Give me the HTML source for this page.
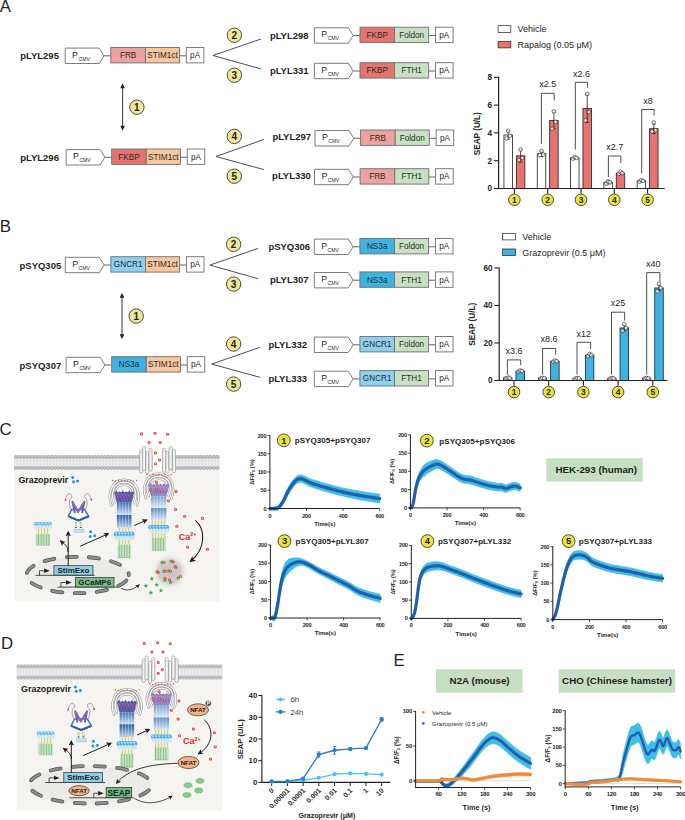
<!DOCTYPE html><html><head><meta charset="utf-8"><title>Figure</title><style>html,body{margin:0;padding:0;background:#fff;}svg{display:block;}text{font-family:"Liberation Sans", sans-serif;}</style></head><body>
<svg width="685" height="820" viewBox="0 0 685 820" font-family="&quot;Liberation Sans&quot;, sans-serif">
<defs>
<linearGradient id="gBlueA" x1="0" y1="0" x2="0" y2="1"><stop offset="0" stop-color="#3a70b4"/><stop offset="0.47" stop-color="#c9dbef"/><stop offset="0.5" stop-color="#2b5d9f"/><stop offset="1" stop-color="#bcd2eb"/></linearGradient>
<linearGradient id="gBlueB" x1="0" y1="0" x2="0" y2="1"><stop offset="0" stop-color="#7a9fcf"/><stop offset="0.47" stop-color="#dbe6f3"/><stop offset="0.5" stop-color="#5f8bc3"/><stop offset="1" stop-color="#d6e4f2"/></linearGradient>
<linearGradient id="gPurp" x1="0" y1="0" x2="0" y2="1"><stop offset="0" stop-color="#7a64ae"/><stop offset="0.6" stop-color="#5e4b96"/><stop offset="1" stop-color="#4d5f9f"/></linearGradient>
<linearGradient id="gPurpB" x1="0" y1="0" x2="0" y2="1"><stop offset="0" stop-color="#a898cc"/><stop offset="0.6" stop-color="#8a78b8"/><stop offset="1" stop-color="#8299c8"/></linearGradient>
<linearGradient id="gRing" x1="0" y1="0" x2="0" y2="1"><stop offset="0" stop-color="#b6dcf2"/><stop offset="0.5" stop-color="#4eaee3"/><stop offset="1" stop-color="#cfe7f6"/></linearGradient>
<pattern id="pStripe" x="0" y="0" width="2.6" height="10" patternUnits="userSpaceOnUse"><rect width="2.6" height="10" fill="#c4e2bd"/><rect x="2" width="0.6" height="10" fill="#6da875"/></pattern>
<pattern id="pYel" x="0" y="0" width="3" height="10" patternUnits="userSpaceOnUse"><rect width="3" height="10" fill="#f0efc6"/><rect x="2.4" width="0.6" height="10" fill="#b8b78e"/></pattern>
<radialGradient id="gGlow"><stop offset="0" stop-color="#cbbcbc" stop-opacity="0.9"/><stop offset="0.6" stop-color="#cfc3c2" stop-opacity="0.85"/><stop offset="1" stop-color="#f4f3f0" stop-opacity="0"/></radialGradient>
<marker id="ah" viewBox="0 0 10 10" refX="8" refY="5" markerWidth="5.6" markerHeight="5.6" orient="auto-start-reverse"><path d="M0 0L10 5L0 10L2.5 5Z" fill="#231f20"/></marker>
</defs>
<rect x="0" y="0" width="685" height="820" fill="#ffffff" stroke="none" stroke-width="1"/>
<text x="-0.3" y="12.4" font-size="16.8" fill="#231f20">A</text>
<text x="20.2" y="59.3" font-size="9.5" font-weight="bold" fill="#231f20">pLYL295</text>
<path d="M65.2 48.1H99.2L104 55.8L99.2 63.5H65.2Z" fill="#fff" stroke="#6d6e71" stroke-width="0.9"/>
<text x="72.1" y="57.7" font-size="8.8" fill="#2a2a2a">P</text>
<text x="78.5" y="60.6" font-size="5.1" fill="#2a2a2a">CMV</text>
<line x1="104" y1="55.8" x2="110.8" y2="55.8" stroke="#555" stroke-width="0.9"/>
<rect x="110.8" y="47.5" width="34.6" height="15.4" fill="#eda29d" stroke="#6d6e71" stroke-width="0.9"/>
<rect x="145.4" y="47.5" width="34.1" height="15.4" fill="#f8c7a0" stroke="#6d6e71" stroke-width="0.9"/>
<text x="128.1" y="58.1" font-size="8.2" text-anchor="middle" fill="#2a2a2a">FRB</text>
<text x="162.45" y="58.1" font-size="8.2" text-anchor="middle" fill="#2a2a2a">STIM1ct</text>
<line x1="179.5" y1="55.8" x2="186.3" y2="55.8" stroke="#555" stroke-width="0.9"/>
<rect x="186.3" y="47.5" width="17.6" height="15.4" fill="#fff" stroke="#6d6e71" stroke-width="0.9"/>
<text x="195.1" y="58.1" font-size="8.2" text-anchor="middle" fill="#2a2a2a">pA</text>
<text x="20.2" y="160.8" font-size="9.5" font-weight="bold" fill="#231f20">pLYL296</text>
<path d="M66.1 149.6H100.1L104.9 157.3L100.1 165H66.1Z" fill="#fff" stroke="#6d6e71" stroke-width="0.9"/>
<text x="73" y="159.2" font-size="8.8" fill="#2a2a2a">P</text>
<text x="79.4" y="162.1" font-size="5.1" fill="#2a2a2a">CMV</text>
<line x1="104.9" y1="157.3" x2="111.7" y2="157.3" stroke="#555" stroke-width="0.9"/>
<rect x="111.7" y="149" width="34.6" height="15.4" fill="#e6736f" stroke="#6d6e71" stroke-width="0.9"/>
<rect x="146.3" y="149" width="34.1" height="15.4" fill="#f8c7a0" stroke="#6d6e71" stroke-width="0.9"/>
<text x="129" y="159.6" font-size="8.2" text-anchor="middle" fill="#2a2a2a">FKBP</text>
<text x="163.35" y="159.6" font-size="8.2" text-anchor="middle" fill="#2a2a2a">STIM1ct</text>
<line x1="180.4" y1="157.3" x2="187.2" y2="157.3" stroke="#555" stroke-width="0.9"/>
<rect x="187.2" y="149" width="17.6" height="15.4" fill="#fff" stroke="#6d6e71" stroke-width="0.9"/>
<text x="196" y="159.6" font-size="8.2" text-anchor="middle" fill="#2a2a2a">pA</text>
<line x1="122.6" y1="86.3" x2="122.6" y2="127.8" stroke="#231f20" stroke-width="0.9"/>
<path d="M122.6 83.3L120.3 88.3L124.9 88.3Z" fill="#231f20" stroke="none" stroke-width="1"/>
<path d="M122.6 130.8L120.3 125.8L124.9 125.8Z" fill="#231f20" stroke="none" stroke-width="1"/>
<circle cx="136.9" cy="107.2" r="7.2" fill="#f1e798" stroke="#3a3a3a" stroke-width="0.9"/>
<text x="136.9" y="110.8" font-size="10" font-weight="bold" text-anchor="middle" fill="#231f20">1</text>
<path d="M261 39L213 55.5M213 55.5L261 68.9" fill="none" stroke="#3a3a3a" stroke-width="0.9"/>
<circle cx="234.4" cy="35.2" r="7.2" fill="#f1e798" stroke="#3a3a3a" stroke-width="0.9"/>
<text x="234.4" y="38.8" font-size="10" font-weight="bold" text-anchor="middle" fill="#231f20">2</text>
<circle cx="234.4" cy="75.2" r="7.2" fill="#f1e798" stroke="#3a3a3a" stroke-width="0.9"/>
<text x="234.4" y="78.8" font-size="10" font-weight="bold" text-anchor="middle" fill="#231f20">3</text>
<text x="269.9" y="39" font-size="9.5" font-weight="bold" fill="#231f20">pLYL298</text>
<path d="M314.4 27.8H348.4L353.2 35.5L348.4 43.2H314.4Z" fill="#fff" stroke="#6d6e71" stroke-width="0.9"/>
<text x="321.3" y="37.4" font-size="8.8" fill="#2a2a2a">P</text>
<text x="327.7" y="40.3" font-size="5.1" fill="#2a2a2a">CMV</text>
<line x1="353.2" y1="35.5" x2="360" y2="35.5" stroke="#555" stroke-width="0.9"/>
<rect x="360" y="27.2" width="34.6" height="15.4" fill="#e6736f" stroke="#6d6e71" stroke-width="0.9"/>
<rect x="394.6" y="27.2" width="34.1" height="15.4" fill="#c9e1c3" stroke="#6d6e71" stroke-width="0.9"/>
<text x="377.3" y="37.8" font-size="8.2" text-anchor="middle" fill="#2a2a2a">FKBP</text>
<text x="411.65" y="37.8" font-size="8.2" text-anchor="middle" fill="#2a2a2a">Foldon</text>
<line x1="428.7" y1="35.5" x2="435.5" y2="35.5" stroke="#555" stroke-width="0.9"/>
<rect x="435.5" y="27.2" width="17.6" height="15.4" fill="#fff" stroke="#6d6e71" stroke-width="0.9"/>
<text x="444.3" y="37.8" font-size="8.2" text-anchor="middle" fill="#2a2a2a">pA</text>
<text x="269.9" y="73.6" font-size="9.5" font-weight="bold" fill="#231f20">pLYL331</text>
<path d="M314.4 63.3H348.4L353.2 71L348.4 78.7H314.4Z" fill="#fff" stroke="#6d6e71" stroke-width="0.9"/>
<text x="321.3" y="72.9" font-size="8.8" fill="#2a2a2a">P</text>
<text x="327.7" y="75.8" font-size="5.1" fill="#2a2a2a">CMV</text>
<line x1="353.2" y1="71" x2="360" y2="71" stroke="#555" stroke-width="0.9"/>
<rect x="360" y="62.7" width="34.6" height="15.4" fill="#e6736f" stroke="#6d6e71" stroke-width="0.9"/>
<rect x="394.6" y="62.7" width="34.1" height="15.4" fill="#c9e1c3" stroke="#6d6e71" stroke-width="0.9"/>
<text x="377.3" y="73.3" font-size="8.2" text-anchor="middle" fill="#2a2a2a">FKBP</text>
<text x="411.65" y="73.3" font-size="8.2" text-anchor="middle" fill="#2a2a2a">FTH1</text>
<line x1="428.7" y1="71" x2="435.5" y2="71" stroke="#555" stroke-width="0.9"/>
<rect x="435.5" y="62.7" width="17.6" height="15.4" fill="#fff" stroke="#6d6e71" stroke-width="0.9"/>
<text x="444.3" y="73.3" font-size="8.2" text-anchor="middle" fill="#2a2a2a">pA</text>
<path d="M264 139.4L216 156.5M216 156.5L264 169.6" fill="none" stroke="#3a3a3a" stroke-width="0.9"/>
<circle cx="234.3" cy="136.4" r="7.2" fill="#f1e798" stroke="#3a3a3a" stroke-width="0.9"/>
<text x="234.3" y="140" font-size="10" font-weight="bold" text-anchor="middle" fill="#231f20">4</text>
<circle cx="234.3" cy="176.2" r="7.2" fill="#f1e798" stroke="#3a3a3a" stroke-width="0.9"/>
<text x="234.3" y="179.8" font-size="10" font-weight="bold" text-anchor="middle" fill="#231f20">5</text>
<text x="272.4" y="140" font-size="9.5" font-weight="bold" fill="#231f20">pLYL297</text>
<path d="M315 130.6H349L353.8 138.3L349 146H315Z" fill="#fff" stroke="#6d6e71" stroke-width="0.9"/>
<text x="321.9" y="140.2" font-size="8.8" fill="#2a2a2a">P</text>
<text x="328.3" y="143.1" font-size="5.1" fill="#2a2a2a">CMV</text>
<line x1="353.8" y1="138.3" x2="360.6" y2="138.3" stroke="#555" stroke-width="0.9"/>
<rect x="360.6" y="130" width="34.6" height="15.4" fill="#eda29d" stroke="#6d6e71" stroke-width="0.9"/>
<rect x="395.2" y="130" width="34.1" height="15.4" fill="#c9e1c3" stroke="#6d6e71" stroke-width="0.9"/>
<text x="377.9" y="140.6" font-size="8.2" text-anchor="middle" fill="#2a2a2a">FRB</text>
<text x="412.25" y="140.6" font-size="8.2" text-anchor="middle" fill="#2a2a2a">Foldon</text>
<line x1="429.3" y1="138.3" x2="436.1" y2="138.3" stroke="#555" stroke-width="0.9"/>
<rect x="436.1" y="130" width="17.6" height="15.4" fill="#fff" stroke="#6d6e71" stroke-width="0.9"/>
<text x="444.9" y="140.6" font-size="8.2" text-anchor="middle" fill="#2a2a2a">pA</text>
<text x="272.1" y="178.7" font-size="9.5" font-weight="bold" fill="#231f20">pLYL330</text>
<path d="M314.5 169.3H348.5L353.3 177L348.5 184.7H314.5Z" fill="#fff" stroke="#6d6e71" stroke-width="0.9"/>
<text x="321.4" y="178.9" font-size="8.8" fill="#2a2a2a">P</text>
<text x="327.8" y="181.8" font-size="5.1" fill="#2a2a2a">CMV</text>
<line x1="353.3" y1="177" x2="360.1" y2="177" stroke="#555" stroke-width="0.9"/>
<rect x="360.1" y="168.7" width="34.6" height="15.4" fill="#eda29d" stroke="#6d6e71" stroke-width="0.9"/>
<rect x="394.7" y="168.7" width="34.1" height="15.4" fill="#c9e1c3" stroke="#6d6e71" stroke-width="0.9"/>
<text x="377.4" y="179.3" font-size="8.2" text-anchor="middle" fill="#2a2a2a">FRB</text>
<text x="411.75" y="179.3" font-size="8.2" text-anchor="middle" fill="#2a2a2a">FTH1</text>
<line x1="428.8" y1="177" x2="435.6" y2="177" stroke="#555" stroke-width="0.9"/>
<rect x="435.6" y="168.7" width="17.6" height="15.4" fill="#fff" stroke="#6d6e71" stroke-width="0.9"/>
<text x="444.4" y="179.3" font-size="8.2" text-anchor="middle" fill="#2a2a2a">pA</text>
<rect x="498.1" y="25.7" width="12.7" height="6.7" fill="#fff" stroke="#231f20" stroke-width="0.7"/>
<text x="517.4" y="32.3" font-size="9" fill="#231f20">Vehicle</text>
<rect x="498.1" y="41.3" width="12.7" height="6.6" fill="#e6736f" stroke="#231f20" stroke-width="0.7"/>
<text x="517.4" y="47.9" font-size="9" fill="#231f20">Rapalog (0.05 μM)</text>
<line x1="493.8" y1="188.5" x2="498.6" y2="188.5" stroke="#231f20" stroke-width="1.1"/>
<text x="492" y="191.4" font-size="8.2" font-weight="bold" text-anchor="end" fill="#231f20">0</text>
<line x1="493.8" y1="160.7" x2="498.6" y2="160.7" stroke="#231f20" stroke-width="1.1"/>
<text x="492" y="163.6" font-size="8.2" font-weight="bold" text-anchor="end" fill="#231f20">2</text>
<line x1="493.8" y1="132.9" x2="498.6" y2="132.9" stroke="#231f20" stroke-width="1.1"/>
<text x="492" y="135.8" font-size="8.2" font-weight="bold" text-anchor="end" fill="#231f20">4</text>
<line x1="493.8" y1="105.1" x2="498.6" y2="105.1" stroke="#231f20" stroke-width="1.1"/>
<text x="492" y="108" font-size="8.2" font-weight="bold" text-anchor="end" fill="#231f20">6</text>
<line x1="493.8" y1="77.3" x2="498.6" y2="77.3" stroke="#231f20" stroke-width="1.1"/>
<text x="492" y="80.2" font-size="8.2" font-weight="bold" text-anchor="end" fill="#231f20">8</text>
<rect x="503.95" y="134.99" width="8.5" height="53.51" fill="#fff" stroke="#231f20" stroke-width="0.8"/>
<rect x="516.35" y="155.84" width="8.5" height="32.66" fill="#e6736f" stroke="#231f20" stroke-width="0.8"/>
<line x1="514.4" y1="188.5" x2="514.4" y2="193.7" stroke="#231f20" stroke-width="1.1"/>
<circle cx="514.4" cy="199.8" r="5.8" fill="#ebe53a" stroke="#3a3a3a" stroke-width="0.9"/>
<text x="514.4" y="202.82" font-size="8.4" font-weight="bold" text-anchor="middle" fill="#231f20">1</text>
<rect x="537.25" y="153.75" width="8.5" height="34.75" fill="#fff" stroke="#231f20" stroke-width="0.8"/>
<rect x="549.65" y="120.39" width="8.5" height="68.11" fill="#e6736f" stroke="#231f20" stroke-width="0.8"/>
<line x1="547.7" y1="188.5" x2="547.7" y2="193.7" stroke="#231f20" stroke-width="1.1"/>
<circle cx="547.7" cy="199.8" r="5.8" fill="#ebe53a" stroke="#3a3a3a" stroke-width="0.9"/>
<text x="547.7" y="202.82" font-size="8.4" font-weight="bold" text-anchor="middle" fill="#231f20">2</text>
<rect x="570.55" y="157.92" width="8.5" height="30.58" fill="#fff" stroke="#231f20" stroke-width="0.8"/>
<rect x="582.95" y="108.58" width="8.5" height="79.92" fill="#e6736f" stroke="#231f20" stroke-width="0.8"/>
<line x1="581" y1="188.5" x2="581" y2="193.7" stroke="#231f20" stroke-width="1.1"/>
<circle cx="581" cy="199.8" r="5.8" fill="#ebe53a" stroke="#3a3a3a" stroke-width="0.9"/>
<text x="581" y="202.82" font-size="8.4" font-weight="bold" text-anchor="middle" fill="#231f20">3</text>
<rect x="603.85" y="182.25" width="8.5" height="6.25" fill="#fff" stroke="#231f20" stroke-width="0.8"/>
<rect x="616.25" y="173.21" width="8.5" height="15.29" fill="#e6736f" stroke="#231f20" stroke-width="0.8"/>
<line x1="614.3" y1="188.5" x2="614.3" y2="193.7" stroke="#231f20" stroke-width="1.1"/>
<circle cx="614.3" cy="199.8" r="5.8" fill="#ebe53a" stroke="#3a3a3a" stroke-width="0.9"/>
<text x="614.3" y="202.82" font-size="8.4" font-weight="bold" text-anchor="middle" fill="#231f20">4</text>
<rect x="637.15" y="180.85" width="8.5" height="7.65" fill="#fff" stroke="#231f20" stroke-width="0.8"/>
<rect x="649.55" y="128.73" width="8.5" height="59.77" fill="#e6736f" stroke="#231f20" stroke-width="0.8"/>
<line x1="647.6" y1="188.5" x2="647.6" y2="193.7" stroke="#231f20" stroke-width="1.1"/>
<circle cx="647.6" cy="199.8" r="5.8" fill="#ebe53a" stroke="#3a3a3a" stroke-width="0.9"/>
<text x="647.6" y="202.82" font-size="8.4" font-weight="bold" text-anchor="middle" fill="#231f20">5</text>
<line x1="498.6" y1="76.8" x2="498.6" y2="189.05" stroke="#231f20" stroke-width="1.2"/>
<line x1="498" y1="188.5" x2="664.7" y2="188.5" stroke="#231f20" stroke-width="1.2"/>
<path d="M541.4 143.8V93.3H554.2V100.5" fill="none" stroke="#231f20" stroke-width="0.8"/>
<text x="547.8" y="87.4" font-size="9" text-anchor="middle" fill="#231f20">x2.5</text>
<path d="M575.3 149.6V82.3H587.6V87.7" fill="none" stroke="#231f20" stroke-width="0.8"/>
<text x="581.45" y="76.6" font-size="9" text-anchor="middle" fill="#231f20">x2.6</text>
<path d="M608.4 176.9V156H620.9V163.2" fill="none" stroke="#231f20" stroke-width="0.8"/>
<text x="614.65" y="150.1" font-size="9" text-anchor="middle" fill="#231f20">x2.7</text>
<path d="M641.7 173.5V109.5H654.1V115.5" fill="none" stroke="#231f20" stroke-width="0.8"/>
<text x="647.9" y="103.9" font-size="9" text-anchor="middle" fill="#231f20">x8</text>
<text transform="translate(480.2 133.7) rotate(-90)" font-size="8.2" font-weight="bold" text-anchor="middle" fill="#231f20">SEAP (U/L)</text>
<line x1="508.2" y1="130.81" x2="508.2" y2="139.16" stroke="#231f20" stroke-width="0.8"/>
<line x1="506.4" y1="130.81" x2="510" y2="130.81" stroke="#231f20" stroke-width="0.8"/>
<line x1="506.4" y1="139.16" x2="510" y2="139.16" stroke="#231f20" stroke-width="0.8"/>
<circle cx="506.5" cy="138.46" r="1.85" fill="#fff" stroke="#231f20" stroke-width="0.6" fill-opacity="0.75"/>
<circle cx="508.2" cy="130.81" r="1.85" fill="#fff" stroke="#231f20" stroke-width="0.6" fill-opacity="0.75"/>
<circle cx="509.9" cy="135.68" r="1.85" fill="#fff" stroke="#231f20" stroke-width="0.6" fill-opacity="0.75"/>
<line x1="520.6" y1="149.58" x2="520.6" y2="162.09" stroke="#231f20" stroke-width="0.8"/>
<line x1="518.8" y1="149.58" x2="522.4" y2="149.58" stroke="#231f20" stroke-width="0.8"/>
<line x1="518.8" y1="162.09" x2="522.4" y2="162.09" stroke="#231f20" stroke-width="0.8"/>
<circle cx="518.9" cy="160" r="1.85" fill="#fff" stroke="#231f20" stroke-width="0.6" fill-opacity="0.75"/>
<circle cx="520.6" cy="149.58" r="1.85" fill="#fff" stroke="#231f20" stroke-width="0.6" fill-opacity="0.75"/>
<circle cx="522.3" cy="157.92" r="1.85" fill="#fff" stroke="#231f20" stroke-width="0.6" fill-opacity="0.75"/>
<line x1="541.5" y1="150.97" x2="541.5" y2="156.53" stroke="#231f20" stroke-width="0.8"/>
<line x1="539.7" y1="150.97" x2="543.3" y2="150.97" stroke="#231f20" stroke-width="0.8"/>
<line x1="539.7" y1="156.53" x2="543.3" y2="156.53" stroke="#231f20" stroke-width="0.8"/>
<circle cx="539.8" cy="155.14" r="1.85" fill="#fff" stroke="#231f20" stroke-width="0.6" fill-opacity="0.75"/>
<circle cx="541.5" cy="150.97" r="1.85" fill="#fff" stroke="#231f20" stroke-width="0.6" fill-opacity="0.75"/>
<circle cx="543.2" cy="154.44" r="1.85" fill="#fff" stroke="#231f20" stroke-width="0.6" fill-opacity="0.75"/>
<line x1="553.9" y1="112.05" x2="553.9" y2="128.73" stroke="#231f20" stroke-width="0.8"/>
<line x1="552.1" y1="112.05" x2="555.7" y2="112.05" stroke="#231f20" stroke-width="0.8"/>
<line x1="552.1" y1="128.73" x2="555.7" y2="128.73" stroke="#231f20" stroke-width="0.8"/>
<circle cx="552.2" cy="128.73" r="1.85" fill="#fff" stroke="#231f20" stroke-width="0.6" fill-opacity="0.75"/>
<circle cx="553.9" cy="111.36" r="1.85" fill="#fff" stroke="#231f20" stroke-width="0.6" fill-opacity="0.75"/>
<circle cx="555.6" cy="121.78" r="1.85" fill="#fff" stroke="#231f20" stroke-width="0.6" fill-opacity="0.75"/>
<line x1="574.8" y1="157.22" x2="574.8" y2="158.62" stroke="#231f20" stroke-width="0.8"/>
<line x1="573" y1="157.22" x2="576.6" y2="157.22" stroke="#231f20" stroke-width="0.8"/>
<line x1="573" y1="158.62" x2="576.6" y2="158.62" stroke="#231f20" stroke-width="0.8"/>
<circle cx="573.1" cy="158.62" r="1.85" fill="#fff" stroke="#231f20" stroke-width="0.6" fill-opacity="0.75"/>
<circle cx="574.8" cy="157.22" r="1.85" fill="#fff" stroke="#231f20" stroke-width="0.6" fill-opacity="0.75"/>
<circle cx="576.5" cy="157.92" r="1.85" fill="#fff" stroke="#231f20" stroke-width="0.6" fill-opacity="0.75"/>
<line x1="587.2" y1="94.67" x2="587.2" y2="122.47" stroke="#231f20" stroke-width="0.8"/>
<line x1="585.4" y1="94.67" x2="589" y2="94.67" stroke="#231f20" stroke-width="0.8"/>
<line x1="585.4" y1="122.47" x2="589" y2="122.47" stroke="#231f20" stroke-width="0.8"/>
<circle cx="585.5" cy="120.39" r="1.85" fill="#fff" stroke="#231f20" stroke-width="0.6" fill-opacity="0.75"/>
<circle cx="587.2" cy="93.98" r="1.85" fill="#fff" stroke="#231f20" stroke-width="0.6" fill-opacity="0.75"/>
<circle cx="588.9" cy="112.05" r="1.85" fill="#fff" stroke="#231f20" stroke-width="0.6" fill-opacity="0.75"/>
<line x1="608.1" y1="180.58" x2="608.1" y2="183.91" stroke="#231f20" stroke-width="0.8"/>
<line x1="606.3" y1="180.58" x2="609.9" y2="180.58" stroke="#231f20" stroke-width="0.8"/>
<line x1="606.3" y1="183.91" x2="609.9" y2="183.91" stroke="#231f20" stroke-width="0.8"/>
<circle cx="606.4" cy="183.63" r="1.85" fill="#fff" stroke="#231f20" stroke-width="0.6" fill-opacity="0.75"/>
<circle cx="608.1" cy="181.55" r="1.85" fill="#fff" stroke="#231f20" stroke-width="0.6" fill-opacity="0.75"/>
<circle cx="609.8" cy="182.25" r="1.85" fill="#fff" stroke="#231f20" stroke-width="0.6" fill-opacity="0.75"/>
<line x1="620.5" y1="172.1" x2="620.5" y2="174.32" stroke="#231f20" stroke-width="0.8"/>
<line x1="618.7" y1="172.1" x2="622.3" y2="172.1" stroke="#231f20" stroke-width="0.8"/>
<line x1="618.7" y1="174.32" x2="622.3" y2="174.32" stroke="#231f20" stroke-width="0.8"/>
<circle cx="618.8" cy="173.91" r="1.85" fill="#fff" stroke="#231f20" stroke-width="0.6" fill-opacity="0.75"/>
<circle cx="620.5" cy="171.82" r="1.85" fill="#fff" stroke="#231f20" stroke-width="0.6" fill-opacity="0.75"/>
<circle cx="622.2" cy="173.21" r="1.85" fill="#fff" stroke="#231f20" stroke-width="0.6" fill-opacity="0.75"/>
<line x1="641.4" y1="180.16" x2="641.4" y2="181.55" stroke="#231f20" stroke-width="0.8"/>
<line x1="639.6" y1="180.16" x2="643.2" y2="180.16" stroke="#231f20" stroke-width="0.8"/>
<line x1="639.6" y1="181.55" x2="643.2" y2="181.55" stroke="#231f20" stroke-width="0.8"/>
<circle cx="639.7" cy="181.55" r="1.85" fill="#fff" stroke="#231f20" stroke-width="0.6" fill-opacity="0.75"/>
<circle cx="641.4" cy="180.16" r="1.85" fill="#fff" stroke="#231f20" stroke-width="0.6" fill-opacity="0.75"/>
<circle cx="643.1" cy="180.85" r="1.85" fill="#fff" stroke="#231f20" stroke-width="0.6" fill-opacity="0.75"/>
<line x1="653.8" y1="123.87" x2="653.8" y2="133.59" stroke="#231f20" stroke-width="0.8"/>
<line x1="652" y1="123.87" x2="655.6" y2="123.87" stroke="#231f20" stroke-width="0.8"/>
<line x1="652" y1="133.59" x2="655.6" y2="133.59" stroke="#231f20" stroke-width="0.8"/>
<circle cx="652.1" cy="131.51" r="1.85" fill="#fff" stroke="#231f20" stroke-width="0.6" fill-opacity="0.75"/>
<circle cx="653.8" cy="122.47" r="1.85" fill="#fff" stroke="#231f20" stroke-width="0.6" fill-opacity="0.75"/>
<circle cx="655.5" cy="130.12" r="1.85" fill="#fff" stroke="#231f20" stroke-width="0.6" fill-opacity="0.75"/>
<text x="-0.3" y="232.1" font-size="16.8" fill="#231f20">B</text>
<text x="19.5" y="268.5" font-size="9.5" font-weight="bold" fill="#231f20">pSYQ305</text>
<path d="M65.3 257.3H99.3L104.1 265L99.3 272.7H65.3Z" fill="#fff" stroke="#6d6e71" stroke-width="0.9"/>
<text x="72.2" y="266.9" font-size="8.8" fill="#2a2a2a">P</text>
<text x="78.6" y="269.8" font-size="5.1" fill="#2a2a2a">CMV</text>
<line x1="104.1" y1="265" x2="110.9" y2="265" stroke="#555" stroke-width="0.9"/>
<rect x="110.9" y="256.7" width="34.6" height="15.4" fill="#8dd0ef" stroke="#6d6e71" stroke-width="0.9"/>
<rect x="145.5" y="256.7" width="34.1" height="15.4" fill="#f8c7a0" stroke="#6d6e71" stroke-width="0.9"/>
<text x="128.2" y="267.3" font-size="8.2" text-anchor="middle" fill="#2a2a2a">GNCR1</text>
<text x="162.55" y="267.3" font-size="8.2" text-anchor="middle" fill="#2a2a2a">STIM1ct</text>
<line x1="179.6" y1="265" x2="186.4" y2="265" stroke="#555" stroke-width="0.9"/>
<rect x="186.4" y="256.7" width="17.6" height="15.4" fill="#fff" stroke="#6d6e71" stroke-width="0.9"/>
<text x="195.2" y="267.3" font-size="8.2" text-anchor="middle" fill="#2a2a2a">pA</text>
<text x="19.5" y="368.5" font-size="9.5" font-weight="bold" fill="#231f20">pSYQ307</text>
<path d="M66.1 357.3H100.1L104.9 365L100.1 372.7H66.1Z" fill="#fff" stroke="#6d6e71" stroke-width="0.9"/>
<text x="73" y="366.9" font-size="8.8" fill="#2a2a2a">P</text>
<text x="79.4" y="369.8" font-size="5.1" fill="#2a2a2a">CMV</text>
<line x1="104.9" y1="365" x2="111.7" y2="365" stroke="#555" stroke-width="0.9"/>
<rect x="111.7" y="356.7" width="34.6" height="15.4" fill="#3db3e3" stroke="#6d6e71" stroke-width="0.9"/>
<rect x="146.3" y="356.7" width="34.1" height="15.4" fill="#f8c7a0" stroke="#6d6e71" stroke-width="0.9"/>
<text x="129" y="367.3" font-size="8.2" text-anchor="middle" fill="#2a2a2a">NS3a</text>
<text x="163.35" y="367.3" font-size="8.2" text-anchor="middle" fill="#2a2a2a">STIM1ct</text>
<line x1="180.4" y1="365" x2="187.2" y2="365" stroke="#555" stroke-width="0.9"/>
<rect x="187.2" y="356.7" width="17.6" height="15.4" fill="#fff" stroke="#6d6e71" stroke-width="0.9"/>
<text x="196" y="367.3" font-size="8.2" text-anchor="middle" fill="#2a2a2a">pA</text>
<line x1="122" y1="295.7" x2="122" y2="336.3" stroke="#231f20" stroke-width="0.9"/>
<path d="M122 292.7L119.7 297.7L124.3 297.7Z" fill="#231f20" stroke="none" stroke-width="1"/>
<path d="M122 339.3L119.7 334.3L124.3 334.3Z" fill="#231f20" stroke="none" stroke-width="1"/>
<circle cx="136.2" cy="316.1" r="7.2" fill="#f1e798" stroke="#3a3a3a" stroke-width="0.9"/>
<text x="136.2" y="319.7" font-size="10" font-weight="bold" text-anchor="middle" fill="#231f20">1</text>
<path d="M258.1 248.4L209.9 265.1M209.9 265.1L258.1 278.7" fill="none" stroke="#3a3a3a" stroke-width="0.9"/>
<circle cx="233.6" cy="244.3" r="7.2" fill="#f1e798" stroke="#3a3a3a" stroke-width="0.9"/>
<text x="233.6" y="247.9" font-size="10" font-weight="bold" text-anchor="middle" fill="#231f20">2</text>
<circle cx="233.6" cy="284.1" r="7.2" fill="#f1e798" stroke="#3a3a3a" stroke-width="0.9"/>
<text x="233.6" y="287.7" font-size="10" font-weight="bold" text-anchor="middle" fill="#231f20">3</text>
<text x="268.4" y="250.3" font-size="9.5" font-weight="bold" fill="#231f20">pSYQ306</text>
<path d="M314.3 239.1H348.3L353.1 246.8L348.3 254.5H314.3Z" fill="#fff" stroke="#6d6e71" stroke-width="0.9"/>
<text x="321.2" y="248.7" font-size="8.8" fill="#2a2a2a">P</text>
<text x="327.6" y="251.6" font-size="5.1" fill="#2a2a2a">CMV</text>
<line x1="353.1" y1="246.8" x2="359.9" y2="246.8" stroke="#555" stroke-width="0.9"/>
<rect x="359.9" y="238.5" width="34.6" height="15.4" fill="#3db3e3" stroke="#6d6e71" stroke-width="0.9"/>
<rect x="394.5" y="238.5" width="34.1" height="15.4" fill="#c9e1c3" stroke="#6d6e71" stroke-width="0.9"/>
<text x="377.2" y="249.1" font-size="8.2" text-anchor="middle" fill="#2a2a2a">NS3a</text>
<text x="411.55" y="249.1" font-size="8.2" text-anchor="middle" fill="#2a2a2a">Foldon</text>
<line x1="428.6" y1="246.8" x2="435.4" y2="246.8" stroke="#555" stroke-width="0.9"/>
<rect x="435.4" y="238.5" width="17.6" height="15.4" fill="#fff" stroke="#6d6e71" stroke-width="0.9"/>
<text x="444.2" y="249.1" font-size="8.2" text-anchor="middle" fill="#2a2a2a">pA</text>
<text x="269.9" y="282.7" font-size="9.5" font-weight="bold" fill="#231f20">pLYL307</text>
<path d="M314.3 272.5H348.3L353.1 280.2L348.3 287.9H314.3Z" fill="#fff" stroke="#6d6e71" stroke-width="0.9"/>
<text x="321.2" y="282.1" font-size="8.8" fill="#2a2a2a">P</text>
<text x="327.6" y="285" font-size="5.1" fill="#2a2a2a">CMV</text>
<line x1="353.1" y1="280.2" x2="359.9" y2="280.2" stroke="#555" stroke-width="0.9"/>
<rect x="359.9" y="271.9" width="34.6" height="15.4" fill="#3db3e3" stroke="#6d6e71" stroke-width="0.9"/>
<rect x="394.5" y="271.9" width="34.1" height="15.4" fill="#c9e1c3" stroke="#6d6e71" stroke-width="0.9"/>
<text x="377.2" y="282.5" font-size="8.2" text-anchor="middle" fill="#2a2a2a">NS3a</text>
<text x="411.55" y="282.5" font-size="8.2" text-anchor="middle" fill="#2a2a2a">FTH1</text>
<line x1="428.6" y1="280.2" x2="435.4" y2="280.2" stroke="#555" stroke-width="0.9"/>
<rect x="435.4" y="271.9" width="17.6" height="15.4" fill="#fff" stroke="#6d6e71" stroke-width="0.9"/>
<text x="444.2" y="282.5" font-size="8.2" text-anchor="middle" fill="#2a2a2a">pA</text>
<path d="M259.9 347.3L211.7 364.1M211.7 364.1L259.9 377.3" fill="none" stroke="#3a3a3a" stroke-width="0.9"/>
<circle cx="233.6" cy="344" r="7.2" fill="#f1e798" stroke="#3a3a3a" stroke-width="0.9"/>
<text x="233.6" y="347.6" font-size="10" font-weight="bold" text-anchor="middle" fill="#231f20">4</text>
<circle cx="233.6" cy="384.1" r="7.2" fill="#f1e798" stroke="#3a3a3a" stroke-width="0.9"/>
<text x="233.6" y="387.7" font-size="10" font-weight="bold" text-anchor="middle" fill="#231f20">5</text>
<text x="268.4" y="348.3" font-size="9.5" font-weight="bold" fill="#231f20">pLYL332</text>
<path d="M314.3 337.1H348.3L353.1 344.8L348.3 352.5H314.3Z" fill="#fff" stroke="#6d6e71" stroke-width="0.9"/>
<text x="321.2" y="346.7" font-size="8.8" fill="#2a2a2a">P</text>
<text x="327.6" y="349.6" font-size="5.1" fill="#2a2a2a">CMV</text>
<line x1="353.1" y1="344.8" x2="359.9" y2="344.8" stroke="#555" stroke-width="0.9"/>
<rect x="359.9" y="336.5" width="34.6" height="15.4" fill="#8dd0ef" stroke="#6d6e71" stroke-width="0.9"/>
<rect x="394.5" y="336.5" width="34.1" height="15.4" fill="#c9e1c3" stroke="#6d6e71" stroke-width="0.9"/>
<text x="377.2" y="347.1" font-size="8.2" text-anchor="middle" fill="#2a2a2a">GNCR1</text>
<text x="411.55" y="347.1" font-size="8.2" text-anchor="middle" fill="#2a2a2a">Foldon</text>
<line x1="428.6" y1="344.8" x2="435.4" y2="344.8" stroke="#555" stroke-width="0.9"/>
<rect x="435.4" y="336.5" width="17.6" height="15.4" fill="#fff" stroke="#6d6e71" stroke-width="0.9"/>
<text x="444.2" y="347.1" font-size="8.2" text-anchor="middle" fill="#2a2a2a">pA</text>
<text x="268.4" y="382.4" font-size="9.5" font-weight="bold" fill="#231f20">pLYL333</text>
<path d="M314.3 371.2H348.3L353.1 378.9L348.3 386.6H314.3Z" fill="#fff" stroke="#6d6e71" stroke-width="0.9"/>
<text x="321.2" y="380.8" font-size="8.8" fill="#2a2a2a">P</text>
<text x="327.6" y="383.7" font-size="5.1" fill="#2a2a2a">CMV</text>
<line x1="353.1" y1="378.9" x2="359.9" y2="378.9" stroke="#555" stroke-width="0.9"/>
<rect x="359.9" y="370.6" width="34.6" height="15.4" fill="#8dd0ef" stroke="#6d6e71" stroke-width="0.9"/>
<rect x="394.5" y="370.6" width="34.1" height="15.4" fill="#c9e1c3" stroke="#6d6e71" stroke-width="0.9"/>
<text x="377.2" y="381.2" font-size="8.2" text-anchor="middle" fill="#2a2a2a">GNCR1</text>
<text x="411.55" y="381.2" font-size="8.2" text-anchor="middle" fill="#2a2a2a">FTH1</text>
<line x1="428.6" y1="378.9" x2="435.4" y2="378.9" stroke="#555" stroke-width="0.9"/>
<rect x="435.4" y="370.6" width="17.6" height="15.4" fill="#fff" stroke="#6d6e71" stroke-width="0.9"/>
<text x="444.2" y="381.2" font-size="8.2" text-anchor="middle" fill="#2a2a2a">pA</text>
<rect x="502.6" y="233.3" width="12.9" height="6.6" fill="#fff" stroke="#231f20" stroke-width="0.7"/>
<text x="522.2" y="240" font-size="9" fill="#231f20">Vehicle</text>
<rect x="502.6" y="249" width="12.9" height="6.5" fill="#3db3e3" stroke="#231f20" stroke-width="0.7"/>
<text x="522.2" y="256" font-size="9" fill="#231f20">Grazoprevir (0.5 μM)</text>
<line x1="494.4" y1="380.5" x2="499.2" y2="380.5" stroke="#231f20" stroke-width="1.1"/>
<text x="492.6" y="383.4" font-size="8.2" font-weight="bold" text-anchor="end" fill="#231f20">0</text>
<line x1="494.4" y1="342.96" x2="499.2" y2="342.96" stroke="#231f20" stroke-width="1.1"/>
<text x="492.6" y="345.86" font-size="8.2" font-weight="bold" text-anchor="end" fill="#231f20">20</text>
<line x1="494.4" y1="305.42" x2="499.2" y2="305.42" stroke="#231f20" stroke-width="1.1"/>
<text x="492.6" y="308.32" font-size="8.2" font-weight="bold" text-anchor="end" fill="#231f20">40</text>
<line x1="494.4" y1="267.88" x2="499.2" y2="267.88" stroke="#231f20" stroke-width="1.1"/>
<text x="492.6" y="270.78" font-size="8.2" font-weight="bold" text-anchor="end" fill="#231f20">60</text>
<rect x="503.55" y="377.87" width="8.5" height="2.63" fill="#fff" stroke="#231f20" stroke-width="0.8"/>
<rect x="515.95" y="371.12" width="8.5" height="9.38" fill="#3db3e3" stroke="#231f20" stroke-width="0.8"/>
<line x1="514" y1="380.5" x2="514" y2="385.7" stroke="#231f20" stroke-width="1.1"/>
<circle cx="514" cy="392.1" r="5.8" fill="#ebe53a" stroke="#3a3a3a" stroke-width="0.9"/>
<text x="514" y="395.12" font-size="8.4" font-weight="bold" text-anchor="middle" fill="#231f20">1</text>
<rect x="538.25" y="378.15" width="8.5" height="2.35" fill="#fff" stroke="#231f20" stroke-width="0.8"/>
<rect x="550.65" y="361.17" width="8.5" height="19.33" fill="#3db3e3" stroke="#231f20" stroke-width="0.8"/>
<line x1="548.7" y1="380.5" x2="548.7" y2="385.7" stroke="#231f20" stroke-width="1.1"/>
<circle cx="548.7" cy="392.1" r="5.8" fill="#ebe53a" stroke="#3a3a3a" stroke-width="0.9"/>
<text x="548.7" y="395.12" font-size="8.4" font-weight="bold" text-anchor="middle" fill="#231f20">2</text>
<rect x="572.95" y="378.34" width="8.5" height="2.16" fill="#fff" stroke="#231f20" stroke-width="0.8"/>
<rect x="585.35" y="355.16" width="8.5" height="25.34" fill="#3db3e3" stroke="#231f20" stroke-width="0.8"/>
<line x1="583.4" y1="380.5" x2="583.4" y2="385.7" stroke="#231f20" stroke-width="1.1"/>
<circle cx="583.4" cy="392.1" r="5.8" fill="#ebe53a" stroke="#3a3a3a" stroke-width="0.9"/>
<text x="583.4" y="395.12" font-size="8.4" font-weight="bold" text-anchor="middle" fill="#231f20">3</text>
<rect x="607.65" y="378.44" width="8.5" height="2.06" fill="#fff" stroke="#231f20" stroke-width="0.8"/>
<rect x="620.05" y="327.94" width="8.5" height="52.56" fill="#3db3e3" stroke="#231f20" stroke-width="0.8"/>
<line x1="618.1" y1="380.5" x2="618.1" y2="385.7" stroke="#231f20" stroke-width="1.1"/>
<circle cx="618.1" cy="392.1" r="5.8" fill="#ebe53a" stroke="#3a3a3a" stroke-width="0.9"/>
<text x="618.1" y="395.12" font-size="8.4" font-weight="bold" text-anchor="middle" fill="#231f20">4</text>
<rect x="642.35" y="378.25" width="8.5" height="2.25" fill="#fff" stroke="#231f20" stroke-width="0.8"/>
<rect x="654.75" y="287.96" width="8.5" height="92.54" fill="#3db3e3" stroke="#231f20" stroke-width="0.8"/>
<line x1="652.8" y1="380.5" x2="652.8" y2="385.7" stroke="#231f20" stroke-width="1.1"/>
<circle cx="652.8" cy="392.1" r="5.8" fill="#ebe53a" stroke="#3a3a3a" stroke-width="0.9"/>
<text x="652.8" y="395.12" font-size="8.4" font-weight="bold" text-anchor="middle" fill="#231f20">5</text>
<line x1="499.2" y1="267.38" x2="499.2" y2="381.05" stroke="#231f20" stroke-width="1.2"/>
<line x1="498.6" y1="380.5" x2="667.5" y2="380.5" stroke="#231f20" stroke-width="1.2"/>
<path d="M507.4 374.8V359.9H520.7V365.1" fill="none" stroke="#231f20" stroke-width="0.8"/>
<text x="514.05" y="353.7" font-size="9" text-anchor="middle" fill="#231f20">x3.6</text>
<path d="M542.6 374.8V348.5H555.6V354.6" fill="none" stroke="#231f20" stroke-width="0.8"/>
<text x="549.1" y="342.3" font-size="9" text-anchor="middle" fill="#231f20">x8.6</text>
<path d="M577 374.6V342.3H590.6V349" fill="none" stroke="#231f20" stroke-width="0.8"/>
<text x="583.8" y="336.6" font-size="9" text-anchor="middle" fill="#231f20">x12</text>
<path d="M611.5 374.6V312.2H624.7V320.7" fill="none" stroke="#231f20" stroke-width="0.8"/>
<text x="618.1" y="306.2" font-size="9" text-anchor="middle" fill="#231f20">x25</text>
<path d="M646.7 374.6V272.6H659.9V281.8" fill="none" stroke="#231f20" stroke-width="0.8"/>
<text x="653.3" y="266.8" font-size="9" text-anchor="middle" fill="#231f20">x40</text>
<text transform="translate(475 324.3) rotate(-90)" font-size="8.2" font-weight="bold" text-anchor="middle" fill="#231f20">SEAP (U/L)</text>
<line x1="507.8" y1="377.68" x2="507.8" y2="378.06" stroke="#231f20" stroke-width="0.8"/>
<line x1="506" y1="377.68" x2="509.6" y2="377.68" stroke="#231f20" stroke-width="0.8"/>
<line x1="506" y1="378.06" x2="509.6" y2="378.06" stroke="#231f20" stroke-width="0.8"/>
<circle cx="506.1" cy="378.25" r="1.85" fill="#fff" stroke="#231f20" stroke-width="0.6" fill-opacity="0.75"/>
<circle cx="507.8" cy="377.68" r="1.85" fill="#fff" stroke="#231f20" stroke-width="0.6" fill-opacity="0.75"/>
<circle cx="509.5" cy="377.87" r="1.85" fill="#fff" stroke="#231f20" stroke-width="0.6" fill-opacity="0.75"/>
<line x1="520.2" y1="370.55" x2="520.2" y2="371.68" stroke="#231f20" stroke-width="0.8"/>
<line x1="518.4" y1="370.55" x2="522" y2="370.55" stroke="#231f20" stroke-width="0.8"/>
<line x1="518.4" y1="371.68" x2="522" y2="371.68" stroke="#231f20" stroke-width="0.8"/>
<circle cx="518.5" cy="371.87" r="1.85" fill="#fff" stroke="#231f20" stroke-width="0.6" fill-opacity="0.75"/>
<circle cx="520.2" cy="370.55" r="1.85" fill="#fff" stroke="#231f20" stroke-width="0.6" fill-opacity="0.75"/>
<circle cx="521.9" cy="371.12" r="1.85" fill="#fff" stroke="#231f20" stroke-width="0.6" fill-opacity="0.75"/>
<line x1="542.5" y1="377.97" x2="542.5" y2="378.34" stroke="#231f20" stroke-width="0.8"/>
<line x1="540.7" y1="377.97" x2="544.3" y2="377.97" stroke="#231f20" stroke-width="0.8"/>
<line x1="540.7" y1="378.34" x2="544.3" y2="378.34" stroke="#231f20" stroke-width="0.8"/>
<circle cx="540.8" cy="378.44" r="1.85" fill="#fff" stroke="#231f20" stroke-width="0.6" fill-opacity="0.75"/>
<circle cx="542.5" cy="378.06" r="1.85" fill="#fff" stroke="#231f20" stroke-width="0.6" fill-opacity="0.75"/>
<circle cx="544.2" cy="378.15" r="1.85" fill="#fff" stroke="#231f20" stroke-width="0.6" fill-opacity="0.75"/>
<line x1="554.9" y1="360.6" x2="554.9" y2="361.73" stroke="#231f20" stroke-width="0.8"/>
<line x1="553.1" y1="360.6" x2="556.7" y2="360.6" stroke="#231f20" stroke-width="0.8"/>
<line x1="553.1" y1="361.73" x2="556.7" y2="361.73" stroke="#231f20" stroke-width="0.8"/>
<circle cx="553.2" cy="361.73" r="1.85" fill="#fff" stroke="#231f20" stroke-width="0.6" fill-opacity="0.75"/>
<circle cx="554.9" cy="360.6" r="1.85" fill="#fff" stroke="#231f20" stroke-width="0.6" fill-opacity="0.75"/>
<circle cx="556.6" cy="361.17" r="1.85" fill="#fff" stroke="#231f20" stroke-width="0.6" fill-opacity="0.75"/>
<line x1="577.2" y1="378.15" x2="577.2" y2="378.53" stroke="#231f20" stroke-width="0.8"/>
<line x1="575.4" y1="378.15" x2="579" y2="378.15" stroke="#231f20" stroke-width="0.8"/>
<line x1="575.4" y1="378.53" x2="579" y2="378.53" stroke="#231f20" stroke-width="0.8"/>
<circle cx="575.5" cy="378.62" r="1.85" fill="#fff" stroke="#231f20" stroke-width="0.6" fill-opacity="0.75"/>
<circle cx="577.2" cy="378.25" r="1.85" fill="#fff" stroke="#231f20" stroke-width="0.6" fill-opacity="0.75"/>
<circle cx="578.9" cy="378.34" r="1.85" fill="#fff" stroke="#231f20" stroke-width="0.6" fill-opacity="0.75"/>
<line x1="589.6" y1="354.22" x2="589.6" y2="356.1" stroke="#231f20" stroke-width="0.8"/>
<line x1="587.8" y1="354.22" x2="591.4" y2="354.22" stroke="#231f20" stroke-width="0.8"/>
<line x1="587.8" y1="356.1" x2="591.4" y2="356.1" stroke="#231f20" stroke-width="0.8"/>
<circle cx="587.9" cy="356.1" r="1.85" fill="#fff" stroke="#231f20" stroke-width="0.6" fill-opacity="0.75"/>
<circle cx="589.6" cy="354.03" r="1.85" fill="#fff" stroke="#231f20" stroke-width="0.6" fill-opacity="0.75"/>
<circle cx="591.3" cy="355.16" r="1.85" fill="#fff" stroke="#231f20" stroke-width="0.6" fill-opacity="0.75"/>
<line x1="611.9" y1="378.25" x2="611.9" y2="378.62" stroke="#231f20" stroke-width="0.8"/>
<line x1="610.1" y1="378.25" x2="613.7" y2="378.25" stroke="#231f20" stroke-width="0.8"/>
<line x1="610.1" y1="378.62" x2="613.7" y2="378.62" stroke="#231f20" stroke-width="0.8"/>
<circle cx="610.2" cy="378.62" r="1.85" fill="#fff" stroke="#231f20" stroke-width="0.6" fill-opacity="0.75"/>
<circle cx="611.9" cy="378.25" r="1.85" fill="#fff" stroke="#231f20" stroke-width="0.6" fill-opacity="0.75"/>
<circle cx="613.6" cy="378.44" r="1.85" fill="#fff" stroke="#231f20" stroke-width="0.6" fill-opacity="0.75"/>
<line x1="624.3" y1="325.13" x2="624.3" y2="330.76" stroke="#231f20" stroke-width="0.8"/>
<line x1="622.5" y1="325.13" x2="626.1" y2="325.13" stroke="#231f20" stroke-width="0.8"/>
<line x1="622.5" y1="330.76" x2="626.1" y2="330.76" stroke="#231f20" stroke-width="0.8"/>
<circle cx="622.6" cy="330.76" r="1.85" fill="#fff" stroke="#231f20" stroke-width="0.6" fill-opacity="0.75"/>
<circle cx="624.3" cy="324.19" r="1.85" fill="#fff" stroke="#231f20" stroke-width="0.6" fill-opacity="0.75"/>
<circle cx="626" cy="327.94" r="1.85" fill="#fff" stroke="#231f20" stroke-width="0.6" fill-opacity="0.75"/>
<line x1="646.6" y1="378.06" x2="646.6" y2="378.44" stroke="#231f20" stroke-width="0.8"/>
<line x1="644.8" y1="378.06" x2="648.4" y2="378.06" stroke="#231f20" stroke-width="0.8"/>
<line x1="644.8" y1="378.44" x2="648.4" y2="378.44" stroke="#231f20" stroke-width="0.8"/>
<circle cx="644.9" cy="378.44" r="1.85" fill="#fff" stroke="#231f20" stroke-width="0.6" fill-opacity="0.75"/>
<circle cx="646.6" cy="378.06" r="1.85" fill="#fff" stroke="#231f20" stroke-width="0.6" fill-opacity="0.75"/>
<circle cx="648.3" cy="378.25" r="1.85" fill="#fff" stroke="#231f20" stroke-width="0.6" fill-opacity="0.75"/>
<line x1="659" y1="285.15" x2="659" y2="290.78" stroke="#231f20" stroke-width="0.8"/>
<line x1="657.2" y1="285.15" x2="660.8" y2="285.15" stroke="#231f20" stroke-width="0.8"/>
<line x1="657.2" y1="290.78" x2="660.8" y2="290.78" stroke="#231f20" stroke-width="0.8"/>
<circle cx="657.3" cy="291.34" r="1.85" fill="#fff" stroke="#231f20" stroke-width="0.6" fill-opacity="0.75"/>
<circle cx="659" cy="283.83" r="1.85" fill="#fff" stroke="#231f20" stroke-width="0.6" fill-opacity="0.75"/>
<circle cx="660.7" cy="287.96" r="1.85" fill="#fff" stroke="#231f20" stroke-width="0.6" fill-opacity="0.75"/>
<text x="-0.6" y="435.4" font-size="16.8" fill="#231f20">C</text>
<rect x="14" y="468" width="205.5" height="133.2" fill="#f5f4f0" stroke="none" stroke-width="1"/>
<defs><pattern id="pMem1" x="14" y="455" width="3.3" height="15" patternUnits="userSpaceOnUse"><rect width="3.3" height="15" fill="#ffffff"/><rect x="0" y="2.2" width="3.3" height="1.1" fill="#a9aaac"/><rect x="0" y="11.7" width="3.3" height="1.1" fill="#a9aaac"/><circle cx="1.65" cy="1.8" r="1.45" fill="#c4c5c7" stroke="#8f9092" stroke-width="0.5"/><circle cx="1.65" cy="13.2" r="1.45" fill="#c4c5c7" stroke="#8f9092" stroke-width="0.5"/><rect x="0.45" y="3.3" width="0.6" height="8.4" fill="#bcbdbf"/><rect x="2.25" y="3.3" width="0.6" height="8.4" fill="#bcbdbf"/></pattern></defs>
<rect x="14" y="455" width="205.6" height="15" fill="url(#pMem1)" stroke="none" stroke-width="1"/>
<rect x="152.6" y="453" width="9.6" height="18" fill="#ffffff" stroke="none" stroke-width="1"/>
<rect x="139.45" y="449.9" width="3.1" height="23" fill="#fbfbfb" stroke="#7d7e80" stroke-width="0.55" rx="1.5"/>
<line x1="140.4" y1="451.9" x2="140.4" y2="470.9" stroke="#d0d1d3" stroke-width="0.5"/>
<line x1="139.7" y1="452.5" x2="142.2" y2="452.5" stroke="#b5b6b8" stroke-width="0.35"/>
<rect x="145.65" y="451.8" width="3.1" height="21.8" fill="#fbfbfb" stroke="#7d7e80" stroke-width="0.55" rx="1.5"/>
<line x1="146.6" y1="453.8" x2="146.6" y2="471.6" stroke="#d0d1d3" stroke-width="0.5"/>
<line x1="145.9" y1="454.4" x2="148.4" y2="454.4" stroke="#b5b6b8" stroke-width="0.35"/>
<rect x="142.35" y="446.3" width="3.1" height="24" fill="#fbfbfb" stroke="#7d7e80" stroke-width="0.55" rx="1.5"/>
<line x1="143.3" y1="448.3" x2="143.3" y2="468.3" stroke="#d0d1d3" stroke-width="0.5"/>
<line x1="142.6" y1="448.9" x2="145.1" y2="448.9" stroke="#b5b6b8" stroke-width="0.35"/>
<rect x="148.95" y="448.2" width="3.1" height="22.7" fill="#fbfbfb" stroke="#7d7e80" stroke-width="0.55" rx="1.5"/>
<line x1="149.9" y1="450.2" x2="149.9" y2="468.9" stroke="#d0d1d3" stroke-width="0.5"/>
<line x1="149.2" y1="450.8" x2="151.7" y2="450.8" stroke="#b5b6b8" stroke-width="0.35"/>
<rect x="172.35" y="449.2" width="3.1" height="23.7" fill="#fbfbfb" stroke="#7d7e80" stroke-width="0.55" rx="1.5"/>
<line x1="173.3" y1="451.2" x2="173.3" y2="470.9" stroke="#d0d1d3" stroke-width="0.5"/>
<line x1="172.6" y1="451.8" x2="175.1" y2="451.8" stroke="#b5b6b8" stroke-width="0.35"/>
<rect x="165.75" y="451.5" width="3.1" height="21.4" fill="#fbfbfb" stroke="#7d7e80" stroke-width="0.55" rx="1.5"/>
<line x1="166.7" y1="453.5" x2="166.7" y2="470.9" stroke="#d0d1d3" stroke-width="0.5"/>
<line x1="166" y1="454.1" x2="168.5" y2="454.1" stroke="#b5b6b8" stroke-width="0.35"/>
<rect x="169.05" y="446.3" width="3.1" height="23.3" fill="#fbfbfb" stroke="#7d7e80" stroke-width="0.55" rx="1.5"/>
<line x1="170" y1="448.3" x2="170" y2="467.6" stroke="#d0d1d3" stroke-width="0.5"/>
<line x1="169.3" y1="448.9" x2="171.8" y2="448.9" stroke="#b5b6b8" stroke-width="0.35"/>
<rect x="162.45" y="448.2" width="3.1" height="24" fill="#fbfbfb" stroke="#7d7e80" stroke-width="0.55" rx="1.5"/>
<line x1="163.4" y1="450.2" x2="163.4" y2="470.2" stroke="#d0d1d3" stroke-width="0.5"/>
<line x1="162.7" y1="450.8" x2="165.2" y2="450.8" stroke="#b5b6b8" stroke-width="0.35"/>
<text x="18.4" y="482.7" font-size="8.9" font-weight="bold" fill="#231f20">Grazoprevir</text>
<circle cx="72.7" cy="477.4" r="1.5" fill="#1f9ad7" stroke="none" stroke-width="1"/>
<circle cx="73.6" cy="481.8" r="1.5" fill="#1f9ad7" stroke="none" stroke-width="1"/>
<circle cx="77.6" cy="481" r="1.5" fill="#1f9ad7" stroke="none" stroke-width="1"/>
<rect x="34.6" y="523.9" width="16.7" height="4.5" fill="#bfe0f4" stroke="none" stroke-width="1"/>
<circle cx="36.1" cy="524" r="2.2" fill="#6dbde9" stroke="none" stroke-width="1"/>
<circle cx="36.9" cy="526.6" r="1.9" fill="#d4eaf7" stroke="none" stroke-width="1"/>
<circle cx="35.6" cy="523.3" r="0.7" fill="#ffffff" stroke="none" stroke-width="1" fill-opacity="0.8"/>
<circle cx="39.5" cy="524" r="2.2" fill="#6dbde9" stroke="none" stroke-width="1"/>
<circle cx="40.3" cy="526.6" r="1.9" fill="#d4eaf7" stroke="none" stroke-width="1"/>
<circle cx="39" cy="523.3" r="0.7" fill="#ffffff" stroke="none" stroke-width="1" fill-opacity="0.8"/>
<circle cx="42.9" cy="524" r="2.2" fill="#6dbde9" stroke="none" stroke-width="1"/>
<circle cx="43.7" cy="526.6" r="1.9" fill="#d4eaf7" stroke="none" stroke-width="1"/>
<circle cx="42.4" cy="523.3" r="0.7" fill="#ffffff" stroke="none" stroke-width="1" fill-opacity="0.8"/>
<circle cx="46.3" cy="524" r="2.2" fill="#6dbde9" stroke="none" stroke-width="1"/>
<circle cx="47.1" cy="526.6" r="1.9" fill="#d4eaf7" stroke="none" stroke-width="1"/>
<circle cx="45.8" cy="523.3" r="0.7" fill="#ffffff" stroke="none" stroke-width="1" fill-opacity="0.8"/>
<circle cx="49.7" cy="524" r="2.2" fill="#6dbde9" stroke="none" stroke-width="1"/>
<circle cx="50.5" cy="526.6" r="1.9" fill="#d4eaf7" stroke="none" stroke-width="1"/>
<circle cx="49.2" cy="523.3" r="0.7" fill="#ffffff" stroke="none" stroke-width="1" fill-opacity="0.8"/>
<rect x="35.9" y="528.6" width="14.1" height="5.6" fill="url(#pYel)" stroke="none" stroke-width="1"/>
<rect x="35.9" y="534.2" width="14.1" height="11.6" fill="url(#pStripe)" stroke="none" stroke-width="1"/>
<path d="M65.5 500.1 C66.3 494.5 69.3 492.5 71.1 494.5 C72.5 496 71.8 497.5 70.3 499 C68.8 500.5 69.3 506.5 71.3 509.5" fill="none" stroke="#555" stroke-width="0.5"/>
<path d="M91.1 499.7 C90.3 494 87.3 492.5 85.5 494.5 C84.1 496 84.8 497.5 86.3 499 C87.8 500.5 87.3 506.5 85.3 509.5" fill="none" stroke="#555" stroke-width="0.5"/>
<circle cx="65.5" cy="500.1" r="0.95" fill="#e4343b" stroke="none" stroke-width="1"/>
<circle cx="91.4" cy="499.7" r="0.95" fill="#e4343b" stroke="none" stroke-width="1"/>
<path d="M71.7 509.5 L84.9 509.5 L88.8 516.3 L78.5 520.5 L68.4 516.3Z" fill="#ffffff" stroke="none" stroke-width="1"/>
<path d="M71.7 509.5 L84.5 509.5 L88.8 516.3 L78.5 520.5 L68.4 516.3Z" fill="none" stroke="#3f76ba" stroke-width="1.5" stroke-linejoin="round"/>
<path d="M68.4 516.3 L78.5 520.5 L88.8 516.3" fill="none" stroke="#2e62a8" stroke-width="2" stroke-linejoin="round"/>
<path d="M74.9 513 L72.5 501.8 L78.1 512 L84.3 501.8 L82.1 513" fill="none" stroke="#7659ad" stroke-width="2" stroke-linejoin="round"/>
<path d="M72.5 501.8 L78.1 512 L84.3 501.8" fill="none" stroke="#9a83c8" stroke-width="0.7" stroke-linejoin="round"/>
<rect x="75.1" y="522.7" width="1.6" height="4.8" fill="#e4e6b6" stroke="#8f9070" stroke-width="0.25"/>
<rect x="80" y="522.7" width="1.6" height="4.8" fill="#e4e6b6" stroke="#8f9070" stroke-width="0.25"/>
<rect x="75" y="527.1" width="1.8" height="0.8" fill="#333" stroke="none" stroke-width="1"/>
<rect x="79.9" y="527.1" width="1.8" height="0.8" fill="#333" stroke="none" stroke-width="1"/>
<rect x="74" y="529.1" width="10" height="3.3" fill="#c6e0f3" stroke="#7aa9cf" stroke-width="0.35"/>
<circle cx="90.7" cy="531.7" r="1.5" fill="#1f9ad7" stroke="none" stroke-width="1"/>
<circle cx="90.2" cy="536.5" r="1.5" fill="#1f9ad7" stroke="none" stroke-width="1"/>
<circle cx="94.7" cy="535.7" r="1.5" fill="#1f9ad7" stroke="none" stroke-width="1"/>
<path d="M111.5 505.5 C107.5 496.5 110 479.6 124.2 479.6 C138.4 479.6 140.9 496.5 136.9 505.5 M114.4 503.3 C110.4 494.3 112.9 482.2 124.2 482.2 C135.5 482.2 138 494.3 134 503.3 M117.3 501.1 C113.3 492.1 115.8 484.8 124.2 484.8 C132.6 484.8 135.1 492.1 131.1 501.1" fill="none" stroke="#8e8e90" stroke-width="2.3" stroke-linecap="round"/>
<path d="M111.5 505.5 C107.5 496.5 110 479.6 124.2 479.6 C138.4 479.6 140.9 496.5 136.9 505.5 M114.4 503.3 C110.4 494.3 112.9 482.2 124.2 482.2 C135.5 482.2 138 494.3 134 503.3 M117.3 501.1 C113.3 492.1 115.8 484.8 124.2 484.8 C132.6 484.8 135.1 492.1 131.1 501.1" fill="none" stroke="#fbfbfa" stroke-width="1.3" stroke-linecap="round"/>
<path d="M114.34 491.9L134.06 491.9L131.5 502.8L116.9 502.8Z" fill="url(#gPurp)" stroke="none" stroke-width="1"/>
<path d="M114.29 493.9L117.69 493.9L116.29 489.7Z" fill="url(#gPurp)" stroke="none" stroke-width="1"/>
<path d="M117.57 493.9L120.97 493.9L119.57 490.9Z" fill="url(#gPurp)" stroke="none" stroke-width="1"/>
<path d="M120.86 493.9L124.26 493.9L122.86 489.7Z" fill="url(#gPurp)" stroke="none" stroke-width="1"/>
<path d="M124.14 493.9L127.54 493.9L126.14 490.9Z" fill="url(#gPurp)" stroke="none" stroke-width="1"/>
<path d="M127.43 493.9L130.83 493.9L129.43 489.7Z" fill="url(#gPurp)" stroke="none" stroke-width="1"/>
<path d="M130.71 493.9L134.11 493.9L132.71 490.9Z" fill="url(#gPurp)" stroke="none" stroke-width="1"/>
<line x1="115.86" y1="492.9" x2="119.86" y2="502.3" stroke="#b7a6da" stroke-width="0.5" stroke-opacity="0.6"/>
<line x1="118.78" y1="492.9" x2="122.78" y2="502.3" stroke="#b7a6da" stroke-width="0.5" stroke-opacity="0.6"/>
<line x1="121.7" y1="492.9" x2="125.7" y2="502.3" stroke="#b7a6da" stroke-width="0.5" stroke-opacity="0.6"/>
<line x1="124.62" y1="492.9" x2="128.62" y2="502.3" stroke="#b7a6da" stroke-width="0.5" stroke-opacity="0.6"/>
<line x1="127.54" y1="492.9" x2="131.54" y2="502.3" stroke="#b7a6da" stroke-width="0.5" stroke-opacity="0.6"/>
<rect x="116.9" y="502.8" width="14.6" height="24.9" fill="url(#gBlueA)" stroke="none" stroke-width="1"/>
<line x1="119.82" y1="502.8" x2="119.82" y2="527.7" stroke="#ffffff" stroke-width="0.6" stroke-opacity="0.7"/>
<line x1="122.74" y1="502.8" x2="122.74" y2="527.7" stroke="#ffffff" stroke-width="0.6" stroke-opacity="0.7"/>
<line x1="125.66" y1="502.8" x2="125.66" y2="527.7" stroke="#ffffff" stroke-width="0.6" stroke-opacity="0.7"/>
<line x1="128.58" y1="502.8" x2="128.58" y2="527.7" stroke="#ffffff" stroke-width="0.6" stroke-opacity="0.7"/>
<rect x="117.2" y="527.7" width="14" height="3.6" fill="url(#pYel)" stroke="none" stroke-width="1"/>
<rect x="115.58" y="532.1" width="17.25" height="7.1" fill="#a9d5f0" stroke="none" stroke-width="1"/>
<circle cx="116.6" cy="534.13" r="2.7" fill="#4fb0e4" stroke="none" stroke-width="1"/>
<circle cx="117.2" cy="537.61" r="2.39" fill="#cfe6f5" stroke="none" stroke-width="1"/>
<circle cx="116.2" cy="533.26" r="0.96" fill="#ffffff" stroke="none" stroke-width="1" fill-opacity="0.7"/>
<circle cx="119.64" cy="534.13" r="2.7" fill="#4fb0e4" stroke="none" stroke-width="1"/>
<circle cx="120.24" cy="537.61" r="2.39" fill="#cfe6f5" stroke="none" stroke-width="1"/>
<circle cx="119.24" cy="533.26" r="0.96" fill="#ffffff" stroke="none" stroke-width="1" fill-opacity="0.7"/>
<circle cx="122.68" cy="534.13" r="2.7" fill="#4fb0e4" stroke="none" stroke-width="1"/>
<circle cx="123.28" cy="537.61" r="2.39" fill="#cfe6f5" stroke="none" stroke-width="1"/>
<circle cx="122.28" cy="533.26" r="0.96" fill="#ffffff" stroke="none" stroke-width="1" fill-opacity="0.7"/>
<circle cx="125.72" cy="534.13" r="2.7" fill="#4fb0e4" stroke="none" stroke-width="1"/>
<circle cx="126.32" cy="537.61" r="2.39" fill="#cfe6f5" stroke="none" stroke-width="1"/>
<circle cx="125.32" cy="533.26" r="0.96" fill="#ffffff" stroke="none" stroke-width="1" fill-opacity="0.7"/>
<circle cx="128.76" cy="534.13" r="2.7" fill="#4fb0e4" stroke="none" stroke-width="1"/>
<circle cx="129.36" cy="537.61" r="2.39" fill="#cfe6f5" stroke="none" stroke-width="1"/>
<circle cx="128.36" cy="533.26" r="0.96" fill="#ffffff" stroke="none" stroke-width="1" fill-opacity="0.7"/>
<circle cx="131.8" cy="534.13" r="2.7" fill="#4fb0e4" stroke="none" stroke-width="1"/>
<circle cx="132.4" cy="537.61" r="2.39" fill="#cfe6f5" stroke="none" stroke-width="1"/>
<circle cx="131.4" cy="533.26" r="0.96" fill="#ffffff" stroke="none" stroke-width="1" fill-opacity="0.7"/>
<rect x="117.2" y="540" width="14" height="4.5" fill="url(#pYel)" stroke="none" stroke-width="1"/>
<rect x="117.63" y="544.5" width="13.14" height="13.1" fill="url(#pStripe)" stroke="none" stroke-width="1"/>
<line x1="117.63" y1="557.6" x2="130.77" y2="557.6" stroke="#7fae82" stroke-width="0.6"/>
<path d="M146 498.2 C142 489.2 144.5 473.7 158.7 473.7 C172.9 473.7 175.4 489.2 171.4 498.2 M148.9 496 C144.9 487 147.4 476.3 158.7 476.3 C170 476.3 172.5 487 168.5 496 M151.8 493.8 C147.8 484.8 150.3 478.9 158.7 478.9 C167.1 478.9 169.6 484.8 165.6 493.8" fill="none" stroke="#8e8e90" stroke-width="2.3" stroke-linecap="round"/>
<path d="M146 498.2 C142 489.2 144.5 473.7 158.7 473.7 C172.9 473.7 175.4 489.2 171.4 498.2 M148.9 496 C144.9 487 147.4 476.3 158.7 476.3 C170 476.3 172.5 487 168.5 496 M151.8 493.8 C147.8 484.8 150.3 478.9 158.7 478.9 C167.1 478.9 169.6 484.8 165.6 493.8" fill="none" stroke="#fbfbfa" stroke-width="1.3" stroke-linecap="round"/>
<path d="M148.37 484.6L169.03 484.6L166.35 496.3L151.05 496.3Z" fill="url(#gPurpB)" stroke="none" stroke-width="1"/>
<path d="M148.39 486.6L151.79 486.6L150.39 482.4Z" fill="url(#gPurpB)" stroke="none" stroke-width="1"/>
<path d="M151.84 486.6L155.24 486.6L153.84 483.6Z" fill="url(#gPurpB)" stroke="none" stroke-width="1"/>
<path d="M155.28 486.6L158.68 486.6L157.28 482.4Z" fill="url(#gPurpB)" stroke="none" stroke-width="1"/>
<path d="M158.72 486.6L162.12 486.6L160.72 483.6Z" fill="url(#gPurpB)" stroke="none" stroke-width="1"/>
<path d="M162.16 486.6L165.56 486.6L164.16 482.4Z" fill="url(#gPurpB)" stroke="none" stroke-width="1"/>
<path d="M165.61 486.6L169.01 486.6L167.61 483.6Z" fill="url(#gPurpB)" stroke="none" stroke-width="1"/>
<line x1="150.08" y1="485.6" x2="154.08" y2="495.8" stroke="#b7a6da" stroke-width="0.5" stroke-opacity="0.6"/>
<line x1="153.14" y1="485.6" x2="157.14" y2="495.8" stroke="#b7a6da" stroke-width="0.5" stroke-opacity="0.6"/>
<line x1="156.2" y1="485.6" x2="160.2" y2="495.8" stroke="#b7a6da" stroke-width="0.5" stroke-opacity="0.6"/>
<line x1="159.26" y1="485.6" x2="163.26" y2="495.8" stroke="#b7a6da" stroke-width="0.5" stroke-opacity="0.6"/>
<line x1="162.32" y1="485.6" x2="166.32" y2="495.8" stroke="#b7a6da" stroke-width="0.5" stroke-opacity="0.6"/>
<rect x="151.05" y="496.3" width="15.3" height="24.1" fill="url(#gBlueB)" stroke="none" stroke-width="1"/>
<line x1="154.11" y1="496.3" x2="154.11" y2="520.4" stroke="#ffffff" stroke-width="0.6" stroke-opacity="0.7"/>
<line x1="157.17" y1="496.3" x2="157.17" y2="520.4" stroke="#ffffff" stroke-width="0.6" stroke-opacity="0.7"/>
<line x1="160.23" y1="496.3" x2="160.23" y2="520.4" stroke="#ffffff" stroke-width="0.6" stroke-opacity="0.7"/>
<line x1="163.29" y1="496.3" x2="163.29" y2="520.4" stroke="#ffffff" stroke-width="0.6" stroke-opacity="0.7"/>
<rect x="151.35" y="520.4" width="14.7" height="4.3" fill="url(#pYel)" stroke="none" stroke-width="1"/>
<rect x="149.64" y="525.5" width="18.12" height="6.5" fill="#a9d5f0" stroke="none" stroke-width="1"/>
<circle cx="150.73" cy="527.33" r="2.51" fill="#4fb0e4" stroke="none" stroke-width="1"/>
<circle cx="151.33" cy="530.57" r="2.23" fill="#cfe6f5" stroke="none" stroke-width="1"/>
<circle cx="150.33" cy="526.52" r="0.89" fill="#ffffff" stroke="none" stroke-width="1" fill-opacity="0.7"/>
<circle cx="153.92" cy="527.33" r="2.51" fill="#4fb0e4" stroke="none" stroke-width="1"/>
<circle cx="154.52" cy="530.57" r="2.23" fill="#cfe6f5" stroke="none" stroke-width="1"/>
<circle cx="153.52" cy="526.52" r="0.89" fill="#ffffff" stroke="none" stroke-width="1" fill-opacity="0.7"/>
<circle cx="157.11" cy="527.33" r="2.51" fill="#4fb0e4" stroke="none" stroke-width="1"/>
<circle cx="157.71" cy="530.57" r="2.23" fill="#cfe6f5" stroke="none" stroke-width="1"/>
<circle cx="156.71" cy="526.52" r="0.89" fill="#ffffff" stroke="none" stroke-width="1" fill-opacity="0.7"/>
<circle cx="160.29" cy="527.33" r="2.51" fill="#4fb0e4" stroke="none" stroke-width="1"/>
<circle cx="160.89" cy="530.57" r="2.23" fill="#cfe6f5" stroke="none" stroke-width="1"/>
<circle cx="159.89" cy="526.52" r="0.89" fill="#ffffff" stroke="none" stroke-width="1" fill-opacity="0.7"/>
<circle cx="163.48" cy="527.33" r="2.51" fill="#4fb0e4" stroke="none" stroke-width="1"/>
<circle cx="164.08" cy="530.57" r="2.23" fill="#cfe6f5" stroke="none" stroke-width="1"/>
<circle cx="163.08" cy="526.52" r="0.89" fill="#ffffff" stroke="none" stroke-width="1" fill-opacity="0.7"/>
<circle cx="166.67" cy="527.33" r="2.51" fill="#4fb0e4" stroke="none" stroke-width="1"/>
<circle cx="167.27" cy="530.57" r="2.23" fill="#cfe6f5" stroke="none" stroke-width="1"/>
<circle cx="166.27" cy="526.52" r="0.89" fill="#ffffff" stroke="none" stroke-width="1" fill-opacity="0.7"/>
<rect x="151.35" y="532.8" width="14.7" height="5.1" fill="url(#pYel)" stroke="none" stroke-width="1"/>
<rect x="151.81" y="537.9" width="13.77" height="12.4" fill="url(#pStripe)" stroke="none" stroke-width="1"/>
<line x1="151.81" y1="550.3" x2="165.58" y2="550.3" stroke="#7fae82" stroke-width="0.6"/>
<circle cx="112.5" cy="480.3" r="0.65" fill="#d6393f" stroke="none" stroke-width="1"/>
<circle cx="115.5" cy="481.1" r="0.65" fill="#d6393f" stroke="none" stroke-width="1"/>
<circle cx="118.5" cy="480.3" r="0.65" fill="#d6393f" stroke="none" stroke-width="1"/>
<circle cx="121.5" cy="481.1" r="0.65" fill="#d6393f" stroke="none" stroke-width="1"/>
<circle cx="124.5" cy="480.3" r="0.65" fill="#d6393f" stroke="none" stroke-width="1"/>
<circle cx="127.5" cy="481.1" r="0.65" fill="#d6393f" stroke="none" stroke-width="1"/>
<circle cx="130.5" cy="480.3" r="0.65" fill="#d6393f" stroke="none" stroke-width="1"/>
<circle cx="133.5" cy="481.1" r="0.65" fill="#d6393f" stroke="none" stroke-width="1"/>
<circle cx="136.5" cy="480.3" r="0.65" fill="#d6393f" stroke="none" stroke-width="1"/>
<circle cx="147" cy="474.5" r="0.65" fill="#d6393f" stroke="none" stroke-width="1"/>
<circle cx="150" cy="475.3" r="0.65" fill="#d6393f" stroke="none" stroke-width="1"/>
<circle cx="153" cy="474.5" r="0.65" fill="#d6393f" stroke="none" stroke-width="1"/>
<circle cx="156" cy="475.3" r="0.65" fill="#d6393f" stroke="none" stroke-width="1"/>
<circle cx="159" cy="474.5" r="0.65" fill="#d6393f" stroke="none" stroke-width="1"/>
<circle cx="162" cy="475.3" r="0.65" fill="#d6393f" stroke="none" stroke-width="1"/>
<circle cx="165" cy="474.5" r="0.65" fill="#d6393f" stroke="none" stroke-width="1"/>
<circle cx="168" cy="475.3" r="0.65" fill="#d6393f" stroke="none" stroke-width="1"/>
<circle cx="171" cy="474.5" r="0.65" fill="#d6393f" stroke="none" stroke-width="1"/>
<path d="M80.2 546.2L108.3 533.8" fill="none" stroke="#231f20" stroke-width="1" marker-end="url(#ah)"/>
<path d="M134.3 525.5L146.7 519.9" fill="none" stroke="#231f20" stroke-width="1" marker-end="url(#ah)"/>
<circle cx="141.5" cy="433.9" r="1.55" fill="#e4343b" stroke="none" stroke-width="1"/>
<circle cx="141.5" cy="433.9" r="0.62" fill="#ffffff" stroke="none" stroke-width="1" fill-opacity="0.85"/>
<circle cx="155" cy="433.3" r="1.55" fill="#e4343b" stroke="none" stroke-width="1"/>
<circle cx="155" cy="433.3" r="0.62" fill="#ffffff" stroke="none" stroke-width="1" fill-opacity="0.85"/>
<circle cx="167.5" cy="434.3" r="1.55" fill="#e4343b" stroke="none" stroke-width="1"/>
<circle cx="167.5" cy="434.3" r="0.62" fill="#ffffff" stroke="none" stroke-width="1" fill-opacity="0.85"/>
<circle cx="149.1" cy="442.5" r="1.55" fill="#e4343b" stroke="none" stroke-width="1"/>
<circle cx="149.1" cy="442.5" r="0.62" fill="#ffffff" stroke="none" stroke-width="1" fill-opacity="0.85"/>
<circle cx="160.3" cy="442.5" r="1.55" fill="#e4343b" stroke="none" stroke-width="1"/>
<circle cx="160.3" cy="442.5" r="0.62" fill="#ffffff" stroke="none" stroke-width="1" fill-opacity="0.85"/>
<circle cx="155.5" cy="452.9" r="1.55" fill="#e4343b" stroke="none" stroke-width="1"/>
<circle cx="155.5" cy="452.9" r="0.62" fill="#ffffff" stroke="none" stroke-width="1" fill-opacity="0.85"/>
<circle cx="159.6" cy="460.1" r="1.55" fill="#e4343b" stroke="none" stroke-width="1"/>
<circle cx="159.6" cy="460.1" r="0.62" fill="#ffffff" stroke="none" stroke-width="1" fill-opacity="0.85"/>
<circle cx="155.5" cy="463.7" r="1.55" fill="#e4343b" stroke="none" stroke-width="1"/>
<circle cx="155.5" cy="463.7" r="0.62" fill="#ffffff" stroke="none" stroke-width="1" fill-opacity="0.85"/>
<circle cx="156.4" cy="482.3" r="1.55" fill="#e4343b" stroke="none" stroke-width="1"/>
<circle cx="156.4" cy="482.3" r="0.62" fill="#ffffff" stroke="none" stroke-width="1" fill-opacity="0.85"/>
<circle cx="150.3" cy="489.5" r="1.55" fill="#e4343b" stroke="none" stroke-width="1"/>
<circle cx="150.3" cy="489.5" r="0.62" fill="#ffffff" stroke="none" stroke-width="1" fill-opacity="0.85"/>
<circle cx="156.6" cy="489.6" r="1.55" fill="#e4343b" stroke="none" stroke-width="1"/>
<circle cx="156.6" cy="489.6" r="0.62" fill="#ffffff" stroke="none" stroke-width="1" fill-opacity="0.85"/>
<circle cx="161.8" cy="490.7" r="1.55" fill="#e4343b" stroke="none" stroke-width="1"/>
<circle cx="161.8" cy="490.7" r="0.62" fill="#ffffff" stroke="none" stroke-width="1" fill-opacity="0.85"/>
<circle cx="176.2" cy="491.5" r="1.55" fill="#e4343b" stroke="none" stroke-width="1"/>
<circle cx="176.2" cy="491.5" r="0.62" fill="#ffffff" stroke="none" stroke-width="1" fill-opacity="0.85"/>
<circle cx="168.6" cy="500.7" r="1.55" fill="#e4343b" stroke="none" stroke-width="1"/>
<circle cx="168.6" cy="500.7" r="0.62" fill="#ffffff" stroke="none" stroke-width="1" fill-opacity="0.85"/>
<circle cx="175.5" cy="509.5" r="1.55" fill="#e4343b" stroke="none" stroke-width="1"/>
<circle cx="175.5" cy="509.5" r="0.62" fill="#ffffff" stroke="none" stroke-width="1" fill-opacity="0.85"/>
<circle cx="176.8" cy="526.3" r="1.55" fill="#e4343b" stroke="none" stroke-width="1"/>
<circle cx="176.8" cy="526.3" r="0.62" fill="#ffffff" stroke="none" stroke-width="1" fill-opacity="0.85"/>
<ellipse cx="77.65" cy="575" rx="51.2" ry="18.2" fill="#ecebe8" stroke="#555658" stroke-width="3.8" stroke-dasharray="10 12.2" stroke-dashoffset="16" stroke-linecap="round"/>
<ellipse cx="77.65" cy="575" rx="51.2" ry="18.2" fill="none" stroke="#8c8d8f" stroke-width="2.3" stroke-dasharray="10 12.2" stroke-dashoffset="16" stroke-linecap="round"/>
<line x1="35.7" y1="575.3" x2="94.7" y2="575.3" stroke="#231f20" stroke-width="0.8"/>
<path d="M39.5 575.3V570.7H46" fill="none" stroke="#231f20" stroke-width="0.75"/>
<path d="M49.8 570.7L44.2 568.5L44.2 572.9Z" fill="#231f20" stroke="none" stroke-width="1"/>
<rect x="53.9" y="565.7" width="39.1" height="9.4" fill="#8fd0e8" stroke="#2d2d2d" stroke-width="0.7"/>
<text x="73.45" y="573.28" font-size="8" font-weight="bold" text-anchor="middle" fill="#231f20">StimExo</text>
<line x1="57.6" y1="587.1" x2="116.6" y2="587.1" stroke="#231f20" stroke-width="0.8"/>
<path d="M60.9 587.1V582.5H67.8" fill="none" stroke="#231f20" stroke-width="0.75"/>
<path d="M71.6 582.5L66 580.3L66 584.7Z" fill="#231f20" stroke="none" stroke-width="1"/>
<rect x="75.4" y="577.4" width="38.6" height="9.6" fill="#77bf8a" stroke="#2d2d2d" stroke-width="0.7"/>
<text x="94.7" y="585.08" font-size="8" font-weight="bold" text-anchor="middle" fill="#231f20">GCaMP6</text>
<path d="M68.2 565.7V531.9" fill="none" stroke="#231f20" stroke-width="1" marker-end="url(#ah)"/>
<path d="M68.2 552 C68.2 546 64 544 60.6 541" fill="none" stroke="#231f20" stroke-width="1" marker-end="url(#ah)"/>
<path d="M121 588.3 C127 591.5 133 590 139.2 584.8" fill="none" stroke="#231f20" stroke-width="0.8" marker-end="url(#ah)"/>
<path d="M195.2 520.4 C205 528 207 548 190.4 561.5" fill="none" stroke="#231f20" stroke-width="1.1" marker-end="url(#ah)"/>
<text x="178.8" y="539.7" font-size="9" font-weight="bold" fill="#e2262e">Ca<tspan font-size="5.4" dy="-3.4">2+</tspan></text>
<circle cx="184.7" cy="516.2" r="1.55" fill="#e4343b" stroke="none" stroke-width="1"/>
<circle cx="184.7" cy="516.2" r="0.62" fill="#ffffff" stroke="none" stroke-width="1" fill-opacity="0.85"/>
<circle cx="202.4" cy="518.4" r="1.55" fill="#e4343b" stroke="none" stroke-width="1"/>
<circle cx="202.4" cy="518.4" r="0.62" fill="#ffffff" stroke="none" stroke-width="1" fill-opacity="0.85"/>
<circle cx="187.6" cy="547.3" r="1.55" fill="#e4343b" stroke="none" stroke-width="1"/>
<circle cx="187.6" cy="547.3" r="0.62" fill="#ffffff" stroke="none" stroke-width="1" fill-opacity="0.85"/>
<circle cx="207.4" cy="549.3" r="1.55" fill="#e4343b" stroke="none" stroke-width="1"/>
<circle cx="207.4" cy="549.3" r="0.62" fill="#ffffff" stroke="none" stroke-width="1" fill-opacity="0.85"/>
<circle cx="169.6" cy="571.9" r="18.5" fill="url(#gGlow)" stroke="none" stroke-width="1"/>
<path d="M162 560.1 L162.66 561.69 L164.38 561.83 L163.07 562.95 L163.47 564.62 L162 563.73 L160.53 564.62 L160.93 562.95 L159.62 561.83 L161.34 561.69Z" fill="#39b54a" stroke="none" stroke-width="1"/>
<circle cx="164.2" cy="562.4" r="1.45" fill="#e4343b" stroke="none" stroke-width="1"/>
<circle cx="164.2" cy="562.4" r="0.58" fill="#ffffff" stroke="none" stroke-width="1" fill-opacity="0.85"/>
<path d="M171.2 558.7 L171.86 560.29 L173.58 560.43 L172.27 561.55 L172.67 563.22 L171.2 562.33 L169.73 563.22 L170.13 561.55 L168.82 560.43 L170.54 560.29Z" fill="#39b54a" stroke="none" stroke-width="1"/>
<circle cx="173.3" cy="562" r="1.45" fill="#e4343b" stroke="none" stroke-width="1"/>
<circle cx="173.3" cy="562" r="0.58" fill="#ffffff" stroke="none" stroke-width="1" fill-opacity="0.85"/>
<path d="M176 564.8 L176.66 566.39 L178.38 566.53 L177.07 567.65 L177.47 569.32 L176 568.42 L174.53 569.32 L174.93 567.65 L173.62 566.53 L175.34 566.39Z" fill="#39b54a" stroke="none" stroke-width="1"/>
<circle cx="175" cy="566.7" r="1.45" fill="#e4343b" stroke="none" stroke-width="1"/>
<circle cx="175" cy="566.7" r="0.58" fill="#ffffff" stroke="none" stroke-width="1" fill-opacity="0.85"/>
<path d="M157.2 569.2 L157.86 570.79 L159.58 570.93 L158.27 572.05 L158.67 573.72 L157.2 572.83 L155.73 573.72 L156.13 572.05 L154.82 570.93 L156.54 570.79Z" fill="#39b54a" stroke="none" stroke-width="1"/>
<circle cx="158.4" cy="572.8" r="1.45" fill="#e4343b" stroke="none" stroke-width="1"/>
<circle cx="158.4" cy="572.8" r="0.58" fill="#ffffff" stroke="none" stroke-width="1" fill-opacity="0.85"/>
<path d="M163.9 568.7 L164.56 570.29 L166.28 570.43 L164.97 571.55 L165.37 573.22 L163.9 572.33 L162.43 573.22 L162.83 571.55 L161.52 570.43 L163.24 570.29Z" fill="#39b54a" stroke="none" stroke-width="1"/>
<circle cx="165.4" cy="571.2" r="1.45" fill="#e4343b" stroke="none" stroke-width="1"/>
<circle cx="165.4" cy="571.2" r="0.58" fill="#ffffff" stroke="none" stroke-width="1" fill-opacity="0.85"/>
<path d="M168.9 568.5 L169.56 570.09 L171.28 570.23 L169.97 571.35 L170.37 573.02 L168.9 572.12 L167.43 573.02 L167.83 571.35 L166.52 570.23 L168.24 570.09Z" fill="#39b54a" stroke="none" stroke-width="1"/>
<circle cx="170.5" cy="571.2" r="1.45" fill="#e4343b" stroke="none" stroke-width="1"/>
<circle cx="170.5" cy="571.2" r="0.58" fill="#ffffff" stroke="none" stroke-width="1" fill-opacity="0.85"/>
<path d="M178.2 575.5 L178.86 577.09 L180.58 577.23 L179.27 578.35 L179.67 580.02 L178.2 579.12 L176.73 580.02 L177.13 578.35 L175.82 577.23 L177.54 577.09Z" fill="#39b54a" stroke="none" stroke-width="1"/>
<circle cx="180.5" cy="576.6" r="1.45" fill="#e4343b" stroke="none" stroke-width="1"/>
<circle cx="180.5" cy="576.6" r="0.58" fill="#ffffff" stroke="none" stroke-width="1" fill-opacity="0.85"/>
<path d="M164.9 577.7 L165.56 579.29 L167.28 579.43 L165.97 580.55 L166.37 582.22 L164.9 581.33 L163.43 582.22 L163.83 580.55 L162.52 579.43 L164.24 579.29Z" fill="#39b54a" stroke="none" stroke-width="1"/>
<circle cx="165" cy="578.5" r="1.45" fill="#e4343b" stroke="none" stroke-width="1"/>
<circle cx="165" cy="578.5" r="0.58" fill="#ffffff" stroke="none" stroke-width="1" fill-opacity="0.85"/>
<path d="M170.5 579.7 L171.16 581.29 L172.88 581.43 L171.57 582.55 L171.97 584.22 L170.5 583.33 L169.03 584.22 L169.43 582.55 L168.12 581.43 L169.84 581.29Z" fill="#39b54a" stroke="none" stroke-width="1"/>
<circle cx="169.5" cy="580" r="1.45" fill="#e4343b" stroke="none" stroke-width="1"/>
<circle cx="169.5" cy="580" r="0.58" fill="#ffffff" stroke="none" stroke-width="1" fill-opacity="0.85"/>
<path d="M151.8 576.3 L152.46 577.89 L154.18 578.03 L152.87 579.15 L153.27 580.82 L151.8 579.92 L150.33 580.82 L150.73 579.15 L149.42 578.03 L151.14 577.89Z" fill="#39b54a" stroke="none" stroke-width="1"/>
<path d="M145.9 583.3 L146.56 584.89 L148.28 585.03 L146.97 586.15 L147.37 587.82 L145.9 586.92 L144.43 587.82 L144.83 586.15 L143.52 585.03 L145.24 584.89Z" fill="#39b54a" stroke="none" stroke-width="1"/>
<path d="M156.7 582.5 L157.36 584.09 L159.08 584.23 L157.77 585.35 L158.17 587.02 L156.7 586.12 L155.23 587.02 L155.63 585.35 L154.32 584.23 L156.04 584.09Z" fill="#39b54a" stroke="none" stroke-width="1"/>
<path d="M150.8 590.2 L151.46 591.79 L153.18 591.93 L151.87 593.05 L152.27 594.72 L150.8 593.83 L149.33 594.72 L149.73 593.05 L148.42 591.93 L150.14 591.79Z" fill="#39b54a" stroke="none" stroke-width="1"/>
<path d="M160.9 588.1 L161.56 589.69 L163.28 589.83 L161.97 590.95 L162.37 592.62 L160.9 591.73 L159.43 592.62 L159.83 590.95 L158.52 589.83 L160.24 589.69Z" fill="#39b54a" stroke="none" stroke-width="1"/>
<path d="M269.9 507.4 L270.34 507.36 L270.93 507.3 L271.64 507.24 L272.42 507.16 L273.22 507.07 L274.02 506.96 L274.75 506.83 L275.39 506.68 L275.93 506.53 L276.41 506.4 L276.86 506.26 L277.28 506.1 L277.69 505.89 L278.11 505.61 L278.56 505.23 L279.05 504.73 L279.58 504.1 L280.13 503.37 L280.7 502.55 L281.28 501.64 L281.87 500.67 L282.46 499.65 L283.05 498.59 L283.62 497.5 L284.2 496.35 L284.77 495.11 L285.34 493.79 L285.91 492.44 L286.48 491.09 L287.06 489.76 L287.63 488.5 L288.2 487.33 L288.78 486.32 L289.37 485.34 L289.96 484.4 L290.54 483.5 L291.13 482.64 L291.7 481.83 L292.25 481.06 L292.77 480.35 L293.28 479.68 L293.77 479.07 L294.24 478.49 L294.7 477.97 L295.14 477.49 L295.58 477.05 L296.01 476.65 L296.44 476.3 L296.85 475.99 L297.26 475.74 L297.65 475.54 L298.04 475.38 L298.42 475.25 L298.79 475.15 L299.17 475.06 L299.55 474.99 L299.92 474.93 L300.29 474.89 L300.65 474.88 L301.01 474.89 L301.37 474.93 L301.73 474.98 L302.1 475.05 L302.47 475.14 L302.84 475.25 L303.18 475.39 L303.52 475.54 L303.87 475.71 L304.24 475.9 L304.64 476.11 L305.08 476.33 L305.58 476.57 L306.1 476.82 L306.6 477.08 L307.11 477.36 L307.67 477.65 L308.31 477.97 L309.07 478.31 L309.98 478.69 L311.07 479.09 L312.37 479.55 L313.82 480.04 L315.42 480.57 L317.14 481.12 L318.96 481.69 L320.85 482.26 L322.81 482.84 L324.8 483.41 L326.87 483.98 L329.05 484.57 L331.33 485.17 L333.66 485.78 L336.04 486.38 L338.42 486.97 L340.78 487.53 L343.1 488.06 L345.39 488.55 L347.67 489.02 L349.96 489.47 L352.25 489.91 L354.54 490.33 L356.82 490.74 L359.11 491.14 L361.4 491.53 L363.81 491.92 L366.4 492.33 L369.07 492.73 L371.69 493.11 L374.18 493.47 L376.41 493.79 L378.29 494.06 L379.7 494.26 L379.7 503.02 L378.29 502.79 L376.41 502.48 L374.18 502.12 L371.69 501.71 L369.07 501.28 L366.4 500.82 L363.81 500.37 L361.4 499.92 L359.11 499.49 L356.82 499.04 L354.54 498.59 L352.25 498.12 L349.96 497.64 L347.67 497.14 L345.39 496.63 L343.1 496.09 L340.78 495.54 L338.42 494.95 L336.04 494.34 L333.66 493.72 L331.33 493.09 L329.05 492.46 L326.87 491.85 L324.8 491.25 L322.81 490.67 L320.85 490.07 L318.96 489.48 L317.14 488.89 L315.42 488.32 L313.82 487.78 L312.37 487.27 L311.07 486.81 L309.98 486.39 L309.07 486 L308.31 485.65 L307.67 485.33 L307.11 485.03 L306.6 484.75 L306.1 484.48 L305.58 484.22 L305.08 483.97 L304.64 483.74 L304.24 483.52 L303.87 483.32 L303.52 483.14 L303.18 482.98 L302.84 482.84 L302.47 482.73 L302.1 482.63 L301.73 482.55 L301.37 482.49 L301.01 482.45 L300.65 482.43 L300.29 482.44 L299.92 482.46 L299.55 482.52 L299.17 482.58 L298.79 482.66 L298.42 482.76 L298.04 482.88 L297.65 483.03 L297.26 483.22 L296.85 483.47 L296.44 483.76 L296.01 484.11 L295.58 484.5 L295.14 484.93 L294.7 485.4 L294.24 485.92 L293.77 486.48 L293.28 487.09 L292.77 487.74 L292.25 488.45 L291.7 489.2 L291.13 490 L290.54 490.84 L289.96 491.73 L289.37 492.66 L288.78 493.63 L288.2 494.63 L287.63 495.63 L287.06 496.72 L286.48 497.87 L285.91 499.06 L285.34 500.24 L284.77 501.38 L284.2 502.46 L283.62 503.44 L283.05 504.35 L282.46 505.23 L281.87 506.08 L281.28 506.87 L280.7 507.61 L280.13 508.28 L279.58 508.87 L279.05 509.35 L278.56 509.72 L278.11 509.99 L277.69 510.16 L277.28 510.26 L276.86 510.3 L276.41 510.32 L275.93 510.32 L275.39 510.32 L274.75 510.31 L274.02 510.25 L273.22 510.14 L272.42 510.02 L271.64 509.89 L270.93 509.77 L270.34 509.66 L269.9 509.6Z" fill="#3ebfe7" stroke="#3ebfe7" stroke-width="0.8" stroke-linejoin="round"/>
<path d="M269.9 508.5 L270.34 508.51 L270.93 508.53 L271.64 508.56 L272.42 508.59 L273.22 508.61 L274.02 508.6 L274.75 508.57 L275.39 508.5 L275.93 508.42 L276.41 508.36 L276.86 508.28 L277.28 508.18 L277.69 508.03 L278.11 507.8 L278.56 507.48 L279.05 507.04 L279.58 506.48 L280.13 505.83 L280.7 505.08 L281.28 504.26 L281.87 503.37 L282.46 502.44 L283.05 501.47 L283.62 500.47 L284.2 499.41 L284.77 498.24 L285.34 497.01 L285.91 495.75 L286.48 494.48 L287.06 493.24 L287.63 492.06 L288.2 490.98 L288.78 489.97 L289.37 489 L289.96 488.06 L290.54 487.17 L291.13 486.32 L291.7 485.51 L292.25 484.75 L292.77 484.05 L293.28 483.38 L293.77 482.77 L294.24 482.21 L294.7 481.68 L295.14 481.21 L295.58 480.77 L296.01 480.38 L296.44 480.03 L296.85 479.73 L297.26 479.48 L297.65 479.29 L298.04 479.13 L298.42 479 L298.79 478.91 L299.17 478.82 L299.55 478.75 L299.92 478.7 L300.29 478.67 L300.65 478.66 L301.01 478.67 L301.37 478.71 L301.73 478.77 L302.1 478.84 L302.47 478.94 L302.84 479.05 L303.18 479.18 L303.52 479.34 L303.87 479.52 L304.24 479.71 L304.64 479.92 L305.08 480.15 L305.58 480.39 L306.1 480.65 L306.6 480.91 L307.11 481.19 L307.67 481.49 L308.31 481.81 L309.07 482.16 L309.98 482.54 L311.07 482.95 L312.37 483.41 L313.82 483.91 L315.42 484.44 L317.14 485 L318.96 485.58 L320.85 486.17 L322.81 486.75 L324.8 487.33 L326.87 487.91 L329.05 488.52 L331.33 489.13 L333.66 489.75 L336.04 490.36 L338.42 490.96 L340.78 491.53 L343.1 492.07 L345.39 492.59 L347.67 493.08 L349.96 493.56 L352.25 494.01 L354.54 494.46 L356.82 494.89 L359.11 495.31 L361.4 495.73 L363.81 496.14 L366.4 496.57 L369.07 497 L371.69 497.41 L374.18 497.8 L376.41 498.14 L378.29 498.42 L379.7 498.64" fill="none" stroke="#1f5fad" stroke-width="3.2" stroke-linejoin="round" stroke-linecap="round"/>
<line x1="267.5" y1="508.5" x2="269.9" y2="508.5" stroke="#231f20" stroke-width="0.8"/>
<text x="266.3" y="510.5" font-size="5.6" font-weight="bold" text-anchor="end" fill="#231f20" letter-spacing="-0.25">0</text>
<line x1="267.5" y1="490.25" x2="269.9" y2="490.25" stroke="#231f20" stroke-width="0.8"/>
<text x="266.3" y="492.25" font-size="5.6" font-weight="bold" text-anchor="end" fill="#231f20" letter-spacing="-0.25">50</text>
<line x1="267.5" y1="472" x2="269.9" y2="472" stroke="#231f20" stroke-width="0.8"/>
<text x="266.3" y="474" font-size="5.6" font-weight="bold" text-anchor="end" fill="#231f20" letter-spacing="-0.25">100</text>
<line x1="267.5" y1="453.75" x2="269.9" y2="453.75" stroke="#231f20" stroke-width="0.8"/>
<text x="266.3" y="455.75" font-size="5.6" font-weight="bold" text-anchor="end" fill="#231f20" letter-spacing="-0.25">150</text>
<line x1="267.5" y1="435.5" x2="269.9" y2="435.5" stroke="#231f20" stroke-width="0.8"/>
<text x="266.3" y="437.5" font-size="5.6" font-weight="bold" text-anchor="end" fill="#231f20" letter-spacing="-0.25">200</text>
<line x1="269.9" y1="508.5" x2="269.9" y2="510.9" stroke="#231f20" stroke-width="0.8"/>
<text x="269.9" y="517.5" font-size="5.6" font-weight="bold" text-anchor="middle" fill="#231f20" letter-spacing="-0.25">0</text>
<line x1="306.5" y1="508.5" x2="306.5" y2="510.9" stroke="#231f20" stroke-width="0.8"/>
<text x="306.5" y="517.5" font-size="5.6" font-weight="bold" text-anchor="middle" fill="#231f20" letter-spacing="-0.25">200</text>
<line x1="343.1" y1="508.5" x2="343.1" y2="510.9" stroke="#231f20" stroke-width="0.8"/>
<text x="343.1" y="517.5" font-size="5.6" font-weight="bold" text-anchor="middle" fill="#231f20" letter-spacing="-0.25">400</text>
<line x1="379.7" y1="508.5" x2="379.7" y2="510.9" stroke="#231f20" stroke-width="0.8"/>
<text x="379.7" y="517.5" font-size="5.6" font-weight="bold" text-anchor="middle" fill="#231f20" letter-spacing="-0.25">600</text>
<line x1="269.9" y1="435.1" x2="269.9" y2="508.9" stroke="#231f20" stroke-width="1"/>
<line x1="269.5" y1="508.5" x2="379.7" y2="508.5" stroke="#231f20" stroke-width="1"/>
<text x="324.8" y="525.9" font-size="6" font-weight="bold" text-anchor="middle" fill="#231f20">Time(s)</text>
<text transform="translate(253.6 472) rotate(-90)" font-size="5.7" font-weight="bold" text-anchor="middle" fill="#231f20">ΔF/F<tspan font-size="4.0" dy="1.0">0</tspan><tspan dy="-1.0"> (%)</tspan></text>
<circle cx="283.8" cy="440.3" r="6.4" fill="#ebe53a" stroke="#3a3a3a" stroke-width="0.9"/>
<text x="283.8" y="443.68" font-size="9.4" font-weight="bold" text-anchor="middle" fill="#231f20">1</text>
<text x="294.7" y="443.2" font-size="8.1" font-weight="bold" fill="#231f20">pSYQ305+pSYQ307</text>
<path d="M410.4 506.8 L410.54 506.67 L410.73 506.54 L410.95 506.39 L411.2 506.19 L411.46 505.93 L411.73 505.58 L411.99 505.12 L412.23 504.52 L412.46 503.78 L412.69 502.92 L412.92 501.94 L413.14 500.87 L413.37 499.73 L413.6 498.54 L413.83 497.3 L414.06 496.04 L414.28 494.71 L414.5 493.29 L414.71 491.8 L414.92 490.27 L415.14 488.72 L415.37 487.19 L415.62 485.69 L415.89 484.27 L416.18 482.89 L416.49 481.52 L416.81 480.17 L417.15 478.84 L417.5 477.55 L417.86 476.32 L418.24 475.2 L418.63 474.14 L419.04 473.13 L419.46 472.16 L419.9 471.25 L420.35 470.37 L420.82 469.54 L421.29 468.73 L421.79 467.95 L422.29 467.2 L422.82 466.48 L423.35 465.81 L423.9 465.17 L424.47 464.56 L425.05 463.97 L425.64 463.58 L426.25 463.21 L426.87 462.85 L427.51 462.49 L428.18 462.16 L428.86 461.84 L429.56 461.54 L430.26 461.26 L430.97 461 L431.67 460.76 L432.36 460.55 L433.03 460.34 L433.69 460.12 L434.34 459.9 L434.99 459.71 L435.66 459.58 L436.35 459.52 L437.08 459.56 L437.85 459.72 L438.66 459.93 L439.51 460.24 L440.38 460.64 L441.28 461.11 L442.21 461.65 L443.17 462.23 L444.15 462.84 L445.17 463.47 L446.23 464.14 L447.35 464.9 L448.51 465.72 L449.69 466.56 L450.88 467.42 L452.05 468.26 L453.21 469.06 L454.32 469.79 L455.39 470.49 L456.44 471.19 L457.48 471.87 L458.49 472.52 L459.51 473.13 L460.52 473.7 L461.53 474.21 L462.55 474.65 L463.58 474.99 L464.59 475.24 L465.6 475.41 L466.62 475.54 L467.63 475.65 L468.67 475.78 L469.72 475.94 L470.79 476.18 L471.89 476.49 L473.01 476.83 L474.15 477.21 L475.31 477.6 L476.47 478.01 L477.63 478.41 L478.79 478.8 L479.94 479.16 L481.08 479.51 L482.23 479.87 L483.37 480.22 L484.51 480.56 L485.66 480.89 L486.8 481.21 L487.95 481.51 L489.09 481.78 L490.27 482.03 L491.51 482.27 L492.76 482.49 L494.01 482.7 L495.21 482.89 L496.34 483.05 L497.36 483.19 L498.24 483.3 L498.96 483.36 L499.54 483.38 L500.01 483.35 L500.41 483.31 L500.77 483.27 L501.11 483.25 L501.48 483.26 L501.9 483.32 L502.35 483.46 L502.79 483.66 L503.23 483.9 L503.67 484.16 L504.12 484.4 L504.58 484.61 L505.06 484.75 L505.56 484.81 L506.09 484.77 L506.64 484.65 L507.21 484.47 L507.79 484.25 L508.38 484.02 L508.97 483.78 L509.56 483.56 L510.13 483.38 L510.7 483.21 L511.26 483.02 L511.81 482.82 L512.37 482.64 L512.93 482.48 L513.5 482.37 L514.09 482.3 L514.71 482.31 L515.39 482.42 L516.15 482.62 L516.94 482.88 L517.74 483.18 L518.5 483.48 L519.19 483.77 L519.77 484.01 L520.2 484.17 L520.2 491.47 L519.77 491.32 L519.19 491.09 L518.5 490.81 L517.74 490.51 L516.94 490.22 L516.15 489.97 L515.39 489.78 L514.71 489.69 L514.09 489.69 L513.5 489.75 L512.93 489.88 L512.37 490.04 L511.81 490.24 L511.26 490.44 L510.7 490.63 L510.13 490.81 L509.56 491 L508.97 491.23 L508.38 491.47 L507.79 491.72 L507.21 491.94 L506.64 492.13 L506.09 492.25 L505.56 492.3 L505.06 492.25 L504.58 492.11 L504.12 491.91 L503.67 491.68 L503.23 491.43 L502.79 491.19 L502.35 491 L501.9 490.87 L501.48 490.81 L501.11 490.8 L500.77 490.83 L500.41 490.88 L500.01 490.92 L499.54 490.95 L498.96 490.95 L498.24 490.89 L497.36 490.79 L496.34 490.67 L495.21 490.52 L494.01 490.35 L492.76 490.16 L491.51 489.95 L490.27 489.73 L489.09 489.49 L487.95 489.23 L486.8 488.95 L485.66 488.65 L484.51 488.34 L483.37 488.01 L482.23 487.67 L481.08 487.33 L479.94 487 L478.79 486.65 L477.63 486.27 L476.47 485.89 L475.31 485.5 L474.15 485.12 L473.01 484.76 L471.89 484.43 L470.79 484.14 L469.72 483.92 L468.67 483.76 L467.63 483.65 L466.62 483.55 L465.6 483.44 L464.59 483.29 L463.58 483.07 L462.55 482.75 L461.53 482.34 L460.52 481.86 L459.51 481.32 L458.49 480.73 L457.48 480.1 L456.44 479.45 L455.39 478.79 L454.32 478.12 L453.21 477.41 L452.05 476.64 L450.88 475.83 L449.69 475.01 L448.51 474.19 L447.35 473.41 L446.23 472.68 L445.17 472.03 L444.15 471.43 L443.17 470.85 L442.21 470.29 L441.28 469.78 L440.38 469.33 L439.51 468.95 L438.66 468.66 L437.85 468.48 L437.08 468.5 L436.35 468.62 L435.66 468.84 L434.99 469.13 L434.34 469.46 L433.69 469.83 L433.03 470.2 L432.36 470.57 L431.67 470.93 L430.97 471.33 L430.26 471.74 L429.56 472.19 L428.86 472.65 L428.18 473.12 L427.51 473.61 L426.87 474.11 L426.25 474.62 L425.64 475.13 L425.05 475.65 L424.47 476.01 L423.9 476.39 L423.35 476.82 L422.82 477.28 L422.29 477.79 L421.79 478.34 L421.29 478.92 L420.82 479.53 L420.35 480.18 L419.9 480.88 L419.46 481.62 L419.04 482.41 L418.63 483.26 L418.24 484.17 L417.86 485.14 L417.5 486.11 L417.15 487.09 L416.81 488.11 L416.49 489.18 L416.18 490.27 L415.89 491.38 L415.62 492.57 L415.37 493.84 L415.14 495.16 L414.92 496.51 L414.71 497.86 L414.5 499.16 L414.28 500.39 L414.06 501.51 L413.83 502.57 L413.6 503.6 L413.37 504.59 L413.14 505.53 L412.92 506.39 L412.69 507.16 L412.46 507.82 L412.23 508.36 L411.99 508.74 L411.73 508.97 L411.46 509.08 L411.2 509.1 L410.95 509.07 L410.73 509.03 L410.54 508.99 L410.4 509Z" fill="#3ebfe7" stroke="#3ebfe7" stroke-width="0.8" stroke-linejoin="round"/>
<path d="M410.4 507.9 L410.54 507.83 L410.73 507.78 L410.95 507.73 L411.2 507.65 L411.46 507.51 L411.73 507.28 L411.99 506.93 L412.23 506.44 L412.46 505.8 L412.69 505.04 L412.92 504.16 L413.14 503.2 L413.37 502.16 L413.6 501.07 L413.83 499.93 L414.06 498.77 L414.28 497.55 L414.5 496.23 L414.71 494.83 L414.92 493.39 L415.14 491.94 L415.37 490.51 L415.62 489.13 L415.89 487.82 L416.18 486.58 L416.49 485.35 L416.81 484.14 L417.15 482.97 L417.5 481.83 L417.86 480.73 L418.24 479.69 L418.63 478.7 L419.04 477.77 L419.46 476.89 L419.9 476.06 L420.35 475.28 L420.82 474.53 L421.29 473.82 L421.79 473.15 L422.29 472.5 L422.82 471.88 L423.35 471.31 L423.9 470.78 L424.47 470.28 L425.05 469.81 L425.64 469.36 L426.25 468.91 L426.87 468.48 L427.51 468.05 L428.18 467.64 L428.86 467.24 L429.56 466.86 L430.26 466.5 L430.97 466.16 L431.67 465.85 L432.36 465.56 L433.03 465.27 L433.69 464.97 L434.34 464.68 L434.99 464.42 L435.66 464.21 L436.35 464.07 L437.08 464.03 L437.85 464.1 L438.66 464.29 L439.51 464.59 L440.38 464.98 L441.28 465.45 L442.21 465.97 L443.17 466.54 L444.15 467.14 L445.17 467.75 L446.23 468.41 L447.35 469.16 L448.51 469.95 L449.69 470.78 L450.88 471.62 L452.05 472.45 L453.21 473.23 L454.32 473.95 L455.39 474.64 L456.44 475.32 L457.48 475.99 L458.49 476.62 L459.51 477.23 L460.52 477.78 L461.53 478.27 L462.55 478.7 L463.58 479.03 L464.59 479.26 L465.6 479.42 L466.62 479.54 L467.63 479.65 L468.67 479.77 L469.72 479.93 L470.79 480.16 L471.89 480.46 L473.01 480.8 L474.15 481.16 L475.31 481.55 L476.47 481.95 L477.63 482.34 L478.79 482.72 L479.94 483.08 L481.08 483.42 L482.23 483.77 L483.37 484.11 L484.51 484.45 L485.66 484.77 L486.8 485.08 L487.95 485.37 L489.09 485.63 L490.27 485.88 L491.51 486.11 L492.76 486.33 L494.01 486.52 L495.21 486.7 L496.34 486.86 L497.36 486.99 L498.24 487.09 L498.96 487.15 L499.54 487.16 L500.01 487.14 L500.41 487.09 L500.77 487.05 L501.11 487.03 L501.48 487.04 L501.9 487.09 L502.35 487.23 L502.79 487.43 L503.23 487.66 L503.67 487.92 L504.12 488.16 L504.58 488.36 L505.06 488.5 L505.56 488.55 L506.09 488.51 L506.64 488.39 L507.21 488.21 L507.79 487.98 L508.38 487.74 L508.97 487.5 L509.56 487.28 L510.13 487.09 L510.7 486.92 L511.26 486.73 L511.81 486.53 L512.37 486.34 L512.93 486.18 L513.5 486.06 L514.09 485.99 L514.71 486 L515.39 486.1 L516.15 486.29 L516.94 486.55 L517.74 486.84 L518.5 487.15 L519.19 487.43 L519.77 487.66 L520.2 487.82" fill="none" stroke="#1f5fad" stroke-width="3.2" stroke-linejoin="round" stroke-linecap="round"/>
<line x1="408" y1="507.9" x2="410.4" y2="507.9" stroke="#231f20" stroke-width="0.8"/>
<text x="406.8" y="509.9" font-size="5.6" font-weight="bold" text-anchor="end" fill="#231f20" letter-spacing="-0.25">0</text>
<line x1="408" y1="489.65" x2="410.4" y2="489.65" stroke="#231f20" stroke-width="0.8"/>
<text x="406.8" y="491.65" font-size="5.6" font-weight="bold" text-anchor="end" fill="#231f20" letter-spacing="-0.25">50</text>
<line x1="408" y1="471.4" x2="410.4" y2="471.4" stroke="#231f20" stroke-width="0.8"/>
<text x="406.8" y="473.4" font-size="5.6" font-weight="bold" text-anchor="end" fill="#231f20" letter-spacing="-0.25">100</text>
<line x1="408" y1="453.15" x2="410.4" y2="453.15" stroke="#231f20" stroke-width="0.8"/>
<text x="406.8" y="455.15" font-size="5.6" font-weight="bold" text-anchor="end" fill="#231f20" letter-spacing="-0.25">150</text>
<line x1="408" y1="434.9" x2="410.4" y2="434.9" stroke="#231f20" stroke-width="0.8"/>
<text x="406.8" y="436.9" font-size="5.6" font-weight="bold" text-anchor="end" fill="#231f20" letter-spacing="-0.25">200</text>
<line x1="410.4" y1="507.9" x2="410.4" y2="510.3" stroke="#231f20" stroke-width="0.8"/>
<text x="410.4" y="516.9" font-size="5.6" font-weight="bold" text-anchor="middle" fill="#231f20" letter-spacing="-0.25">0</text>
<line x1="447" y1="507.9" x2="447" y2="510.3" stroke="#231f20" stroke-width="0.8"/>
<text x="447" y="516.9" font-size="5.6" font-weight="bold" text-anchor="middle" fill="#231f20" letter-spacing="-0.25">200</text>
<line x1="483.6" y1="507.9" x2="483.6" y2="510.3" stroke="#231f20" stroke-width="0.8"/>
<text x="483.6" y="516.9" font-size="5.6" font-weight="bold" text-anchor="middle" fill="#231f20" letter-spacing="-0.25">400</text>
<line x1="520.2" y1="507.9" x2="520.2" y2="510.3" stroke="#231f20" stroke-width="0.8"/>
<text x="520.2" y="516.9" font-size="5.6" font-weight="bold" text-anchor="middle" fill="#231f20" letter-spacing="-0.25">600</text>
<line x1="410.4" y1="434.5" x2="410.4" y2="508.3" stroke="#231f20" stroke-width="1"/>
<line x1="410" y1="507.9" x2="520.2" y2="507.9" stroke="#231f20" stroke-width="1"/>
<text x="465.3" y="525.3" font-size="6" font-weight="bold" text-anchor="middle" fill="#231f20">Time(s)</text>
<text transform="translate(394.1 471.4) rotate(-90)" font-size="5.7" font-weight="bold" text-anchor="middle" fill="#231f20">ΔF/F<tspan font-size="4.0" dy="1.0">0</tspan><tspan dy="-1.0"> (%)</tspan></text>
<circle cx="426.9" cy="440.6" r="6.4" fill="#ebe53a" stroke="#3a3a3a" stroke-width="0.9"/>
<text x="426.9" y="443.98" font-size="9.4" font-weight="bold" text-anchor="middle" fill="#231f20">2</text>
<text x="439.3" y="443.5" font-size="8.1" font-weight="bold" fill="#231f20">pSYQ305+pSYQ306</text>
<path d="M270.4 616.9 L270.73 616.72 L271.18 616.5 L271.73 616.23 L272.32 615.92 L272.93 615.57 L273.51 615.19 L274.02 614.78 L274.43 614.33 L274.73 613.88 L274.96 613.42 L275.15 612.94 L275.3 612.42 L275.43 611.83 L275.56 611.17 L275.71 610.4 L275.89 609.51 L276.1 608.49 L276.32 607.34 L276.55 606.09 L276.78 604.76 L277.02 603.36 L277.25 601.93 L277.49 600.48 L277.72 599.02 L277.95 597.57 L278.18 596.05 L278.41 594.49 L278.63 592.91 L278.86 591.31 L279.09 589.71 L279.32 588.14 L279.55 586.61 L279.77 585.12 L279.96 583.66 L280.16 582.21 L280.35 580.77 L280.56 579.33 L280.79 577.88 L281.06 576.42 L281.38 574.93 L281.74 573.38 L282.12 571.78 L282.54 570.14 L282.98 568.5 L283.45 567 L283.95 565.68 L284.48 564.46 L285.04 563.37 L285.62 562.42 L286.21 561.56 L286.83 560.8 L287.48 560.11 L288.16 559.49 L288.9 558.98 L289.68 558.67 L290.53 558.41 L291.46 558.2 L292.48 558.04 L293.56 557.94 L294.68 557.9 L295.82 557.93 L296.96 557.9 L298.07 557.92 L299.13 558.03 L300.12 558.22 L301.03 558.48 L301.92 558.81 L302.8 559.22 L303.72 559.63 L304.7 560.01 L305.78 560.47 L307 561 L308.39 561.66 L309.94 562.48 L311.6 563.41 L313.32 564.41 L315.06 565.42 L316.75 566.4 L318.35 567.3 L319.81 568.09 L321.12 568.75 L322.33 569.33 L323.47 569.85 L324.56 570.33 L325.62 570.8 L326.69 571.28 L327.8 571.78 L328.96 572.33 L330.17 572.91 L331.41 573.52 L332.67 574.14 L333.94 574.77 L335.21 575.4 L336.49 576.04 L337.76 576.68 L339.02 577.3 L340.3 577.92 L341.58 578.55 L342.88 579.17 L344.17 579.79 L345.45 580.41 L346.7 581.03 L347.92 581.66 L349.09 582.28 L350.18 582.91 L351.19 583.55 L352.15 584.19 L353.09 584.83 L354.05 585.46 L355.05 586.08 L356.13 586.69 L357.32 587.28 L358.64 587.85 L360.06 588.42 L361.56 588.98 L363.1 589.53 L364.67 590.06 L366.22 590.57 L367.75 591.05 L369.22 591.5 L370.71 591.94 L372.29 592.36 L373.89 592.77 L375.45 593.15 L376.93 593.5 L378.25 593.81 L379.36 594.07 L380.2 594.27 L380.2 602.3 L379.36 602.08 L378.25 601.79 L376.93 601.44 L375.45 601.06 L373.89 600.63 L372.29 600.18 L370.71 599.71 L369.22 599.24 L367.75 598.75 L366.22 598.22 L364.67 597.67 L363.1 597.1 L361.56 596.52 L360.06 595.92 L358.64 595.31 L357.32 594.7 L356.13 594.08 L355.05 593.44 L354.05 592.79 L353.09 592.14 L352.15 591.47 L351.19 590.8 L350.18 590.14 L349.09 589.48 L347.92 588.83 L346.7 588.17 L345.45 587.52 L344.17 586.86 L342.88 586.21 L341.58 585.55 L340.3 584.89 L339.02 584.24 L337.76 583.58 L336.49 582.91 L335.21 582.24 L333.94 581.57 L332.67 580.91 L331.41 580.25 L330.17 579.61 L328.96 578.99 L327.8 578.42 L326.69 577.89 L325.62 577.38 L324.56 576.88 L323.47 576.36 L322.33 575.8 L321.12 575.18 L319.81 574.47 L318.35 573.64 L316.75 572.68 L315.06 571.65 L313.32 570.58 L311.6 569.53 L309.94 568.54 L308.39 567.67 L307 566.96 L305.78 566.39 L304.7 565.9 L303.72 565.49 L302.8 565.27 L301.92 565.22 L301.03 565.24 L300.12 565.35 L299.13 565.55 L298.07 565.86 L296.96 566.28 L295.82 566.83 L294.68 567.6 L293.56 568.42 L292.48 569.27 L291.46 570.14 L290.53 571.01 L289.68 571.86 L288.9 572.71 L288.16 573.43 L287.48 574.14 L286.83 574.92 L286.21 575.76 L285.62 576.7 L285.04 577.73 L284.48 578.89 L283.95 580.18 L283.45 581.57 L282.98 582.91 L282.54 584.2 L282.12 585.51 L281.74 586.81 L281.38 588.07 L281.06 589.31 L280.79 590.56 L280.56 591.82 L280.35 593.09 L280.16 594.37 L279.96 595.67 L279.77 596.97 L279.55 598.29 L279.32 599.64 L279.09 601.03 L278.86 602.44 L278.63 603.86 L278.41 605.26 L278.18 606.64 L277.95 607.97 L277.72 609.24 L277.49 610.44 L277.25 611.64 L277.02 612.81 L276.78 613.95 L276.55 615.03 L276.32 616.03 L276.1 616.93 L275.89 617.73 L275.71 618.41 L275.56 619.02 L275.43 619.54 L275.3 619.98 L275.15 620.34 L274.96 620.61 L274.73 620.81 L274.43 620.94 L274.02 620.94 L273.51 620.79 L272.93 620.54 L272.32 620.22 L271.73 619.87 L271.18 619.54 L270.73 619.27 L270.4 619.1Z" fill="#3ebfe7" stroke="#3ebfe7" stroke-width="0.8" stroke-linejoin="round"/>
<path d="M270.4 618 L270.73 618 L271.18 618.02 L271.73 618.05 L272.32 618.07 L272.93 618.06 L273.51 617.99 L274.02 617.86 L274.43 617.63 L274.73 617.35 L274.96 617.02 L275.15 616.64 L275.3 616.2 L275.43 615.69 L275.56 615.09 L275.71 614.41 L275.89 613.62 L276.1 612.71 L276.32 611.68 L276.55 610.56 L276.78 609.35 L277.02 608.09 L277.25 606.78 L277.49 605.46 L277.72 604.13 L277.95 602.77 L278.18 601.35 L278.41 599.88 L278.63 598.38 L278.86 596.87 L279.09 595.37 L279.32 593.89 L279.55 592.45 L279.77 591.05 L279.96 589.66 L280.16 588.29 L280.35 586.93 L280.56 585.57 L280.79 584.22 L281.06 582.86 L281.38 581.5 L281.74 580.1 L282.12 578.64 L282.54 577.17 L282.98 575.71 L283.45 574.28 L283.95 572.93 L284.48 571.67 L285.04 570.55 L285.62 569.56 L286.21 568.66 L286.83 567.86 L287.48 567.13 L288.16 566.46 L288.9 565.84 L289.68 565.27 L290.53 564.71 L291.46 564.17 L292.48 563.65 L293.56 563.18 L294.68 562.75 L295.82 562.38 L296.96 562.09 L298.07 561.89 L299.13 561.79 L300.12 561.78 L301.03 561.86 L301.92 562.01 L302.8 562.25 L303.72 562.56 L304.7 562.95 L305.78 563.43 L307 563.98 L308.39 564.67 L309.94 565.51 L311.6 566.47 L313.32 567.49 L315.06 568.53 L316.75 569.54 L318.35 570.47 L319.81 571.28 L321.12 571.96 L322.33 572.56 L323.47 573.1 L324.56 573.61 L325.62 574.09 L326.69 574.58 L327.8 575.1 L328.96 575.66 L330.17 576.26 L331.41 576.89 L332.67 577.52 L333.94 578.17 L335.21 578.82 L336.49 579.48 L337.76 580.13 L339.02 580.77 L340.3 581.41 L341.58 582.05 L342.88 582.69 L344.17 583.33 L345.45 583.96 L346.7 584.6 L347.92 585.24 L349.09 585.88 L350.18 586.52 L351.19 587.17 L352.15 587.83 L353.09 588.48 L354.05 589.13 L355.05 589.76 L356.13 590.39 L357.32 590.99 L358.64 591.58 L360.06 592.17 L361.56 592.75 L363.1 593.32 L364.67 593.87 L366.22 594.39 L367.75 594.9 L369.22 595.37 L370.71 595.82 L372.29 596.27 L373.89 596.7 L375.45 597.1 L376.93 597.47 L378.25 597.8 L379.36 598.07 L380.2 598.29" fill="none" stroke="#1f5fad" stroke-width="3.2" stroke-linejoin="round" stroke-linecap="round"/>
<line x1="268" y1="618" x2="270.4" y2="618" stroke="#231f20" stroke-width="0.8"/>
<text x="266.8" y="620" font-size="5.6" font-weight="bold" text-anchor="end" fill="#231f20" letter-spacing="-0.25">0</text>
<line x1="268" y1="599.75" x2="270.4" y2="599.75" stroke="#231f20" stroke-width="0.8"/>
<text x="266.8" y="601.75" font-size="5.6" font-weight="bold" text-anchor="end" fill="#231f20" letter-spacing="-0.25">50</text>
<line x1="268" y1="581.5" x2="270.4" y2="581.5" stroke="#231f20" stroke-width="0.8"/>
<text x="266.8" y="583.5" font-size="5.6" font-weight="bold" text-anchor="end" fill="#231f20" letter-spacing="-0.25">100</text>
<line x1="268" y1="563.25" x2="270.4" y2="563.25" stroke="#231f20" stroke-width="0.8"/>
<text x="266.8" y="565.25" font-size="5.6" font-weight="bold" text-anchor="end" fill="#231f20" letter-spacing="-0.25">150</text>
<line x1="268" y1="545" x2="270.4" y2="545" stroke="#231f20" stroke-width="0.8"/>
<text x="266.8" y="547" font-size="5.6" font-weight="bold" text-anchor="end" fill="#231f20" letter-spacing="-0.25">200</text>
<line x1="270.4" y1="618" x2="270.4" y2="620.4" stroke="#231f20" stroke-width="0.8"/>
<text x="270.4" y="627" font-size="5.6" font-weight="bold" text-anchor="middle" fill="#231f20" letter-spacing="-0.25">0</text>
<line x1="307" y1="618" x2="307" y2="620.4" stroke="#231f20" stroke-width="0.8"/>
<text x="307" y="627" font-size="5.6" font-weight="bold" text-anchor="middle" fill="#231f20" letter-spacing="-0.25">200</text>
<line x1="343.6" y1="618" x2="343.6" y2="620.4" stroke="#231f20" stroke-width="0.8"/>
<text x="343.6" y="627" font-size="5.6" font-weight="bold" text-anchor="middle" fill="#231f20" letter-spacing="-0.25">400</text>
<line x1="380.2" y1="618" x2="380.2" y2="620.4" stroke="#231f20" stroke-width="0.8"/>
<text x="380.2" y="627" font-size="5.6" font-weight="bold" text-anchor="middle" fill="#231f20" letter-spacing="-0.25">600</text>
<line x1="270.4" y1="544.6" x2="270.4" y2="618.4" stroke="#231f20" stroke-width="1"/>
<line x1="270" y1="618" x2="380.2" y2="618" stroke="#231f20" stroke-width="1"/>
<text x="325.3" y="635.4" font-size="6" font-weight="bold" text-anchor="middle" fill="#231f20">Time(s)</text>
<text transform="translate(254.1 581.5) rotate(-90)" font-size="5.7" font-weight="bold" text-anchor="middle" fill="#231f20">ΔF/F<tspan font-size="4.0" dy="1.0">0</tspan><tspan dy="-1.0"> (%)</tspan></text>
<circle cx="284.5" cy="541.1" r="6.4" fill="#ebe53a" stroke="#3a3a3a" stroke-width="0.9"/>
<text x="284.5" y="544.48" font-size="9.4" font-weight="bold" text-anchor="middle" fill="#231f20">3</text>
<text x="295.5" y="544" font-size="8.1" font-weight="bold" fill="#231f20">pSYQ305+pLYL307</text>
<path d="M411.3 617.3 L411.44 617.11 L411.63 616.89 L411.85 616.62 L412.1 616.31 L412.36 615.95 L412.63 615.53 L412.89 615.05 L413.13 614.51 L413.36 613.89 L413.6 613.22 L413.83 612.48 L414.07 611.68 L414.3 610.84 L414.53 609.95 L414.75 609.02 L414.96 608.06 L415.16 607.08 L415.34 606.1 L415.52 605.08 L415.69 604.02 L415.86 602.89 L416.04 601.67 L416.23 600.34 L416.42 598.88 L416.64 597.24 L416.86 595.45 L417.08 593.59 L417.32 591.67 L417.55 589.73 L417.79 587.83 L418.02 586.03 L418.25 584.4 L418.48 582.9 L418.69 581.47 L418.89 580.1 L419.1 578.8 L419.32 577.55 L419.55 576.35 L419.8 575.21 L420.08 574.1 L420.38 573.05 L420.7 572.05 L421.02 571.1 L421.37 570.2 L421.73 569.35 L422.13 568.54 L422.55 567.77 L423.01 567.05 L423.5 566.37 L423.99 565.74 L424.51 565.16 L425.06 564.62 L425.65 564.12 L426.29 563.69 L427 563.31 L427.77 562.98 L428.65 562.69 L429.63 562.45 L430.68 562.25 L431.78 562.09 L432.9 561.97 L433.99 561.88 L435.04 561.82 L436 561.79 L436.87 561.79 L437.67 561.82 L438.42 561.88 L439.15 561.97 L439.89 562.1 L440.66 562.27 L441.49 562.48 L442.41 562.74 L443.42 563.06 L444.5 563.45 L445.64 563.89 L446.81 564.37 L448.01 564.86 L449.21 565.32 L450.4 565.78 L451.56 566.2 L452.64 566.59 L453.62 566.92 L454.56 567.24 L455.52 567.57 L456.55 567.94 L457.73 568.36 L459.09 568.87 L460.71 569.49 L462.62 570.24 L464.77 571.12 L467.12 572.08 L469.61 573.09 L472.17 574.14 L474.75 575.19 L477.3 576.2 L479.74 577.15 L482.17 578.08 L484.68 579.02 L487.22 579.95 L489.74 580.87 L492.2 581.76 L494.56 582.6 L496.76 583.39 L498.77 584.09 L500.56 584.71 L502.16 585.26 L503.61 585.75 L504.95 586.19 L506.23 586.6 L507.49 586.98 L508.77 587.36 L510.12 587.74 L511.59 588.13 L513.15 588.52 L514.75 588.89 L516.32 589.25 L517.8 589.57 L519.14 589.86 L520.26 590.11 L521.1 590.29 L521.1 597.6 L520.26 597.41 L519.14 597.16 L517.8 596.87 L516.32 596.55 L514.75 596.19 L513.15 595.82 L511.59 595.43 L510.12 595.04 L508.77 594.66 L507.49 594.28 L506.23 593.9 L504.95 593.49 L503.61 593.05 L502.16 592.56 L500.56 592.01 L498.77 591.39 L496.76 590.69 L494.56 589.9 L492.2 589.06 L489.74 588.17 L487.22 587.25 L484.68 586.32 L482.17 585.38 L479.74 584.45 L477.3 583.5 L474.75 582.49 L472.17 581.44 L469.61 580.39 L467.12 579.38 L464.77 578.42 L462.62 577.54 L460.71 576.79 L459.09 576.17 L457.73 575.66 L456.55 575.24 L455.52 574.87 L454.56 574.54 L453.62 574.22 L452.64 573.89 L451.56 573.5 L450.4 573.08 L449.21 572.62 L448.01 572.16 L446.81 571.74 L445.64 571.34 L444.5 570.97 L443.42 570.66 L442.41 570.4 L441.49 570.2 L440.66 570.05 L439.89 569.93 L439.15 569.85 L438.42 569.81 L437.67 569.8 L436.87 569.83 L436 569.89 L435.04 569.98 L433.99 570.1 L432.9 570.26 L431.78 570.46 L430.68 570.69 L429.63 570.96 L428.65 571.27 L427.77 571.62 L427 572 L426.29 572.42 L425.65 572.86 L425.06 573.31 L424.51 573.81 L423.99 574.35 L423.5 574.94 L423.01 575.58 L422.55 576.26 L422.13 576.99 L421.73 577.77 L421.37 578.59 L421.02 579.46 L420.7 580.39 L420.38 581.36 L420.08 582.4 L419.8 583.48 L419.55 584.6 L419.32 585.78 L419.1 587.01 L418.89 588.3 L418.69 589.65 L418.48 591.06 L418.25 592.54 L418.02 594.16 L417.79 595.94 L417.55 597.82 L417.32 599.74 L417.08 601.64 L416.86 603.48 L416.64 605.11 L416.42 606.53 L416.23 607.77 L416.04 608.9 L415.86 609.93 L415.69 610.88 L415.52 611.76 L415.34 612.59 L415.16 613.38 L414.96 614.14 L414.75 614.88 L414.53 615.57 L414.3 616.22 L414.07 616.82 L413.83 617.36 L413.6 617.85 L413.36 618.28 L413.13 618.64 L412.89 618.93 L412.63 619.13 L412.36 619.27 L412.1 619.35 L411.85 619.4 L411.63 619.43 L411.44 619.45 L411.3 619.5Z" fill="#3ebfe7" stroke="#3ebfe7" stroke-width="0.8" stroke-linejoin="round"/>
<path d="M411.3 618.4 L411.44 618.28 L411.63 618.16 L411.85 618.01 L412.1 617.83 L412.36 617.61 L412.63 617.33 L412.89 616.99 L413.13 616.57 L413.36 616.09 L413.6 615.53 L413.83 614.92 L414.07 614.25 L414.3 613.53 L414.53 612.76 L414.75 611.95 L414.96 611.1 L415.16 610.23 L415.34 609.34 L415.52 608.42 L415.69 607.45 L415.86 606.41 L416.04 605.28 L416.23 604.05 L416.42 602.7 L416.64 601.18 L416.86 599.46 L417.08 597.62 L417.32 595.7 L417.55 593.77 L417.79 591.88 L418.02 590.1 L418.25 588.47 L418.48 586.98 L418.69 585.56 L418.89 584.2 L419.1 582.9 L419.32 581.67 L419.55 580.48 L419.8 579.34 L420.08 578.25 L420.38 577.21 L420.7 576.22 L421.02 575.28 L421.37 574.39 L421.73 573.56 L422.13 572.77 L422.55 572.02 L423.01 571.31 L423.5 570.66 L423.99 570.05 L424.51 569.48 L425.06 568.97 L425.65 568.49 L426.29 568.06 L427 567.66 L427.77 567.3 L428.65 566.98 L429.63 566.7 L430.68 566.47 L431.78 566.27 L432.9 566.11 L433.99 565.99 L435.04 565.9 L436 565.84 L436.87 565.81 L437.67 565.81 L438.42 565.84 L439.15 565.91 L439.89 566.01 L440.66 566.16 L441.49 566.34 L442.41 566.57 L443.42 566.86 L444.5 567.21 L445.64 567.61 L446.81 568.05 L448.01 568.51 L449.21 568.97 L450.4 569.43 L451.56 569.86 L452.64 570.24 L453.62 570.57 L454.56 570.89 L455.52 571.22 L456.55 571.59 L457.73 572.01 L459.09 572.52 L460.71 573.14 L462.62 573.89 L464.77 574.77 L467.12 575.73 L469.61 576.74 L472.17 577.79 L474.75 578.84 L477.3 579.85 L479.74 580.8 L482.17 581.73 L484.68 582.67 L487.22 583.6 L489.74 584.52 L492.2 585.41 L494.56 586.25 L496.76 587.04 L498.77 587.74 L500.56 588.36 L502.16 588.91 L503.61 589.4 L504.95 589.84 L506.23 590.25 L507.49 590.63 L508.77 591.01 L510.12 591.39 L511.59 591.78 L513.15 592.17 L514.75 592.54 L516.32 592.9 L517.8 593.22 L519.14 593.51 L520.26 593.76 L521.1 593.94" fill="none" stroke="#1f5fad" stroke-width="3.2" stroke-linejoin="round" stroke-linecap="round"/>
<line x1="408.9" y1="618.4" x2="411.3" y2="618.4" stroke="#231f20" stroke-width="0.8"/>
<text x="407.7" y="620.4" font-size="5.6" font-weight="bold" text-anchor="end" fill="#231f20" letter-spacing="-0.25">0</text>
<line x1="408.9" y1="600.15" x2="411.3" y2="600.15" stroke="#231f20" stroke-width="0.8"/>
<text x="407.7" y="602.15" font-size="5.6" font-weight="bold" text-anchor="end" fill="#231f20" letter-spacing="-0.25">50</text>
<line x1="408.9" y1="581.9" x2="411.3" y2="581.9" stroke="#231f20" stroke-width="0.8"/>
<text x="407.7" y="583.9" font-size="5.6" font-weight="bold" text-anchor="end" fill="#231f20" letter-spacing="-0.25">100</text>
<line x1="408.9" y1="563.65" x2="411.3" y2="563.65" stroke="#231f20" stroke-width="0.8"/>
<text x="407.7" y="565.65" font-size="5.6" font-weight="bold" text-anchor="end" fill="#231f20" letter-spacing="-0.25">150</text>
<line x1="408.9" y1="545.4" x2="411.3" y2="545.4" stroke="#231f20" stroke-width="0.8"/>
<text x="407.7" y="547.4" font-size="5.6" font-weight="bold" text-anchor="end" fill="#231f20" letter-spacing="-0.25">200</text>
<line x1="411.3" y1="618.4" x2="411.3" y2="620.8" stroke="#231f20" stroke-width="0.8"/>
<text x="411.3" y="627.4" font-size="5.6" font-weight="bold" text-anchor="middle" fill="#231f20" letter-spacing="-0.25">0</text>
<line x1="447.9" y1="618.4" x2="447.9" y2="620.8" stroke="#231f20" stroke-width="0.8"/>
<text x="447.9" y="627.4" font-size="5.6" font-weight="bold" text-anchor="middle" fill="#231f20" letter-spacing="-0.25">200</text>
<line x1="484.5" y1="618.4" x2="484.5" y2="620.8" stroke="#231f20" stroke-width="0.8"/>
<text x="484.5" y="627.4" font-size="5.6" font-weight="bold" text-anchor="middle" fill="#231f20" letter-spacing="-0.25">400</text>
<line x1="521.1" y1="618.4" x2="521.1" y2="620.8" stroke="#231f20" stroke-width="0.8"/>
<text x="521.1" y="627.4" font-size="5.6" font-weight="bold" text-anchor="middle" fill="#231f20" letter-spacing="-0.25">600</text>
<line x1="411.3" y1="545" x2="411.3" y2="618.8" stroke="#231f20" stroke-width="1"/>
<line x1="410.9" y1="618.4" x2="521.1" y2="618.4" stroke="#231f20" stroke-width="1"/>
<text x="466.2" y="635.8" font-size="6" font-weight="bold" text-anchor="middle" fill="#231f20">Time(s)</text>
<text transform="translate(395 581.9) rotate(-90)" font-size="5.7" font-weight="bold" text-anchor="middle" fill="#231f20">ΔF/F<tspan font-size="4.0" dy="1.0">0</tspan><tspan dy="-1.0"> (%)</tspan></text>
<circle cx="427.4" cy="541.1" r="6.4" fill="#ebe53a" stroke="#3a3a3a" stroke-width="0.9"/>
<text x="427.4" y="544.48" font-size="9.4" font-weight="bold" text-anchor="middle" fill="#231f20">4</text>
<text x="437.9" y="544" font-size="8.1" font-weight="bold" fill="#231f20">pSYQ307+pLYL332</text>
<path d="M552.8 618.5 L553.01 618.01 L553.29 617.39 L553.63 616.65 L554 615.81 L554.39 614.88 L554.79 613.85 L555.18 612.75 L555.54 611.57 L555.89 610.26 L556.25 608.8 L556.61 607.22 L556.97 605.56 L557.33 603.89 L557.67 602.23 L557.99 600.64 L558.29 599.16 L558.55 597.97 L558.77 596.89 L558.96 595.87 L559.15 594.86 L559.34 593.82 L559.56 592.68 L559.81 591.42 L560.12 589.96 L560.49 588.28 L560.91 586.39 L561.36 584.36 L561.84 582.25 L562.33 580.11 L562.82 578.01 L563.31 575.99 L563.78 574.12 L564.24 572.36 L564.69 570.63 L565.15 568.95 L565.61 567.32 L566.07 565.75 L566.52 564.27 L566.98 562.87 L567.44 561.57 L567.9 560.39 L568.35 559.3 L568.81 558.29 L569.27 557.36 L569.73 556.51 L570.18 555.72 L570.64 554.99 L571.1 554.33 L571.54 553.73 L571.97 553.21 L572.39 552.76 L572.82 552.38 L573.25 552.05 L573.72 551.76 L574.21 551.51 L574.76 551.28 L575.36 551.09 L576.03 550.95 L576.72 550.85 L577.45 550.79 L578.18 550.77 L578.9 550.77 L579.6 550.79 L580.25 550.83 L580.87 550.88 L581.46 550.95 L582.03 551.05 L582.59 551.17 L583.15 551.33 L583.7 551.51 L584.26 551.74 L584.82 552 L585.41 552.32 L586 552.7 L586.6 553.13 L587.2 553.59 L587.79 554.06 L588.36 554.52 L588.9 554.96 L589.4 555.36 L589.83 555.71 L590.17 556.04 L590.46 556.34 L590.75 556.64 L591.06 556.94 L591.43 557.25 L591.9 557.58 L592.51 557.93 L593.24 558.31 L594.07 558.71 L594.97 559.12 L595.94 559.54 L596.98 559.97 L598.07 560.4 L599.21 560.83 L600.38 561.25 L601.56 561.67 L602.75 562.09 L603.98 562.5 L605.26 562.92 L606.64 563.34 L608.12 563.76 L609.75 564.18 L611.54 564.6 L613.55 565.01 L615.75 565.41 L618.1 565.81 L620.57 566.21 L623.09 566.63 L625.63 567.05 L628.14 567.5 L630.57 567.98 L633 568.5 L635.47 569.07 L637.98 569.67 L640.47 570.28 L642.91 570.89 L645.27 571.46 L647.52 571.99 L649.61 572.45 L651.61 572.85 L653.58 573.22 L655.49 573.56 L657.29 573.86 L658.94 574.12 L660.41 574.35 L661.64 574.55 L662.6 574.71 L662.6 582 L661.64 581.86 L660.41 581.67 L658.94 581.46 L657.29 581.21 L655.49 580.93 L653.58 580.61 L651.61 580.26 L649.61 579.88 L647.52 579.44 L645.27 578.93 L642.91 578.38 L640.47 577.8 L637.98 577.22 L635.47 576.64 L633 576.09 L630.57 575.59 L628.14 575.14 L625.63 574.72 L623.09 574.32 L620.57 573.93 L618.1 573.56 L615.75 573.18 L613.55 572.8 L611.54 572.4 L609.75 572 L608.12 571.6 L606.64 571.2 L605.26 570.79 L603.98 570.39 L602.75 569.98 L601.56 569.58 L600.38 569.18 L599.21 568.77 L598.07 568.35 L596.98 567.93 L595.94 567.51 L594.97 567.1 L594.07 566.69 L593.24 566.3 L592.51 565.93 L591.9 565.58 L591.43 565.26 L591.06 564.96 L590.75 564.66 L590.46 564.36 L590.17 564.06 L589.83 563.74 L589.4 563.39 L588.9 563.01 L588.36 562.59 L587.79 562.14 L587.2 561.69 L586.6 561.26 L586 560.85 L585.41 560.48 L584.82 560.18 L584.26 559.94 L583.7 559.73 L583.15 559.57 L582.59 559.43 L582.03 559.33 L581.46 559.25 L580.87 559.2 L580.25 559.16 L579.6 559.15 L578.9 559.15 L578.18 559.17 L577.45 559.22 L576.72 559.3 L576.03 559.42 L575.36 559.59 L574.76 559.8 L574.21 560.05 L573.72 560.32 L573.25 560.62 L572.82 560.96 L572.39 561.36 L571.97 561.82 L571.54 562.35 L571.1 562.96 L570.64 563.65 L570.18 564.39 L569.73 565.19 L569.27 566.06 L568.81 567.01 L568.35 568.03 L567.9 569.13 L567.44 570.33 L566.98 571.59 L566.52 572.95 L566.07 574.41 L565.61 575.93 L565.15 577.52 L564.69 579.17 L564.24 580.86 L563.78 582.59 L563.31 584.42 L562.82 586.4 L562.33 588.46 L561.84 590.56 L561.36 592.64 L560.91 594.63 L560.49 596.48 L560.12 598.14 L559.81 599.57 L559.56 600.82 L559.34 601.93 L559.15 602.96 L558.96 603.95 L558.77 604.95 L558.55 606.02 L558.29 607.19 L557.99 608.35 L557.67 609.6 L557.33 610.89 L556.97 612.19 L556.61 613.46 L556.25 614.66 L555.89 615.75 L555.54 616.68 L555.18 617.47 L554.79 618.16 L554.39 618.76 L554 619.28 L553.63 619.72 L553.29 620.1 L553.01 620.42 L552.8 620.7Z" fill="#3ebfe7" stroke="#3ebfe7" stroke-width="0.8" stroke-linejoin="round"/>
<path d="M552.8 619.6 L553.01 619.22 L553.29 618.74 L553.63 618.19 L554 617.55 L554.39 616.82 L554.79 616.01 L555.18 615.11 L555.54 614.12 L555.89 613.01 L556.25 611.73 L556.61 610.34 L556.97 608.88 L557.33 607.39 L557.67 605.91 L557.99 604.49 L558.29 603.18 L558.55 601.99 L558.77 600.92 L558.96 599.91 L559.15 598.91 L559.34 597.87 L559.56 596.75 L559.81 595.49 L560.12 594.05 L560.49 592.38 L560.91 590.51 L561.36 588.5 L561.84 586.41 L562.33 584.29 L562.82 582.2 L563.31 580.2 L563.78 578.36 L564.24 576.61 L564.69 574.9 L565.15 573.24 L565.61 571.63 L566.07 570.08 L566.52 568.61 L566.98 567.23 L567.44 565.95 L567.9 564.76 L568.35 563.66 L568.81 562.65 L569.27 561.71 L569.73 560.85 L570.18 560.06 L570.64 559.32 L571.1 558.64 L571.54 558.04 L571.97 557.51 L572.39 557.06 L572.82 556.67 L573.25 556.33 L573.72 556.04 L574.21 555.78 L574.76 555.54 L575.36 555.34 L576.03 555.19 L576.72 555.08 L577.45 555.01 L578.18 554.97 L578.9 554.96 L579.6 554.97 L580.25 555 L580.87 555.04 L581.46 555.1 L582.03 555.19 L582.59 555.3 L583.15 555.45 L583.7 555.62 L584.26 555.84 L584.82 556.09 L585.41 556.4 L586 556.77 L586.6 557.19 L587.2 557.64 L587.79 558.1 L588.36 558.55 L588.9 558.98 L589.4 559.38 L589.83 559.72 L590.17 560.05 L590.46 560.35 L590.75 560.65 L591.06 560.95 L591.43 561.26 L591.9 561.58 L592.51 561.93 L593.24 562.31 L594.07 562.7 L594.97 563.11 L595.94 563.53 L596.98 563.95 L598.07 564.38 L599.21 564.8 L600.38 565.22 L601.56 565.63 L602.75 566.04 L603.98 566.45 L605.26 566.86 L606.64 567.27 L608.12 567.68 L609.75 568.09 L611.54 568.5 L613.55 568.9 L615.75 569.3 L618.1 569.68 L620.57 570.07 L623.09 570.47 L625.63 570.89 L628.14 571.32 L630.57 571.79 L633 572.3 L635.47 572.85 L637.98 573.44 L640.47 574.04 L642.91 574.63 L645.27 575.2 L647.52 575.71 L649.61 576.16 L651.61 576.56 L653.58 576.92 L655.49 577.24 L657.29 577.53 L658.94 577.79 L660.41 578.01 L661.64 578.2 L662.6 578.36" fill="none" stroke="#1f5fad" stroke-width="3.2" stroke-linejoin="round" stroke-linecap="round"/>
<line x1="550.4" y1="619.6" x2="552.8" y2="619.6" stroke="#231f20" stroke-width="0.8"/>
<text x="549.2" y="621.6" font-size="5.6" font-weight="bold" text-anchor="end" fill="#231f20" letter-spacing="-0.25">0</text>
<line x1="550.4" y1="601.35" x2="552.8" y2="601.35" stroke="#231f20" stroke-width="0.8"/>
<text x="549.2" y="603.35" font-size="5.6" font-weight="bold" text-anchor="end" fill="#231f20" letter-spacing="-0.25">50</text>
<line x1="550.4" y1="583.1" x2="552.8" y2="583.1" stroke="#231f20" stroke-width="0.8"/>
<text x="549.2" y="585.1" font-size="5.6" font-weight="bold" text-anchor="end" fill="#231f20" letter-spacing="-0.25">100</text>
<line x1="550.4" y1="564.85" x2="552.8" y2="564.85" stroke="#231f20" stroke-width="0.8"/>
<text x="549.2" y="566.85" font-size="5.6" font-weight="bold" text-anchor="end" fill="#231f20" letter-spacing="-0.25">150</text>
<line x1="550.4" y1="546.6" x2="552.8" y2="546.6" stroke="#231f20" stroke-width="0.8"/>
<text x="549.2" y="548.6" font-size="5.6" font-weight="bold" text-anchor="end" fill="#231f20" letter-spacing="-0.25">200</text>
<line x1="552.8" y1="619.6" x2="552.8" y2="622" stroke="#231f20" stroke-width="0.8"/>
<text x="552.8" y="628.6" font-size="5.6" font-weight="bold" text-anchor="middle" fill="#231f20" letter-spacing="-0.25">0</text>
<line x1="589.4" y1="619.6" x2="589.4" y2="622" stroke="#231f20" stroke-width="0.8"/>
<text x="589.4" y="628.6" font-size="5.6" font-weight="bold" text-anchor="middle" fill="#231f20" letter-spacing="-0.25">200</text>
<line x1="626" y1="619.6" x2="626" y2="622" stroke="#231f20" stroke-width="0.8"/>
<text x="626" y="628.6" font-size="5.6" font-weight="bold" text-anchor="middle" fill="#231f20" letter-spacing="-0.25">400</text>
<line x1="662.6" y1="619.6" x2="662.6" y2="622" stroke="#231f20" stroke-width="0.8"/>
<text x="662.6" y="628.6" font-size="5.6" font-weight="bold" text-anchor="middle" fill="#231f20" letter-spacing="-0.25">600</text>
<line x1="552.8" y1="546.2" x2="552.8" y2="620" stroke="#231f20" stroke-width="1"/>
<line x1="552.4" y1="619.6" x2="662.6" y2="619.6" stroke="#231f20" stroke-width="1"/>
<text x="607.7" y="637" font-size="6" font-weight="bold" text-anchor="middle" fill="#231f20">Time(s)</text>
<text transform="translate(536.5 583.1) rotate(-90)" font-size="5.7" font-weight="bold" text-anchor="middle" fill="#231f20">ΔF/F<tspan font-size="4.0" dy="1.0">0</tspan><tspan dy="-1.0"> (%)</tspan></text>
<circle cx="568.6" cy="541.1" r="6.4" fill="#ebe53a" stroke="#3a3a3a" stroke-width="0.9"/>
<text x="568.6" y="544.48" font-size="9.4" font-weight="bold" text-anchor="middle" fill="#231f20">5</text>
<text x="578.8" y="544" font-size="8.1" font-weight="bold" fill="#231f20">pSYQ307+pLYL333</text>
<rect x="546.2" y="458.3" width="96.6" height="23.2" fill="#c6dfc2" stroke="none" stroke-width="1"/>
<text x="596.3" y="473.4" font-size="9.8" font-weight="bold" text-anchor="middle" fill="#231f20">HEK-293 (human)</text>
<text x="1" y="648.9" font-size="16.8" fill="#231f20">D</text>
<rect x="16.7" y="677.5" width="205.5" height="133.2" fill="#f5f4f0" stroke="none" stroke-width="1"/>
<defs><pattern id="pMem2" x="16.7" y="664.5" width="3.3" height="15" patternUnits="userSpaceOnUse"><rect width="3.3" height="15" fill="#ffffff"/><rect x="0" y="2.2" width="3.3" height="1.1" fill="#a9aaac"/><rect x="0" y="11.7" width="3.3" height="1.1" fill="#a9aaac"/><circle cx="1.65" cy="1.8" r="1.45" fill="#c4c5c7" stroke="#8f9092" stroke-width="0.5"/><circle cx="1.65" cy="13.2" r="1.45" fill="#c4c5c7" stroke="#8f9092" stroke-width="0.5"/><rect x="0.45" y="3.3" width="0.6" height="8.4" fill="#bcbdbf"/><rect x="2.25" y="3.3" width="0.6" height="8.4" fill="#bcbdbf"/></pattern></defs>
<rect x="16.7" y="664.5" width="205.6" height="15" fill="url(#pMem2)" stroke="none" stroke-width="1"/>
<rect x="155.3" y="662.5" width="9.6" height="18" fill="#ffffff" stroke="none" stroke-width="1"/>
<rect x="142.15" y="659.4" width="3.1" height="23" fill="#fbfbfb" stroke="#7d7e80" stroke-width="0.55" rx="1.5"/>
<line x1="143.1" y1="661.4" x2="143.1" y2="680.4" stroke="#d0d1d3" stroke-width="0.5"/>
<line x1="142.4" y1="662" x2="144.9" y2="662" stroke="#b5b6b8" stroke-width="0.35"/>
<rect x="148.35" y="661.3" width="3.1" height="21.8" fill="#fbfbfb" stroke="#7d7e80" stroke-width="0.55" rx="1.5"/>
<line x1="149.3" y1="663.3" x2="149.3" y2="681.1" stroke="#d0d1d3" stroke-width="0.5"/>
<line x1="148.6" y1="663.9" x2="151.1" y2="663.9" stroke="#b5b6b8" stroke-width="0.35"/>
<rect x="145.05" y="655.8" width="3.1" height="24" fill="#fbfbfb" stroke="#7d7e80" stroke-width="0.55" rx="1.5"/>
<line x1="146" y1="657.8" x2="146" y2="677.8" stroke="#d0d1d3" stroke-width="0.5"/>
<line x1="145.3" y1="658.4" x2="147.8" y2="658.4" stroke="#b5b6b8" stroke-width="0.35"/>
<rect x="151.65" y="657.7" width="3.1" height="22.7" fill="#fbfbfb" stroke="#7d7e80" stroke-width="0.55" rx="1.5"/>
<line x1="152.6" y1="659.7" x2="152.6" y2="678.4" stroke="#d0d1d3" stroke-width="0.5"/>
<line x1="151.9" y1="660.3" x2="154.4" y2="660.3" stroke="#b5b6b8" stroke-width="0.35"/>
<rect x="175.05" y="658.7" width="3.1" height="23.7" fill="#fbfbfb" stroke="#7d7e80" stroke-width="0.55" rx="1.5"/>
<line x1="176" y1="660.7" x2="176" y2="680.4" stroke="#d0d1d3" stroke-width="0.5"/>
<line x1="175.3" y1="661.3" x2="177.8" y2="661.3" stroke="#b5b6b8" stroke-width="0.35"/>
<rect x="168.45" y="661" width="3.1" height="21.4" fill="#fbfbfb" stroke="#7d7e80" stroke-width="0.55" rx="1.5"/>
<line x1="169.4" y1="663" x2="169.4" y2="680.4" stroke="#d0d1d3" stroke-width="0.5"/>
<line x1="168.7" y1="663.6" x2="171.2" y2="663.6" stroke="#b5b6b8" stroke-width="0.35"/>
<rect x="171.75" y="655.8" width="3.1" height="23.3" fill="#fbfbfb" stroke="#7d7e80" stroke-width="0.55" rx="1.5"/>
<line x1="172.7" y1="657.8" x2="172.7" y2="677.1" stroke="#d0d1d3" stroke-width="0.5"/>
<line x1="172" y1="658.4" x2="174.5" y2="658.4" stroke="#b5b6b8" stroke-width="0.35"/>
<rect x="165.15" y="657.7" width="3.1" height="24" fill="#fbfbfb" stroke="#7d7e80" stroke-width="0.55" rx="1.5"/>
<line x1="166.1" y1="659.7" x2="166.1" y2="679.7" stroke="#d0d1d3" stroke-width="0.5"/>
<line x1="165.4" y1="660.3" x2="167.9" y2="660.3" stroke="#b5b6b8" stroke-width="0.35"/>
<text x="21.1" y="692.2" font-size="8.9" font-weight="bold" fill="#231f20">Grazoprevir</text>
<circle cx="75.4" cy="686.9" r="1.5" fill="#1f9ad7" stroke="none" stroke-width="1"/>
<circle cx="76.3" cy="691.3" r="1.5" fill="#1f9ad7" stroke="none" stroke-width="1"/>
<circle cx="80.3" cy="690.5" r="1.5" fill="#1f9ad7" stroke="none" stroke-width="1"/>
<rect x="37.3" y="733.4" width="16.7" height="4.5" fill="#bfe0f4" stroke="none" stroke-width="1"/>
<circle cx="38.8" cy="733.5" r="2.2" fill="#6dbde9" stroke="none" stroke-width="1"/>
<circle cx="39.6" cy="736.1" r="1.9" fill="#d4eaf7" stroke="none" stroke-width="1"/>
<circle cx="38.3" cy="732.8" r="0.7" fill="#ffffff" stroke="none" stroke-width="1" fill-opacity="0.8"/>
<circle cx="42.2" cy="733.5" r="2.2" fill="#6dbde9" stroke="none" stroke-width="1"/>
<circle cx="43" cy="736.1" r="1.9" fill="#d4eaf7" stroke="none" stroke-width="1"/>
<circle cx="41.7" cy="732.8" r="0.7" fill="#ffffff" stroke="none" stroke-width="1" fill-opacity="0.8"/>
<circle cx="45.6" cy="733.5" r="2.2" fill="#6dbde9" stroke="none" stroke-width="1"/>
<circle cx="46.4" cy="736.1" r="1.9" fill="#d4eaf7" stroke="none" stroke-width="1"/>
<circle cx="45.1" cy="732.8" r="0.7" fill="#ffffff" stroke="none" stroke-width="1" fill-opacity="0.8"/>
<circle cx="49" cy="733.5" r="2.2" fill="#6dbde9" stroke="none" stroke-width="1"/>
<circle cx="49.8" cy="736.1" r="1.9" fill="#d4eaf7" stroke="none" stroke-width="1"/>
<circle cx="48.5" cy="732.8" r="0.7" fill="#ffffff" stroke="none" stroke-width="1" fill-opacity="0.8"/>
<circle cx="52.4" cy="733.5" r="2.2" fill="#6dbde9" stroke="none" stroke-width="1"/>
<circle cx="53.2" cy="736.1" r="1.9" fill="#d4eaf7" stroke="none" stroke-width="1"/>
<circle cx="51.9" cy="732.8" r="0.7" fill="#ffffff" stroke="none" stroke-width="1" fill-opacity="0.8"/>
<rect x="38.6" y="738.1" width="14.1" height="5.6" fill="url(#pYel)" stroke="none" stroke-width="1"/>
<rect x="38.6" y="743.7" width="14.1" height="11.6" fill="url(#pStripe)" stroke="none" stroke-width="1"/>
<path d="M68.2 709.6 C69 704 72 702 73.8 704 C75.2 705.5 74.5 707 73 708.5 C71.5 710 72 716 74 719" fill="none" stroke="#555" stroke-width="0.5"/>
<path d="M93.8 709.2 C93 703.5 90 702 88.2 704 C86.8 705.5 87.5 707 89 708.5 C90.5 710 90 716 88 719" fill="none" stroke="#555" stroke-width="0.5"/>
<circle cx="68.2" cy="709.6" r="0.95" fill="#e4343b" stroke="none" stroke-width="1"/>
<circle cx="94.1" cy="709.2" r="0.95" fill="#e4343b" stroke="none" stroke-width="1"/>
<path d="M74.4 719 L87.6 719 L91.5 725.8 L81.2 730 L71.1 725.8Z" fill="#ffffff" stroke="none" stroke-width="1"/>
<path d="M74.4 719 L87.2 719 L91.5 725.8 L81.2 730 L71.1 725.8Z" fill="none" stroke="#3f76ba" stroke-width="1.5" stroke-linejoin="round"/>
<path d="M71.1 725.8 L81.2 730 L91.5 725.8" fill="none" stroke="#2e62a8" stroke-width="2" stroke-linejoin="round"/>
<path d="M77.6 722.5 L75.2 711.3 L80.8 721.5 L87 711.3 L84.8 722.5" fill="none" stroke="#7659ad" stroke-width="2" stroke-linejoin="round"/>
<path d="M75.2 711.3 L80.8 721.5 L87 711.3" fill="none" stroke="#9a83c8" stroke-width="0.7" stroke-linejoin="round"/>
<rect x="77.8" y="732.2" width="1.6" height="4.8" fill="#e4e6b6" stroke="#8f9070" stroke-width="0.25"/>
<rect x="82.7" y="732.2" width="1.6" height="4.8" fill="#e4e6b6" stroke="#8f9070" stroke-width="0.25"/>
<rect x="77.7" y="736.6" width="1.8" height="0.8" fill="#333" stroke="none" stroke-width="1"/>
<rect x="82.6" y="736.6" width="1.8" height="0.8" fill="#333" stroke="none" stroke-width="1"/>
<rect x="76.7" y="738.6" width="10" height="3.3" fill="#c6e0f3" stroke="#7aa9cf" stroke-width="0.35"/>
<circle cx="93.4" cy="741.2" r="1.5" fill="#1f9ad7" stroke="none" stroke-width="1"/>
<circle cx="92.9" cy="746" r="1.5" fill="#1f9ad7" stroke="none" stroke-width="1"/>
<circle cx="97.4" cy="745.2" r="1.5" fill="#1f9ad7" stroke="none" stroke-width="1"/>
<path d="M114.2 715 C110.2 706 112.7 689.1 126.9 689.1 C141.1 689.1 143.6 706 139.6 715 M117.1 712.8 C113.1 703.8 115.6 691.7 126.9 691.7 C138.2 691.7 140.7 703.8 136.7 712.8 M120 710.6 C116 701.6 118.5 694.3 126.9 694.3 C135.3 694.3 137.8 701.6 133.8 710.6" fill="none" stroke="#8e8e90" stroke-width="2.3" stroke-linecap="round"/>
<path d="M114.2 715 C110.2 706 112.7 689.1 126.9 689.1 C141.1 689.1 143.6 706 139.6 715 M117.1 712.8 C113.1 703.8 115.6 691.7 126.9 691.7 C138.2 691.7 140.7 703.8 136.7 712.8 M120 710.6 C116 701.6 118.5 694.3 126.9 694.3 C135.3 694.3 137.8 701.6 133.8 710.6" fill="none" stroke="#fbfbfa" stroke-width="1.3" stroke-linecap="round"/>
<path d="M117.05 701.4L136.75 701.4L134.2 712.3L119.6 712.3Z" fill="url(#gPurp)" stroke="none" stroke-width="1"/>
<path d="M116.99 703.4L120.39 703.4L118.99 699.2Z" fill="url(#gPurp)" stroke="none" stroke-width="1"/>
<path d="M120.27 703.4L123.67 703.4L122.27 700.4Z" fill="url(#gPurp)" stroke="none" stroke-width="1"/>
<path d="M123.56 703.4L126.96 703.4L125.56 699.2Z" fill="url(#gPurp)" stroke="none" stroke-width="1"/>
<path d="M126.84 703.4L130.24 703.4L128.84 700.4Z" fill="url(#gPurp)" stroke="none" stroke-width="1"/>
<path d="M130.13 703.4L133.53 703.4L132.13 699.2Z" fill="url(#gPurp)" stroke="none" stroke-width="1"/>
<path d="M133.41 703.4L136.81 703.4L135.41 700.4Z" fill="url(#gPurp)" stroke="none" stroke-width="1"/>
<line x1="118.56" y1="702.4" x2="122.56" y2="711.8" stroke="#b7a6da" stroke-width="0.5" stroke-opacity="0.6"/>
<line x1="121.48" y1="702.4" x2="125.48" y2="711.8" stroke="#b7a6da" stroke-width="0.5" stroke-opacity="0.6"/>
<line x1="124.4" y1="702.4" x2="128.4" y2="711.8" stroke="#b7a6da" stroke-width="0.5" stroke-opacity="0.6"/>
<line x1="127.32" y1="702.4" x2="131.32" y2="711.8" stroke="#b7a6da" stroke-width="0.5" stroke-opacity="0.6"/>
<line x1="130.24" y1="702.4" x2="134.24" y2="711.8" stroke="#b7a6da" stroke-width="0.5" stroke-opacity="0.6"/>
<rect x="119.6" y="712.3" width="14.6" height="24.9" fill="url(#gBlueA)" stroke="none" stroke-width="1"/>
<line x1="122.52" y1="712.3" x2="122.52" y2="737.2" stroke="#ffffff" stroke-width="0.6" stroke-opacity="0.7"/>
<line x1="125.44" y1="712.3" x2="125.44" y2="737.2" stroke="#ffffff" stroke-width="0.6" stroke-opacity="0.7"/>
<line x1="128.36" y1="712.3" x2="128.36" y2="737.2" stroke="#ffffff" stroke-width="0.6" stroke-opacity="0.7"/>
<line x1="131.28" y1="712.3" x2="131.28" y2="737.2" stroke="#ffffff" stroke-width="0.6" stroke-opacity="0.7"/>
<rect x="119.9" y="737.2" width="14" height="3.6" fill="url(#pYel)" stroke="none" stroke-width="1"/>
<rect x="118.28" y="741.6" width="17.25" height="7.1" fill="#a9d5f0" stroke="none" stroke-width="1"/>
<circle cx="119.3" cy="743.63" r="2.7" fill="#4fb0e4" stroke="none" stroke-width="1"/>
<circle cx="119.9" cy="747.11" r="2.39" fill="#cfe6f5" stroke="none" stroke-width="1"/>
<circle cx="118.9" cy="742.76" r="0.96" fill="#ffffff" stroke="none" stroke-width="1" fill-opacity="0.7"/>
<circle cx="122.34" cy="743.63" r="2.7" fill="#4fb0e4" stroke="none" stroke-width="1"/>
<circle cx="122.94" cy="747.11" r="2.39" fill="#cfe6f5" stroke="none" stroke-width="1"/>
<circle cx="121.94" cy="742.76" r="0.96" fill="#ffffff" stroke="none" stroke-width="1" fill-opacity="0.7"/>
<circle cx="125.38" cy="743.63" r="2.7" fill="#4fb0e4" stroke="none" stroke-width="1"/>
<circle cx="125.98" cy="747.11" r="2.39" fill="#cfe6f5" stroke="none" stroke-width="1"/>
<circle cx="124.98" cy="742.76" r="0.96" fill="#ffffff" stroke="none" stroke-width="1" fill-opacity="0.7"/>
<circle cx="128.42" cy="743.63" r="2.7" fill="#4fb0e4" stroke="none" stroke-width="1"/>
<circle cx="129.02" cy="747.11" r="2.39" fill="#cfe6f5" stroke="none" stroke-width="1"/>
<circle cx="128.02" cy="742.76" r="0.96" fill="#ffffff" stroke="none" stroke-width="1" fill-opacity="0.7"/>
<circle cx="131.46" cy="743.63" r="2.7" fill="#4fb0e4" stroke="none" stroke-width="1"/>
<circle cx="132.06" cy="747.11" r="2.39" fill="#cfe6f5" stroke="none" stroke-width="1"/>
<circle cx="131.06" cy="742.76" r="0.96" fill="#ffffff" stroke="none" stroke-width="1" fill-opacity="0.7"/>
<circle cx="134.5" cy="743.63" r="2.7" fill="#4fb0e4" stroke="none" stroke-width="1"/>
<circle cx="135.1" cy="747.11" r="2.39" fill="#cfe6f5" stroke="none" stroke-width="1"/>
<circle cx="134.1" cy="742.76" r="0.96" fill="#ffffff" stroke="none" stroke-width="1" fill-opacity="0.7"/>
<rect x="119.9" y="749.5" width="14" height="4.5" fill="url(#pYel)" stroke="none" stroke-width="1"/>
<rect x="120.33" y="754" width="13.14" height="13.1" fill="url(#pStripe)" stroke="none" stroke-width="1"/>
<line x1="120.33" y1="767.1" x2="133.47" y2="767.1" stroke="#7fae82" stroke-width="0.6"/>
<path d="M148.7 707.7 C144.7 698.7 147.2 683.2 161.4 683.2 C175.6 683.2 178.1 698.7 174.1 707.7 M151.6 705.5 C147.6 696.5 150.1 685.8 161.4 685.8 C172.7 685.8 175.2 696.5 171.2 705.5 M154.5 703.3 C150.5 694.3 153 688.4 161.4 688.4 C169.8 688.4 172.3 694.3 168.3 703.3" fill="none" stroke="#8e8e90" stroke-width="2.3" stroke-linecap="round"/>
<path d="M148.7 707.7 C144.7 698.7 147.2 683.2 161.4 683.2 C175.6 683.2 178.1 698.7 174.1 707.7 M151.6 705.5 C147.6 696.5 150.1 685.8 161.4 685.8 C172.7 685.8 175.2 696.5 171.2 705.5 M154.5 703.3 C150.5 694.3 153 688.4 161.4 688.4 C169.8 688.4 172.3 694.3 168.3 703.3" fill="none" stroke="#fbfbfa" stroke-width="1.3" stroke-linecap="round"/>
<path d="M151.07 694.1L171.73 694.1L169.05 705.8L153.75 705.8Z" fill="url(#gPurpB)" stroke="none" stroke-width="1"/>
<path d="M151.09 696.1L154.49 696.1L153.09 691.9Z" fill="url(#gPurpB)" stroke="none" stroke-width="1"/>
<path d="M154.54 696.1L157.94 696.1L156.54 693.1Z" fill="url(#gPurpB)" stroke="none" stroke-width="1"/>
<path d="M157.98 696.1L161.38 696.1L159.98 691.9Z" fill="url(#gPurpB)" stroke="none" stroke-width="1"/>
<path d="M161.42 696.1L164.82 696.1L163.42 693.1Z" fill="url(#gPurpB)" stroke="none" stroke-width="1"/>
<path d="M164.86 696.1L168.26 696.1L166.86 691.9Z" fill="url(#gPurpB)" stroke="none" stroke-width="1"/>
<path d="M168.31 696.1L171.71 696.1L170.31 693.1Z" fill="url(#gPurpB)" stroke="none" stroke-width="1"/>
<line x1="152.78" y1="695.1" x2="156.78" y2="705.3" stroke="#b7a6da" stroke-width="0.5" stroke-opacity="0.6"/>
<line x1="155.84" y1="695.1" x2="159.84" y2="705.3" stroke="#b7a6da" stroke-width="0.5" stroke-opacity="0.6"/>
<line x1="158.9" y1="695.1" x2="162.9" y2="705.3" stroke="#b7a6da" stroke-width="0.5" stroke-opacity="0.6"/>
<line x1="161.96" y1="695.1" x2="165.96" y2="705.3" stroke="#b7a6da" stroke-width="0.5" stroke-opacity="0.6"/>
<line x1="165.02" y1="695.1" x2="169.02" y2="705.3" stroke="#b7a6da" stroke-width="0.5" stroke-opacity="0.6"/>
<rect x="153.75" y="705.8" width="15.3" height="24.1" fill="url(#gBlueB)" stroke="none" stroke-width="1"/>
<line x1="156.81" y1="705.8" x2="156.81" y2="729.9" stroke="#ffffff" stroke-width="0.6" stroke-opacity="0.7"/>
<line x1="159.87" y1="705.8" x2="159.87" y2="729.9" stroke="#ffffff" stroke-width="0.6" stroke-opacity="0.7"/>
<line x1="162.93" y1="705.8" x2="162.93" y2="729.9" stroke="#ffffff" stroke-width="0.6" stroke-opacity="0.7"/>
<line x1="165.99" y1="705.8" x2="165.99" y2="729.9" stroke="#ffffff" stroke-width="0.6" stroke-opacity="0.7"/>
<rect x="154.05" y="729.9" width="14.7" height="4.3" fill="url(#pYel)" stroke="none" stroke-width="1"/>
<rect x="152.34" y="735" width="18.12" height="6.5" fill="#a9d5f0" stroke="none" stroke-width="1"/>
<circle cx="153.43" cy="736.83" r="2.51" fill="#4fb0e4" stroke="none" stroke-width="1"/>
<circle cx="154.03" cy="740.07" r="2.23" fill="#cfe6f5" stroke="none" stroke-width="1"/>
<circle cx="153.03" cy="736.02" r="0.89" fill="#ffffff" stroke="none" stroke-width="1" fill-opacity="0.7"/>
<circle cx="156.62" cy="736.83" r="2.51" fill="#4fb0e4" stroke="none" stroke-width="1"/>
<circle cx="157.22" cy="740.07" r="2.23" fill="#cfe6f5" stroke="none" stroke-width="1"/>
<circle cx="156.22" cy="736.02" r="0.89" fill="#ffffff" stroke="none" stroke-width="1" fill-opacity="0.7"/>
<circle cx="159.81" cy="736.83" r="2.51" fill="#4fb0e4" stroke="none" stroke-width="1"/>
<circle cx="160.41" cy="740.07" r="2.23" fill="#cfe6f5" stroke="none" stroke-width="1"/>
<circle cx="159.41" cy="736.02" r="0.89" fill="#ffffff" stroke="none" stroke-width="1" fill-opacity="0.7"/>
<circle cx="162.99" cy="736.83" r="2.51" fill="#4fb0e4" stroke="none" stroke-width="1"/>
<circle cx="163.59" cy="740.07" r="2.23" fill="#cfe6f5" stroke="none" stroke-width="1"/>
<circle cx="162.59" cy="736.02" r="0.89" fill="#ffffff" stroke="none" stroke-width="1" fill-opacity="0.7"/>
<circle cx="166.18" cy="736.83" r="2.51" fill="#4fb0e4" stroke="none" stroke-width="1"/>
<circle cx="166.78" cy="740.07" r="2.23" fill="#cfe6f5" stroke="none" stroke-width="1"/>
<circle cx="165.78" cy="736.02" r="0.89" fill="#ffffff" stroke="none" stroke-width="1" fill-opacity="0.7"/>
<circle cx="169.37" cy="736.83" r="2.51" fill="#4fb0e4" stroke="none" stroke-width="1"/>
<circle cx="169.97" cy="740.07" r="2.23" fill="#cfe6f5" stroke="none" stroke-width="1"/>
<circle cx="168.97" cy="736.02" r="0.89" fill="#ffffff" stroke="none" stroke-width="1" fill-opacity="0.7"/>
<rect x="154.05" y="742.3" width="14.7" height="5.1" fill="url(#pYel)" stroke="none" stroke-width="1"/>
<rect x="154.51" y="747.4" width="13.77" height="12.4" fill="url(#pStripe)" stroke="none" stroke-width="1"/>
<line x1="154.51" y1="759.8" x2="168.28" y2="759.8" stroke="#7fae82" stroke-width="0.6"/>
<circle cx="115.2" cy="689.8" r="0.65" fill="#d6393f" stroke="none" stroke-width="1"/>
<circle cx="118.2" cy="690.6" r="0.65" fill="#d6393f" stroke="none" stroke-width="1"/>
<circle cx="121.2" cy="689.8" r="0.65" fill="#d6393f" stroke="none" stroke-width="1"/>
<circle cx="124.2" cy="690.6" r="0.65" fill="#d6393f" stroke="none" stroke-width="1"/>
<circle cx="127.2" cy="689.8" r="0.65" fill="#d6393f" stroke="none" stroke-width="1"/>
<circle cx="130.2" cy="690.6" r="0.65" fill="#d6393f" stroke="none" stroke-width="1"/>
<circle cx="133.2" cy="689.8" r="0.65" fill="#d6393f" stroke="none" stroke-width="1"/>
<circle cx="136.2" cy="690.6" r="0.65" fill="#d6393f" stroke="none" stroke-width="1"/>
<circle cx="139.2" cy="689.8" r="0.65" fill="#d6393f" stroke="none" stroke-width="1"/>
<circle cx="149.7" cy="684" r="0.65" fill="#d6393f" stroke="none" stroke-width="1"/>
<circle cx="152.7" cy="684.8" r="0.65" fill="#d6393f" stroke="none" stroke-width="1"/>
<circle cx="155.7" cy="684" r="0.65" fill="#d6393f" stroke="none" stroke-width="1"/>
<circle cx="158.7" cy="684.8" r="0.65" fill="#d6393f" stroke="none" stroke-width="1"/>
<circle cx="161.7" cy="684" r="0.65" fill="#d6393f" stroke="none" stroke-width="1"/>
<circle cx="164.7" cy="684.8" r="0.65" fill="#d6393f" stroke="none" stroke-width="1"/>
<circle cx="167.7" cy="684" r="0.65" fill="#d6393f" stroke="none" stroke-width="1"/>
<circle cx="170.7" cy="684.8" r="0.65" fill="#d6393f" stroke="none" stroke-width="1"/>
<circle cx="173.7" cy="684" r="0.65" fill="#d6393f" stroke="none" stroke-width="1"/>
<path d="M82.9 755.7L111 743.3" fill="none" stroke="#231f20" stroke-width="1" marker-end="url(#ah)"/>
<path d="M137 735L149.4 729.4" fill="none" stroke="#231f20" stroke-width="1" marker-end="url(#ah)"/>
<circle cx="144.2" cy="643.4" r="1.55" fill="#e4343b" stroke="none" stroke-width="1"/>
<circle cx="144.2" cy="643.4" r="0.62" fill="#ffffff" stroke="none" stroke-width="1" fill-opacity="0.85"/>
<circle cx="157.7" cy="642.8" r="1.55" fill="#e4343b" stroke="none" stroke-width="1"/>
<circle cx="157.7" cy="642.8" r="0.62" fill="#ffffff" stroke="none" stroke-width="1" fill-opacity="0.85"/>
<circle cx="170.2" cy="643.8" r="1.55" fill="#e4343b" stroke="none" stroke-width="1"/>
<circle cx="170.2" cy="643.8" r="0.62" fill="#ffffff" stroke="none" stroke-width="1" fill-opacity="0.85"/>
<circle cx="151.8" cy="652" r="1.55" fill="#e4343b" stroke="none" stroke-width="1"/>
<circle cx="151.8" cy="652" r="0.62" fill="#ffffff" stroke="none" stroke-width="1" fill-opacity="0.85"/>
<circle cx="163" cy="652" r="1.55" fill="#e4343b" stroke="none" stroke-width="1"/>
<circle cx="163" cy="652" r="0.62" fill="#ffffff" stroke="none" stroke-width="1" fill-opacity="0.85"/>
<circle cx="158.2" cy="662.4" r="1.55" fill="#e4343b" stroke="none" stroke-width="1"/>
<circle cx="158.2" cy="662.4" r="0.62" fill="#ffffff" stroke="none" stroke-width="1" fill-opacity="0.85"/>
<circle cx="162.3" cy="669.6" r="1.55" fill="#e4343b" stroke="none" stroke-width="1"/>
<circle cx="162.3" cy="669.6" r="0.62" fill="#ffffff" stroke="none" stroke-width="1" fill-opacity="0.85"/>
<circle cx="158.2" cy="673.2" r="1.55" fill="#e4343b" stroke="none" stroke-width="1"/>
<circle cx="158.2" cy="673.2" r="0.62" fill="#ffffff" stroke="none" stroke-width="1" fill-opacity="0.85"/>
<circle cx="159.1" cy="691.8" r="1.55" fill="#e4343b" stroke="none" stroke-width="1"/>
<circle cx="159.1" cy="691.8" r="0.62" fill="#ffffff" stroke="none" stroke-width="1" fill-opacity="0.85"/>
<circle cx="153" cy="699" r="1.55" fill="#e4343b" stroke="none" stroke-width="1"/>
<circle cx="153" cy="699" r="0.62" fill="#ffffff" stroke="none" stroke-width="1" fill-opacity="0.85"/>
<circle cx="159.3" cy="699.1" r="1.55" fill="#e4343b" stroke="none" stroke-width="1"/>
<circle cx="159.3" cy="699.1" r="0.62" fill="#ffffff" stroke="none" stroke-width="1" fill-opacity="0.85"/>
<circle cx="164.5" cy="700.2" r="1.55" fill="#e4343b" stroke="none" stroke-width="1"/>
<circle cx="164.5" cy="700.2" r="0.62" fill="#ffffff" stroke="none" stroke-width="1" fill-opacity="0.85"/>
<circle cx="178.9" cy="701" r="1.55" fill="#e4343b" stroke="none" stroke-width="1"/>
<circle cx="178.9" cy="701" r="0.62" fill="#ffffff" stroke="none" stroke-width="1" fill-opacity="0.85"/>
<circle cx="171.3" cy="710.2" r="1.55" fill="#e4343b" stroke="none" stroke-width="1"/>
<circle cx="171.3" cy="710.2" r="0.62" fill="#ffffff" stroke="none" stroke-width="1" fill-opacity="0.85"/>
<circle cx="178.2" cy="719" r="1.55" fill="#e4343b" stroke="none" stroke-width="1"/>
<circle cx="178.2" cy="719" r="0.62" fill="#ffffff" stroke="none" stroke-width="1" fill-opacity="0.85"/>
<circle cx="179.5" cy="735.8" r="1.55" fill="#e4343b" stroke="none" stroke-width="1"/>
<circle cx="179.5" cy="735.8" r="0.62" fill="#ffffff" stroke="none" stroke-width="1" fill-opacity="0.85"/>
<ellipse cx="90.3" cy="784.8" rx="61.1" ry="18.8" fill="#ecebe8" stroke="#555658" stroke-width="3.8" stroke-dasharray="10 12.2" stroke-dashoffset="16" stroke-linecap="round"/>
<ellipse cx="90.3" cy="784.8" rx="61.1" ry="18.8" fill="none" stroke="#8c8d8f" stroke-width="2.3" stroke-dasharray="10 12.2" stroke-dashoffset="16" stroke-linecap="round"/>
<line x1="45.2" y1="782.5" x2="105" y2="782.5" stroke="#231f20" stroke-width="0.8"/>
<path d="M49.1 782.5V777.9H55.8" fill="none" stroke="#231f20" stroke-width="0.75"/>
<path d="M59.6 777.9L54 775.7L54 780.1Z" fill="#231f20" stroke="none" stroke-width="1"/>
<rect x="63.8" y="772.5" width="38.7" height="9.9" fill="#8fd0e8" stroke="#2d2d2d" stroke-width="0.7"/>
<text x="83.15" y="780.33" font-size="8" font-weight="bold" text-anchor="middle" fill="#231f20">StimExo</text>
<line x1="69.3" y1="797.8" x2="132.8" y2="797.8" stroke="#231f20" stroke-width="0.8"/>
<path d="M93.8 797.8V793.2H100" fill="none" stroke="#231f20" stroke-width="0.75"/>
<path d="M103.8 793.2L98.2 791L98.2 795.4Z" fill="#231f20" stroke="none" stroke-width="1"/>
<rect x="106.1" y="787.4" width="25.6" height="10.3" fill="#72bd7f" stroke="#2d2d2d" stroke-width="0.7"/>
<text x="118.9" y="795.57" font-size="8.4" font-weight="bold" text-anchor="middle" fill="#231f20">SEAP</text>
<ellipse cx="79.1" cy="790.7" rx="10.2" ry="5" fill="#f4b183" stroke="#2d2d2d" stroke-width="0.7"/>
<text x="79.1" y="792.9" font-size="6.2" font-weight="bold" text-anchor="middle" fill="#231f20">NFAT</text>
<path d="M71.3 772.5V741.2" fill="none" stroke="#231f20" stroke-width="1" marker-end="url(#ah)"/>
<path d="M71.3 759 C71.3 753 67 751 63.5 748.5" fill="none" stroke="#231f20" stroke-width="1" marker-end="url(#ah)"/>
<path d="M177.6 763.3 C150 764 128 769 116.6 783.2" fill="none" stroke="#231f20" stroke-width="0.9" marker-end="url(#ah)"/>
<path d="M133.5 797.6 C145 806 160 803 172 796.3" fill="none" stroke="#231f20" stroke-width="0.8" marker-end="url(#ah)"/>
<ellipse cx="198" cy="709.8" rx="10.5" ry="6" fill="#f4b183" stroke="#2d2d2d" stroke-width="0.7"/>
<text x="198" y="712" font-size="6.2" font-weight="bold" text-anchor="middle" fill="#231f20">NFAT</text>
<circle cx="208.3" cy="703.2" r="3" fill="#3a3a3c" stroke="#ffffff" stroke-width="0.5"/>
<text x="208.3" y="705.1" font-size="5" font-weight="bold" text-anchor="middle" fill="#ffffff">P</text>
<path d="M204.1 719.7 C214 728 214 745 198.4 753.8" fill="none" stroke="#231f20" stroke-width="1" marker-end="url(#ah)"/>
<ellipse cx="188.5" cy="762.5" rx="10.5" ry="6.1" fill="#f4b183" stroke="#2d2d2d" stroke-width="0.7"/>
<text x="188.5" y="764.7" font-size="6.2" font-weight="bold" text-anchor="middle" fill="#231f20">NFAT</text>
<text x="183" y="744.1" font-size="9" font-weight="bold" fill="#e2262e">Ca<tspan font-size="5.4" dy="-3.4">2+</tspan></text>
<circle cx="193.4" cy="729.1" r="1.55" fill="#e4343b" stroke="none" stroke-width="1"/>
<circle cx="193.4" cy="729.1" r="0.62" fill="#ffffff" stroke="none" stroke-width="1" fill-opacity="0.85"/>
<circle cx="214.4" cy="732.7" r="1.55" fill="#e4343b" stroke="none" stroke-width="1"/>
<circle cx="214.4" cy="732.7" r="0.62" fill="#ffffff" stroke="none" stroke-width="1" fill-opacity="0.85"/>
<circle cx="215.3" cy="746.7" r="1.55" fill="#e4343b" stroke="none" stroke-width="1"/>
<circle cx="215.3" cy="746.7" r="0.62" fill="#ffffff" stroke="none" stroke-width="1" fill-opacity="0.85"/>
<circle cx="210.5" cy="759" r="1.55" fill="#e4343b" stroke="none" stroke-width="1"/>
<circle cx="210.5" cy="759" r="0.62" fill="#ffffff" stroke="none" stroke-width="1" fill-opacity="0.85"/>
<ellipse cx="188" cy="785.3" rx="4.1" ry="2.6" fill="#88c988" stroke="#62a865" stroke-width="0.4"/>
<ellipse cx="200" cy="780.8" rx="4.1" ry="2.6" fill="#88c988" stroke="#62a865" stroke-width="0.4"/>
<ellipse cx="198.7" cy="790.4" rx="4.1" ry="2.6" fill="#88c988" stroke="#62a865" stroke-width="0.4"/>
<ellipse cx="187" cy="795" rx="4.1" ry="2.6" fill="#88c988" stroke="#62a865" stroke-width="0.4"/>
<line x1="258.3" y1="782.4" x2="261.9" y2="782.4" stroke="#231f20" stroke-width="1"/>
<text x="257.3" y="785.2" font-size="7.8" font-weight="bold" text-anchor="end" fill="#231f20">0</text>
<line x1="258.3" y1="760.67" x2="261.9" y2="760.67" stroke="#231f20" stroke-width="1"/>
<text x="257.3" y="763.47" font-size="7.8" font-weight="bold" text-anchor="end" fill="#231f20">10</text>
<line x1="258.3" y1="738.95" x2="261.9" y2="738.95" stroke="#231f20" stroke-width="1"/>
<text x="257.3" y="741.75" font-size="7.8" font-weight="bold" text-anchor="end" fill="#231f20">20</text>
<line x1="258.3" y1="717.22" x2="261.9" y2="717.22" stroke="#231f20" stroke-width="1"/>
<text x="257.3" y="720.02" font-size="7.8" font-weight="bold" text-anchor="end" fill="#231f20">30</text>
<line x1="258.3" y1="695.5" x2="261.9" y2="695.5" stroke="#231f20" stroke-width="1"/>
<text x="257.3" y="698.3" font-size="7.8" font-weight="bold" text-anchor="end" fill="#231f20">40</text>
<line x1="271.7" y1="782.4" x2="271.7" y2="786" stroke="#231f20" stroke-width="1"/>
<text transform="translate(274.3 791) rotate(-45)" font-size="7.0" font-weight="bold" text-anchor="end" fill="#231f20">0</text>
<line x1="287.41" y1="782.4" x2="287.41" y2="786" stroke="#231f20" stroke-width="1"/>
<text transform="translate(290.01 791) rotate(-45)" font-size="7.0" font-weight="bold" text-anchor="end" fill="#231f20">0.00001</text>
<line x1="303.12" y1="782.4" x2="303.12" y2="786" stroke="#231f20" stroke-width="1"/>
<text transform="translate(305.72 791) rotate(-45)" font-size="7.0" font-weight="bold" text-anchor="end" fill="#231f20">0.0001</text>
<line x1="318.83" y1="782.4" x2="318.83" y2="786" stroke="#231f20" stroke-width="1"/>
<text transform="translate(321.43 791) rotate(-45)" font-size="7.0" font-weight="bold" text-anchor="end" fill="#231f20">0.001</text>
<line x1="334.54" y1="782.4" x2="334.54" y2="786" stroke="#231f20" stroke-width="1"/>
<text transform="translate(337.14 791) rotate(-45)" font-size="7.0" font-weight="bold" text-anchor="end" fill="#231f20">0.01</text>
<line x1="350.25" y1="782.4" x2="350.25" y2="786" stroke="#231f20" stroke-width="1"/>
<text transform="translate(352.85 791) rotate(-45)" font-size="7.0" font-weight="bold" text-anchor="end" fill="#231f20">0.1</text>
<line x1="365.96" y1="782.4" x2="365.96" y2="786" stroke="#231f20" stroke-width="1"/>
<text transform="translate(368.56 791) rotate(-45)" font-size="7.0" font-weight="bold" text-anchor="end" fill="#231f20">1</text>
<line x1="381.67" y1="782.4" x2="381.67" y2="786" stroke="#231f20" stroke-width="1"/>
<text transform="translate(384.27 791) rotate(-45)" font-size="7.0" font-weight="bold" text-anchor="end" fill="#231f20">10</text>
<line x1="261.9" y1="695" x2="261.9" y2="782.9" stroke="#231f20" stroke-width="1.1"/>
<line x1="261.4" y1="782.4" x2="390.3" y2="782.4" stroke="#231f20" stroke-width="1.1"/>
<path d="M271.7 781.53 L287.41 781.53 L303.12 780.23 L318.83 777.84 L334.54 774.14 L350.25 773.28 L365.96 773.93 L381.67 774.58" fill="none" stroke="#4cc2ee" stroke-width="1.3"/>
<path d="M271.7 781.31 L287.41 781.31 L303.12 778.71 L318.83 754.59 L334.54 750.25 L350.25 748.94 L365.96 748.07 L381.67 719.4" fill="none" stroke="#2b7cc4" stroke-width="1.3"/>
<circle cx="271.7" cy="781.53" r="2.1" fill="#4cc2ee" stroke="none" stroke-width="1"/>
<circle cx="287.41" cy="781.53" r="2.1" fill="#4cc2ee" stroke="none" stroke-width="1"/>
<circle cx="303.12" cy="780.23" r="2.1" fill="#4cc2ee" stroke="none" stroke-width="1"/>
<circle cx="318.83" cy="777.84" r="2.1" fill="#4cc2ee" stroke="none" stroke-width="1"/>
<circle cx="334.54" cy="774.14" r="2.1" fill="#4cc2ee" stroke="none" stroke-width="1"/>
<circle cx="350.25" cy="773.28" r="2.1" fill="#4cc2ee" stroke="none" stroke-width="1"/>
<circle cx="365.96" cy="773.93" r="2.1" fill="#4cc2ee" stroke="none" stroke-width="1"/>
<circle cx="381.67" cy="774.58" r="2.1" fill="#4cc2ee" stroke="none" stroke-width="1"/>
<circle cx="271.7" cy="781.31" r="2.1" fill="#2b7cc4" stroke="none" stroke-width="1"/>
<circle cx="287.41" cy="781.31" r="2.1" fill="#2b7cc4" stroke="none" stroke-width="1"/>
<circle cx="303.12" cy="778.71" r="2.1" fill="#2b7cc4" stroke="none" stroke-width="1"/>
<circle cx="318.83" cy="754.59" r="2.1" fill="#2b7cc4" stroke="none" stroke-width="1"/>
<line x1="318.83" y1="751.99" x2="318.83" y2="757.2" stroke="#2b7cc4" stroke-width="0.9"/>
<line x1="317.03" y1="751.99" x2="320.63" y2="751.99" stroke="#2b7cc4" stroke-width="0.9"/>
<line x1="317.03" y1="757.2" x2="320.63" y2="757.2" stroke="#2b7cc4" stroke-width="0.9"/>
<circle cx="334.54" cy="750.25" r="2.1" fill="#2b7cc4" stroke="none" stroke-width="1"/>
<line x1="334.54" y1="746.34" x2="334.54" y2="754.16" stroke="#2b7cc4" stroke-width="0.9"/>
<line x1="332.74" y1="746.34" x2="336.34" y2="746.34" stroke="#2b7cc4" stroke-width="0.9"/>
<line x1="332.74" y1="754.16" x2="336.34" y2="754.16" stroke="#2b7cc4" stroke-width="0.9"/>
<circle cx="350.25" cy="748.94" r="2.1" fill="#2b7cc4" stroke="none" stroke-width="1"/>
<line x1="350.25" y1="747.86" x2="350.25" y2="750.03" stroke="#2b7cc4" stroke-width="0.9"/>
<line x1="348.45" y1="747.86" x2="352.05" y2="747.86" stroke="#2b7cc4" stroke-width="0.9"/>
<line x1="348.45" y1="750.03" x2="352.05" y2="750.03" stroke="#2b7cc4" stroke-width="0.9"/>
<circle cx="365.96" cy="748.07" r="2.1" fill="#2b7cc4" stroke="none" stroke-width="1"/>
<line x1="365.96" y1="747.21" x2="365.96" y2="748.94" stroke="#2b7cc4" stroke-width="0.9"/>
<line x1="364.16" y1="747.21" x2="367.76" y2="747.21" stroke="#2b7cc4" stroke-width="0.9"/>
<line x1="364.16" y1="748.94" x2="367.76" y2="748.94" stroke="#2b7cc4" stroke-width="0.9"/>
<circle cx="381.67" cy="719.4" r="2.1" fill="#2b7cc4" stroke="none" stroke-width="1"/>
<line x1="381.67" y1="717.66" x2="381.67" y2="721.14" stroke="#2b7cc4" stroke-width="0.9"/>
<line x1="379.87" y1="717.66" x2="383.47" y2="717.66" stroke="#2b7cc4" stroke-width="0.9"/>
<line x1="379.87" y1="721.14" x2="383.47" y2="721.14" stroke="#2b7cc4" stroke-width="0.9"/>
<line x1="275.9" y1="699.5" x2="285.2" y2="699.5" stroke="#4cc2ee" stroke-width="1.3"/>
<circle cx="280.5" cy="699.5" r="2.1" fill="#4cc2ee" stroke="none" stroke-width="1"/>
<text x="290.4" y="702.4" font-size="7.8" fill="#3a3a3a">6h</text>
<line x1="275.9" y1="711.9" x2="285.2" y2="711.9" stroke="#2b7cc4" stroke-width="1.3"/>
<circle cx="280.5" cy="711.9" r="2.1" fill="#2b7cc4" stroke="none" stroke-width="1"/>
<text x="290.4" y="714.8" font-size="7.8" fill="#3a3a3a">24h</text>
<text transform="translate(242.8 739.3) rotate(-90)" font-size="7.6" font-weight="bold" text-anchor="middle" fill="#231f20">SEAP (U/L)</text>
<text x="326.9" y="818" font-size="7.1" font-weight="bold" text-anchor="middle" fill="#231f20">Grazoprevir (μM)</text>
<text x="393.5" y="666.4" font-size="16.8" fill="#231f20">E</text>
<rect x="436" y="669.3" width="86.5" height="23.4" fill="#c6dfc2" stroke="none" stroke-width="1"/>
<text x="479.6" y="684.4" font-size="9.8" font-weight="bold" text-anchor="middle" fill="#231f20">N2A (mouse)</text>
<rect x="558.6" y="669.3" width="116.5" height="23.4" fill="#c6dfc2" stroke="none" stroke-width="1"/>
<text x="617.1" y="684.4" font-size="9.8" font-weight="bold" text-anchor="middle" fill="#231f20">CHO (Chinese hamster)</text>
<line x1="415.6" y1="780.7" x2="530.6" y2="780.7" stroke="#c8c8c8" stroke-width="0.6"/>
<path d="M415.6 780.7 L417.58 780.66 L420.37 780.6 L423.72 780.52 L427.34 780.44 L430.98 780.37 L434.38 780.32 L437.26 780.31 L439.37 780.27 L440.68 780.22 L441.44 780.26 L441.78 780.37 L441.83 780.53 L441.72 780.73 L441.57 780.95 L441.51 781.18 L441.67 781.39 L441.98 781.63 L442.31 781.9 L442.64 782.21 L442.98 782.52 L443.33 782.83 L443.67 783.11 L444.01 783.35 L444.35 783.52 L444.68 783.64 L445.01 783.72 L445.34 783.77 L445.67 783.78 L446 783.77 L446.34 783.73 L446.68 783.66 L447.03 783.56 L447.39 783.45 L447.76 783.3 L448.12 783.14 L448.49 782.94 L448.88 782.72 L449.27 782.46 L449.68 782.16 L450.1 781.83 L450.52 781.48 L450.91 781.13 L451.31 780.76 L451.73 780.34 L452.18 779.87 L452.69 779.32 L453.27 778.68 L453.93 777.92 L454.68 777.06 L455.49 776.12 L456.36 775.1 L457.29 774 L458.28 772.8 L459.32 771.5 L460.43 770.09 L461.6 768.56 L462.88 766.83 L464.3 764.89 L465.8 762.79 L467.35 760.62 L468.9 758.42 L470.4 756.39 L471.82 754.49 L473.1 752.77 L474.25 751.19 L475.33 749.67 L476.34 748.23 L477.29 746.85 L478.2 745.54 L479.07 744.3 L479.93 743.12 L480.77 742.01 L481.58 740.97 L482.36 740.01 L483.1 739.12 L483.81 738.29 L484.5 737.53 L485.18 736.81 L485.85 736.14 L486.52 735.5 L487.18 734.91 L487.83 734.36 L488.46 733.86 L489.08 733.41 L489.69 733.02 L490.3 732.67 L490.9 732.38 L491.5 732.15 L492.09 731.98 L492.65 731.89 L493.2 731.86 L493.75 731.88 L494.31 731.96 L494.88 732.08 L495.47 732.25 L496.1 732.47 L496.75 732.73 L497.41 733.03 L498.09 733.39 L498.78 733.79 L499.5 734.24 L500.25 734.75 L501.03 735.32 L501.85 735.94 L502.7 736.63 L503.59 737.41 L504.5 738.25 L505.44 739.15 L506.42 740.07 L507.42 741.01 L508.45 741.95 L509.52 742.88 L510.61 743.8 L511.73 744.75 L512.89 745.72 L514.07 746.69 L515.28 747.67 L516.52 748.64 L517.8 749.59 L519.1 750.51 L520.52 751.46 L522.11 752.46 L523.78 753.47 L525.45 754.46 L527.05 755.39 L528.49 756.22 L529.7 756.92 L530.6 757.45 L530.6 769.25 L529.7 768.72 L528.49 768.02 L527.05 767.19 L525.45 766.26 L523.78 765.27 L522.11 764.26 L520.52 763.26 L519.1 762.31 L517.8 761.38 L516.52 760.43 L515.28 759.47 L514.07 758.49 L512.89 757.52 L511.73 756.55 L510.61 755.6 L509.52 754.68 L508.45 753.75 L507.42 752.81 L506.42 751.87 L505.44 750.94 L504.5 750.05 L503.59 749.21 L502.7 748.43 L501.85 747.74 L501.03 747.11 L500.25 746.55 L499.5 746.04 L498.78 745.59 L498.09 745.19 L497.41 744.83 L496.75 744.53 L496.1 744.27 L495.47 744.05 L494.88 743.88 L494.31 743.75 L493.75 743.68 L493.2 743.66 L492.65 743.69 L492.09 743.77 L491.5 743.88 L490.9 744.06 L490.3 744.29 L489.69 744.58 L489.08 744.92 L488.46 745.32 L487.83 745.76 L487.18 746.25 L486.52 746.78 L485.85 747.35 L485.18 747.96 L484.5 748.62 L483.81 749.33 L483.1 750.09 L482.36 750.91 L481.58 751.8 L480.77 752.77 L479.93 753.8 L479.07 754.9 L478.2 756.07 L477.29 757.29 L476.34 758.58 L475.33 759.94 L474.25 761.35 L473.1 762.83 L471.82 764.44 L470.4 766.2 L468.9 768.04 L467.35 769.81 L465.8 771.57 L464.3 773.25 L462.88 774.81 L461.6 776.19 L460.43 777.4 L459.32 778.51 L458.28 779.53 L457.29 780.46 L456.36 781.31 L455.49 782.09 L454.68 782.81 L453.93 783.48 L453.27 784.08 L452.69 784.59 L452.18 785.03 L451.73 785.4 L451.31 785.71 L450.91 786 L450.52 786.26 L450.1 786.51 L449.68 786.75 L449.27 786.95 L448.88 787.12 L448.49 787.26 L448.12 787.37 L447.76 787.46 L447.39 787.52 L447.03 787.55 L446.68 787.57 L446.34 787.56 L446 787.52 L445.67 787.46 L445.34 787.37 L445.01 787.25 L444.68 787.1 L444.35 786.9 L444.01 786.65 L443.67 786.34 L443.33 785.98 L442.98 785.6 L442.64 785.21 L442.31 784.83 L441.98 784.47 L441.67 784.17 L441.51 783.92 L441.57 783.71 L441.72 783.52 L441.83 783.34 L441.78 783.17 L441.44 782.98 L440.68 782.77 L439.37 782.52 L437.26 782.35 L434.38 782.27 L430.98 782.22 L427.34 782.18 L423.72 782.15 L420.37 782.13 L417.58 782.11 L415.6 782.09Z" fill="#3ebfe7" stroke="#3ebfe7" stroke-width="0.8" stroke-linejoin="round"/>
<path d="M415.6 781.39 L417.58 781.38 L420.37 781.36 L423.72 781.33 L427.34 781.31 L430.98 781.29 L434.38 781.3 L437.26 781.33 L439.37 781.39 L440.68 781.49 L441.44 781.62 L441.78 781.77 L441.83 781.94 L441.72 782.12 L441.57 782.33 L441.51 782.55 L441.67 782.78 L441.98 783.05 L442.31 783.36 L442.64 783.71 L442.98 784.06 L443.33 784.41 L443.67 784.73 L444.01 785 L444.35 785.21 L444.68 785.37 L445.01 785.48 L445.34 785.57 L445.67 785.62 L446 785.65 L446.34 785.64 L446.68 785.61 L447.03 785.56 L447.39 785.48 L447.76 785.38 L448.12 785.26 L448.49 785.1 L448.88 784.92 L449.27 784.7 L449.68 784.45 L450.1 784.17 L450.52 783.87 L450.91 783.56 L451.31 783.23 L451.73 782.87 L452.18 782.45 L452.69 781.96 L453.27 781.38 L453.93 780.7 L454.68 779.93 L455.49 779.11 L456.36 778.21 L457.29 777.23 L458.28 776.17 L459.32 775.01 L460.43 773.75 L461.6 772.37 L462.88 770.82 L464.3 769.07 L465.8 767.18 L467.35 765.22 L468.9 763.23 L470.4 761.3 L471.82 759.46 L473.1 757.8 L474.25 756.27 L475.33 754.81 L476.34 753.41 L477.29 752.07 L478.2 750.8 L479.07 749.6 L479.93 748.46 L480.77 747.39 L481.58 746.39 L482.36 745.46 L483.1 744.6 L483.81 743.81 L484.5 743.07 L485.18 742.39 L485.85 741.74 L486.52 741.14 L487.18 740.58 L487.83 740.06 L488.46 739.59 L489.08 739.17 L489.69 738.8 L490.3 738.48 L490.9 738.22 L491.5 738.02 L492.09 737.87 L492.65 737.79 L493.2 737.76 L493.75 737.78 L494.31 737.85 L494.88 737.98 L495.47 738.15 L496.1 738.37 L496.75 738.63 L497.41 738.93 L498.09 739.29 L498.78 739.69 L499.5 740.14 L500.25 740.65 L501.03 741.21 L501.85 741.84 L502.7 742.53 L503.59 743.31 L504.5 744.15 L505.44 745.05 L506.42 745.97 L507.42 746.91 L508.45 747.85 L509.52 748.78 L510.61 749.7 L511.73 750.65 L512.89 751.62 L514.07 752.59 L515.28 753.57 L516.52 754.53 L517.8 755.48 L519.1 756.41 L520.52 757.36 L522.11 758.36 L523.78 759.37 L525.45 760.36 L527.05 761.29 L528.49 762.12 L529.7 762.82 L530.6 763.35" fill="none" stroke="#1f5fad" stroke-width="3" stroke-linejoin="round" stroke-linecap="round"/>
<path d="M415.6 779.66 L416.48 779.65 L417.65 779.65 L419.04 779.64 L420.58 779.63 L422.23 779.62 L423.9 779.61 L425.55 779.6 L427.1 779.59 L428.67 779.59 L430.36 779.61 L432.1 779.64 L433.83 779.66 L435.49 779.67 L437.01 779.65 L438.32 779.6 L439.37 779.52 L440.1 779.36 L440.56 779.15 L440.81 778.89 L440.92 778.62 L440.96 778.35 L440.99 778.1 L441.08 777.9 L441.28 777.77 L441.56 777.71 L441.82 777.71 L442.08 777.74 L442.36 777.81 L442.67 777.89 L443.04 777.97 L443.46 778.05 L443.97 778.1 L444.56 778.15 L445.22 778.2 L445.95 778.26 L446.72 778.32 L447.54 778.37 L448.38 778.41 L449.24 778.42 L450.1 778.41 L451.01 778.37 L451.98 778.3 L453 778.21 L454.03 778.1 L455.05 777.99 L456.03 777.88 L456.94 777.77 L457.77 777.67 L458.49 777.57 L459.12 777.46 L459.7 777.34 L460.23 777.22 L460.75 777.12 L461.26 777.03 L461.79 776.97 L462.37 776.95 L462.97 776.96 L463.57 777.01 L464.17 777.08 L464.79 777.17 L465.41 777.28 L466.04 777.39 L466.69 777.5 L467.35 777.61 L468.02 777.74 L468.69 777.9 L469.37 778.07 L470.06 778.25 L470.77 778.4 L471.51 778.53 L472.28 778.61 L473.1 778.62 L473.94 778.56 L474.79 778.45 L475.67 778.29 L476.57 778.1 L477.53 777.88 L478.54 777.65 L479.61 777.41 L480.77 777.18 L481.99 776.95 L483.28 776.69 L484.63 776.42 L486.04 776.13 L487.5 775.85 L489.03 775.56 L490.62 775.29 L492.27 775.03 L494.03 774.78 L495.92 774.53 L497.9 774.28 L499.93 774.03 L501.96 773.8 L503.95 773.58 L505.84 773.38 L507.6 773.2 L509.22 773.05 L510.74 772.91 L512.19 772.79 L513.59 772.69 L514.96 772.6 L516.31 772.53 L517.69 772.48 L519.1 772.44 L520.62 772.43 L522.24 772.44 L523.92 772.48 L525.57 772.53 L527.13 772.59 L528.53 772.64 L529.71 772.69 L530.6 772.72 L530.6 776.19 L529.71 776.15 L528.53 776.09 L527.13 776.02 L525.57 775.94 L523.92 775.87 L522.24 775.81 L520.62 775.78 L519.1 775.77 L517.69 775.79 L516.31 775.83 L514.96 775.89 L513.59 775.96 L512.19 776.04 L510.74 776.15 L509.22 776.26 L507.6 776.4 L505.84 776.55 L503.95 776.73 L501.96 776.92 L499.93 777.13 L497.9 777.35 L495.92 777.58 L494.03 777.81 L492.27 778.04 L490.62 778.28 L489.03 778.53 L487.5 778.8 L486.04 779.06 L484.63 779.33 L483.28 779.59 L481.99 779.83 L480.77 780.05 L479.61 780.27 L478.54 780.49 L477.53 780.71 L476.57 780.92 L475.67 781.1 L474.79 781.24 L473.94 781.35 L473.1 781.39 L472.28 781.37 L471.51 781.29 L470.77 781.15 L470.06 780.99 L469.37 780.8 L468.69 780.62 L468.02 780.45 L467.35 780.32 L466.69 780.2 L466.04 780.08 L465.41 779.96 L464.79 779.85 L464.17 779.75 L463.57 779.67 L462.97 779.62 L462.37 779.59 L461.79 779.61 L461.26 779.66 L460.75 779.74 L460.23 779.84 L459.7 779.95 L459.12 780.06 L458.49 780.17 L457.77 780.26 L456.94 780.35 L456.03 780.45 L455.05 780.55 L454.03 780.65 L453 780.74 L451.98 780.82 L451.01 780.88 L450.1 780.91 L449.24 780.91 L448.38 780.88 L447.54 780.84 L446.72 780.78 L445.95 780.71 L445.22 780.64 L444.56 780.58 L443.97 780.52 L443.46 780.46 L443.04 780.38 L442.67 780.29 L442.36 780.21 L442.08 780.14 L441.82 780.1 L441.56 780.11 L441.28 780.16 L441.08 780.29 L440.99 780.49 L440.96 780.73 L440.92 781 L440.81 781.28 L440.56 781.53 L440.1 781.74 L439.37 781.88 L438.32 781.96 L437.01 781.99 L435.49 781.99 L433.83 781.96 L432.1 781.92 L430.36 781.87 L428.67 781.83 L427.1 781.81 L425.55 781.8 L423.9 781.79 L422.23 781.78 L420.58 781.77 L419.04 781.76 L417.65 781.75 L416.48 781.75 L415.6 781.74Z" fill="#f6b27a" stroke="#f6b27a" stroke-width="0.8" stroke-linejoin="round"/>
<path d="M415.6 780.7 L416.48 780.7 L417.65 780.7 L419.04 780.7 L420.58 780.7 L422.23 780.7 L423.9 780.7 L425.55 780.7 L427.1 780.7 L428.67 780.71 L430.36 780.74 L432.1 780.78 L433.83 780.81 L435.49 780.83 L437.01 780.82 L438.32 780.78 L439.37 780.7 L440.1 780.55 L440.56 780.34 L440.81 780.08 L440.92 779.81 L440.96 779.54 L440.99 779.29 L441.08 779.09 L441.28 778.97 L441.56 778.91 L441.82 778.91 L442.08 778.94 L442.36 779.01 L442.67 779.09 L443.04 779.18 L443.46 779.25 L443.97 779.31 L444.56 779.36 L445.22 779.42 L445.95 779.49 L446.72 779.55 L447.54 779.61 L448.38 779.65 L449.24 779.67 L450.1 779.66 L451.01 779.62 L451.98 779.56 L453 779.47 L454.03 779.38 L455.05 779.27 L456.03 779.16 L456.94 779.06 L457.77 778.97 L458.49 778.87 L459.12 778.76 L459.7 778.64 L460.23 778.53 L460.75 778.43 L461.26 778.35 L461.79 778.29 L462.37 778.27 L462.97 778.29 L463.57 778.34 L464.17 778.41 L464.79 778.51 L465.41 778.62 L466.04 778.73 L466.69 778.85 L467.35 778.97 L468.02 779.1 L468.69 779.26 L469.37 779.44 L470.06 779.62 L470.77 779.78 L471.51 779.91 L472.28 779.99 L473.1 780.01 L473.94 779.95 L474.79 779.85 L475.67 779.69 L476.57 779.51 L477.53 779.3 L478.54 779.07 L479.61 778.84 L480.77 778.62 L481.99 778.39 L483.28 778.14 L484.63 777.87 L486.04 777.6 L487.5 777.32 L489.03 777.05 L490.62 776.78 L492.27 776.54 L494.03 776.3 L495.92 776.05 L497.9 775.81 L499.93 775.58 L501.96 775.36 L503.95 775.15 L505.84 774.97 L507.6 774.8 L509.22 774.66 L510.74 774.53 L512.19 774.42 L513.59 774.32 L514.96 774.25 L516.31 774.18 L517.69 774.14 L519.1 774.11 L520.62 774.1 L522.24 774.13 L523.92 774.18 L525.57 774.24 L527.13 774.3 L528.53 774.37 L529.71 774.42 L530.6 774.45" fill="none" stroke="#ef8a3c" stroke-width="3" stroke-linejoin="round" stroke-linecap="round"/>
<line x1="413.2" y1="780.7" x2="415.6" y2="780.7" stroke="#231f20" stroke-width="0.8"/>
<text x="412" y="782.7" font-size="6" font-weight="bold" text-anchor="end" fill="#231f20" letter-spacing="-0.25">0</text>
<line x1="413.2" y1="746" x2="415.6" y2="746" stroke="#231f20" stroke-width="0.8"/>
<text x="412" y="748" font-size="6" font-weight="bold" text-anchor="end" fill="#231f20" letter-spacing="-0.25">50</text>
<line x1="413.2" y1="711.3" x2="415.6" y2="711.3" stroke="#231f20" stroke-width="0.8"/>
<text x="412" y="713.3" font-size="6" font-weight="bold" text-anchor="end" fill="#231f20" letter-spacing="-0.25">100</text>
<line x1="438.6" y1="787.5" x2="438.6" y2="789.9" stroke="#231f20" stroke-width="0.8"/>
<text x="438.6" y="796.3" font-size="6" font-weight="bold" text-anchor="middle" fill="#231f20" letter-spacing="-0.25">60</text>
<line x1="461.6" y1="787.5" x2="461.6" y2="789.9" stroke="#231f20" stroke-width="0.8"/>
<text x="461.6" y="796.3" font-size="6" font-weight="bold" text-anchor="middle" fill="#231f20" letter-spacing="-0.25">120</text>
<line x1="484.6" y1="787.5" x2="484.6" y2="789.9" stroke="#231f20" stroke-width="0.8"/>
<text x="484.6" y="796.3" font-size="6" font-weight="bold" text-anchor="middle" fill="#231f20" letter-spacing="-0.25">180</text>
<line x1="507.6" y1="787.5" x2="507.6" y2="789.9" stroke="#231f20" stroke-width="0.8"/>
<text x="507.6" y="796.3" font-size="6" font-weight="bold" text-anchor="middle" fill="#231f20" letter-spacing="-0.25">240</text>
<line x1="530.6" y1="787.5" x2="530.6" y2="789.9" stroke="#231f20" stroke-width="0.8"/>
<text x="530.6" y="796.3" font-size="6" font-weight="bold" text-anchor="middle" fill="#231f20" letter-spacing="-0.25">300</text>
<line x1="415.6" y1="710.9" x2="415.6" y2="787.9" stroke="#231f20" stroke-width="1"/>
<line x1="415.2" y1="787.5" x2="530.6" y2="787.5" stroke="#231f20" stroke-width="1"/>
<text x="476.5" y="810.3" font-size="7.3" font-weight="bold" text-anchor="middle" fill="#231f20">Time (s)</text>
<text transform="translate(398.8 750.2) rotate(-90)" font-size="6.3" font-weight="bold" text-anchor="middle" fill="#231f20">ΔF/F<tspan font-size="4.0" dy="1.0">0</tspan><tspan dy="-1.0"> (%)</tspan></text>
<circle cx="423.3" cy="712.4" r="1.4" fill="#ef8a3c" stroke="none" stroke-width="1"/>
<text x="432" y="714.5" font-size="6" fill="#231f20">Vehicle</text>
<circle cx="423.3" cy="723.4" r="1.4" fill="#2b6fc0" stroke="none" stroke-width="1"/>
<text x="432" y="725.5" font-size="6" fill="#231f20">Grazoprevir (0.5 μM)</text>
<line x1="565.2" y1="783.6" x2="680.6" y2="783.6" stroke="#c8c8c8" stroke-width="0.6"/>
<path d="M565.2 782.87 L568.15 782.69 L572.41 782.42 L576.92 782.14 L580.59 781.92 L583.19 781.78 L585.27 781.69 L586.94 781.59 L588.28 781.44 L588.9 781.2 L588.88 780.91 L589.05 780.6 L590.2 780.32 L592.8 780.09 L596.33 779.89 L600.17 779.67 L603.67 779.39 L606.86 779.03 L610.01 778.62 L612.88 778.18 L615.21 777.77 L616.8 776.95 L617.83 776.59 L618.61 775.96 L619.44 774.31 L620.35 770.73 L621.19 765.89 L622.03 760.66 L622.9 755.53 L623.83 751.68 L624.8 747.75 L625.78 743.88 L626.75 740.22 L627.71 736.62 L628.67 733.05 L629.63 729.88 L630.59 727.47 L631.56 726.31 L632.52 725.96 L633.48 725.91 L634.44 725.64 L635.42 724.87 L636.41 723.91 L637.38 723.18 L638.29 723.09 L639.1 723.77 L639.85 724.98 L640.59 726.62 L641.36 728.56 L642.21 731.04 L643.1 734.08 L643.98 737.12 L644.83 739.65 L645.6 741.68 L646.34 743.45 L647.09 744.72 L647.9 745.29 L648.83 744.74 L649.83 743.3 L650.82 741.73 L651.75 740.77 L652.54 740.96 L653.24 741.79 L653.97 742.43 L654.83 742.04 L655.89 739.81 L657.09 736.38 L658.31 733.11 L659.44 731.37 L660.46 732.1 L661.41 734.4 L662.35 736.78 L663.29 737.78 L664.22 736.39 L665.14 733.58 L666.09 730.93 L667.14 729.98 L668.33 731.68 L669.64 735.02 L670.94 738.65 L672.14 741.2 L673.21 742.32 L674.2 742.73 L675.13 742.7 L675.98 742.51 L676.76 741.94 L677.45 740.93 L678.08 740.03 L678.68 739.75 L679.26 740.47 L679.81 741.82 L680.27 743.26 L680.6 744.23 L680.6 758.81 L680.27 757.88 L679.81 756.49 L679.26 755.2 L678.68 754.55 L678.08 754.89 L677.45 755.87 L676.76 756.96 L675.98 757.62 L675.13 757.91 L674.2 758.04 L673.21 757.74 L672.14 756.74 L670.94 754.33 L669.64 750.85 L668.33 747.66 L667.14 746.09 L666.09 747.16 L665.14 749.92 L664.22 752.83 L663.29 754.33 L662.35 753.43 L661.41 751.16 L660.46 748.97 L659.44 748.35 L658.31 750.23 L657.09 753.64 L655.89 757.2 L654.83 759.55 L653.97 760.03 L653.24 759.48 L652.54 758.73 L651.75 758.63 L650.82 759.7 L649.83 761.38 L648.83 762.93 L647.9 763.59 L647.09 763.11 L646.34 761.92 L645.6 760.24 L644.83 758.3 L643.98 755.87 L643.1 752.93 L642.21 749.99 L641.36 747.51 L640.59 745.58 L639.85 743.94 L639.1 742.72 L638.29 742.05 L637.38 742.14 L636.41 742.87 L635.42 743.82 L634.44 744.6 L633.48 744.87 L632.52 744.92 L631.56 745.26 L630.59 746.42 L629.63 748.47 L628.67 751.27 L627.71 754.48 L626.75 757.72 L625.78 761.01 L624.8 764.5 L623.83 768.07 L622.9 771.57 L622.03 774.21 L621.19 777.07 L620.35 779.51 L619.44 781.23 L618.61 782.1 L617.83 781.99 L616.8 781.37 L615.21 780.68 L612.88 781.03 L610.01 781.38 L606.86 781.71 L603.67 781.97 L600.17 782.15 L596.33 782.25 L592.8 782.35 L590.2 782.51 L589.05 782.75 L588.88 783.06 L588.9 783.35 L588.28 783.57 L586.94 783.69 L585.27 783.73 L583.19 783.76 L580.59 783.82 L576.92 783.94 L572.41 784.09 L568.15 784.23 L565.2 784.33Z" fill="#3ebfe7" stroke="#3ebfe7" stroke-width="0.8" stroke-linejoin="round"/>
<path d="M565.2 783.6 L568.15 783.46 L572.41 783.26 L576.92 783.04 L580.59 782.87 L583.19 782.77 L585.27 782.71 L586.94 782.64 L588.28 782.51 L588.9 782.28 L588.88 781.98 L589.05 781.68 L590.2 781.41 L592.8 781.22 L596.33 781.07 L600.17 780.91 L603.67 780.68 L606.86 780.37 L610.01 780 L612.88 779.61 L615.21 779.23 L616.8 779.16 L617.83 779.29 L618.61 779.03 L619.44 777.77 L620.35 775.12 L621.19 771.48 L622.03 767.43 L622.9 763.55 L623.83 759.87 L624.8 756.13 L625.78 752.45 L626.75 748.97 L627.71 745.55 L628.67 742.16 L629.63 739.17 L630.59 736.94 L631.56 735.79 L632.52 735.44 L633.48 735.39 L634.44 735.12 L635.42 734.35 L636.41 733.39 L637.38 732.66 L638.29 732.57 L639.1 733.24 L639.85 734.46 L640.59 736.1 L641.36 738.04 L642.21 740.51 L643.1 743.5 L643.98 746.5 L644.83 748.97 L645.6 750.96 L646.34 752.69 L647.09 753.92 L647.9 754.44 L648.83 753.84 L649.83 752.34 L650.82 750.72 L651.75 749.7 L652.54 749.85 L653.24 750.64 L653.97 751.23 L654.83 750.8 L655.89 748.51 L657.09 745.01 L658.31 741.67 L659.44 739.86 L660.46 740.54 L661.41 742.78 L662.35 745.11 L663.29 746.06 L664.22 744.61 L665.14 741.75 L666.09 739.04 L667.14 738.04 L668.33 739.67 L669.64 742.94 L670.94 746.49 L672.14 748.97 L673.21 750.03 L674.2 750.38 L675.13 750.31 L675.98 750.07 L676.76 749.45 L677.45 748.4 L678.08 747.46 L678.68 747.15 L679.26 747.83 L679.81 749.15 L680.27 750.57 L680.6 751.52" fill="none" stroke="#1f5fad" stroke-width="2.4" stroke-linejoin="round" stroke-linecap="round"/>
<path d="M565.2 782.51 L566.09 782.57 L567.27 782.66 L568.68 782.77 L570.25 782.89 L571.91 783.01 L573.58 783.11 L575.22 783.19 L576.74 783.24 L578.25 783.25 L579.85 783.25 L581.49 783.23 L583.11 783.19 L584.66 783.14 L586.07 783.06 L587.3 782.98 L588.28 782.87 L588.9 782.74 L589.17 782.57 L589.2 782.37 L589.12 782.16 L589.06 781.95 L589.14 781.75 L589.48 781.57 L590.2 781.41 L591.32 781.3 L592.71 781.21 L594.32 781.15 L596.09 781.09 L597.97 781.03 L599.9 780.95 L601.81 780.84 L603.67 780.68 L605.52 780.47 L607.47 780.21 L609.46 779.91 L611.48 779.59 L613.48 779.27 L615.43 778.98 L617.3 778.71 L619.05 778.5 L620.63 778.32 L622.03 778.17 L623.32 778.04 L624.58 777.93 L625.87 777.84 L627.26 777.79 L628.81 777.76 L630.59 777.77 L632.66 777.82 L634.95 777.92 L637.41 778.06 L639.97 778.22 L642.56 778.4 L645.11 778.57 L647.55 778.73 L649.83 778.86 L651.93 778.97 L653.94 779.06 L655.88 779.15 L657.76 779.23 L659.61 779.31 L661.46 779.39 L663.32 779.48 L665.21 779.59 L667.24 779.72 L669.42 779.86 L671.66 780.02 L673.87 780.18 L675.96 780.34 L677.84 780.48 L679.41 780.6 L680.6 780.68 L680.6 782.87 L679.41 782.78 L677.84 782.67 L675.96 782.53 L673.87 782.37 L671.66 782.21 L669.42 782.05 L667.24 781.9 L665.21 781.78 L663.32 781.67 L661.46 781.58 L659.61 781.49 L657.76 781.41 L655.88 781.33 L653.94 781.25 L651.93 781.15 L649.83 781.05 L647.55 780.92 L645.11 780.76 L642.56 780.59 L639.97 780.41 L637.41 780.25 L634.95 780.11 L632.66 780.01 L630.59 779.96 L628.81 779.95 L627.26 779.97 L625.87 780.03 L624.58 780.11 L623.32 780.22 L622.03 780.36 L620.63 780.51 L619.05 780.68 L617.3 780.9 L615.43 781.16 L613.48 781.46 L611.48 781.78 L609.46 782.09 L607.47 782.39 L605.52 782.66 L603.67 782.87 L601.81 783.03 L599.9 783.14 L597.97 783.22 L596.09 783.28 L594.32 783.34 L592.71 783.4 L591.32 783.48 L590.2 783.6 L589.48 783.75 L589.14 783.94 L589.06 784.14 L589.12 784.35 L589.2 784.56 L589.17 784.75 L588.9 784.92 L588.28 785.06 L587.3 785.16 L586.07 785.25 L584.66 785.32 L583.11 785.38 L581.49 785.41 L579.85 785.43 L578.25 785.44 L576.74 785.42 L575.22 785.38 L573.58 785.3 L571.91 785.2 L570.25 785.08 L568.68 784.96 L567.27 784.85 L566.09 784.76 L565.2 784.69Z" fill="#f6b27a" stroke="#f6b27a" stroke-width="0.8" stroke-linejoin="round"/>
<path d="M565.2 783.6 L566.09 783.66 L567.27 783.76 L568.68 783.87 L570.25 783.99 L571.91 784.1 L573.58 784.21 L575.22 784.29 L576.74 784.33 L578.25 784.34 L579.85 784.34 L581.49 784.32 L583.11 784.28 L584.66 784.23 L586.07 784.16 L587.3 784.07 L588.28 783.96 L588.9 783.83 L589.17 783.66 L589.2 783.47 L589.12 783.26 L589.06 783.05 L589.14 782.85 L589.48 782.66 L590.2 782.51 L591.32 782.39 L592.71 782.31 L594.32 782.24 L596.09 782.19 L597.97 782.13 L599.9 782.05 L601.81 781.93 L603.67 781.78 L605.52 781.56 L607.47 781.3 L609.46 781 L611.48 780.68 L613.48 780.37 L615.43 780.07 L617.3 779.8 L619.05 779.59 L620.63 779.42 L622.03 779.26 L623.32 779.13 L624.58 779.02 L625.87 778.94 L627.26 778.88 L628.81 778.86 L630.59 778.86 L632.66 778.91 L634.95 779.02 L637.41 779.15 L639.97 779.32 L642.56 779.49 L645.11 779.66 L647.55 779.82 L649.83 779.96 L651.93 780.06 L653.94 780.15 L655.88 780.24 L657.76 780.32 L659.61 780.4 L661.46 780.48 L663.32 780.58 L665.21 780.68 L667.24 780.81 L669.42 780.96 L671.66 781.12 L673.87 781.28 L675.96 781.43 L677.84 781.57 L679.41 781.69 L680.6 781.78" fill="none" stroke="#ef8a3c" stroke-width="3" stroke-linejoin="round" stroke-linecap="round"/>
<line x1="562.8" y1="783.6" x2="565.2" y2="783.6" stroke="#231f20" stroke-width="0.8"/>
<text x="561.6" y="785.6" font-size="6" font-weight="bold" text-anchor="end" fill="#231f20" letter-spacing="-0.25">0</text>
<line x1="562.8" y1="765.38" x2="565.2" y2="765.38" stroke="#231f20" stroke-width="0.8"/>
<text x="561.6" y="767.38" font-size="6" font-weight="bold" text-anchor="end" fill="#231f20" letter-spacing="-0.25">50</text>
<line x1="562.8" y1="747.15" x2="565.2" y2="747.15" stroke="#231f20" stroke-width="0.8"/>
<text x="561.6" y="749.15" font-size="6" font-weight="bold" text-anchor="end" fill="#231f20" letter-spacing="-0.25">100</text>
<line x1="562.8" y1="728.93" x2="565.2" y2="728.93" stroke="#231f20" stroke-width="0.8"/>
<text x="561.6" y="730.93" font-size="6" font-weight="bold" text-anchor="end" fill="#231f20" letter-spacing="-0.25">150</text>
<line x1="562.8" y1="710.7" x2="565.2" y2="710.7" stroke="#231f20" stroke-width="0.8"/>
<text x="561.6" y="712.7" font-size="6" font-weight="bold" text-anchor="end" fill="#231f20" letter-spacing="-0.25">200</text>
<line x1="565.2" y1="786.9" x2="565.2" y2="789.3" stroke="#231f20" stroke-width="0.8"/>
<text x="565.2" y="796.3" font-size="6" font-weight="bold" text-anchor="middle" fill="#231f20" letter-spacing="-0.25">0</text>
<line x1="588.28" y1="786.9" x2="588.28" y2="789.3" stroke="#231f20" stroke-width="0.8"/>
<text x="588.28" y="796.3" font-size="6" font-weight="bold" text-anchor="middle" fill="#231f20" letter-spacing="-0.25">60</text>
<line x1="611.36" y1="786.9" x2="611.36" y2="789.3" stroke="#231f20" stroke-width="0.8"/>
<text x="611.36" y="796.3" font-size="6" font-weight="bold" text-anchor="middle" fill="#231f20" letter-spacing="-0.25">120</text>
<line x1="634.44" y1="786.9" x2="634.44" y2="789.3" stroke="#231f20" stroke-width="0.8"/>
<text x="634.44" y="796.3" font-size="6" font-weight="bold" text-anchor="middle" fill="#231f20" letter-spacing="-0.25">180</text>
<line x1="657.52" y1="786.9" x2="657.52" y2="789.3" stroke="#231f20" stroke-width="0.8"/>
<text x="657.52" y="796.3" font-size="6" font-weight="bold" text-anchor="middle" fill="#231f20" letter-spacing="-0.25">240</text>
<line x1="680.6" y1="786.9" x2="680.6" y2="789.3" stroke="#231f20" stroke-width="0.8"/>
<text x="680.6" y="796.3" font-size="6" font-weight="bold" text-anchor="middle" fill="#231f20" letter-spacing="-0.25">300</text>
<line x1="565.2" y1="710.3" x2="565.2" y2="787.3" stroke="#231f20" stroke-width="1"/>
<line x1="564.8" y1="786.9" x2="680.6" y2="786.9" stroke="#231f20" stroke-width="1"/>
<text x="624.8" y="810.3" font-size="7.3" font-weight="bold" text-anchor="middle" fill="#231f20">Time (s)</text>
<text transform="translate(550.2 748.5) rotate(-90)" font-size="6.3" font-weight="bold" text-anchor="middle" fill="#231f20">ΔF/F<tspan font-size="4.0" dy="1.0">0</tspan><tspan dy="-1.0"> (%)</tspan></text>
</svg></body></html>
